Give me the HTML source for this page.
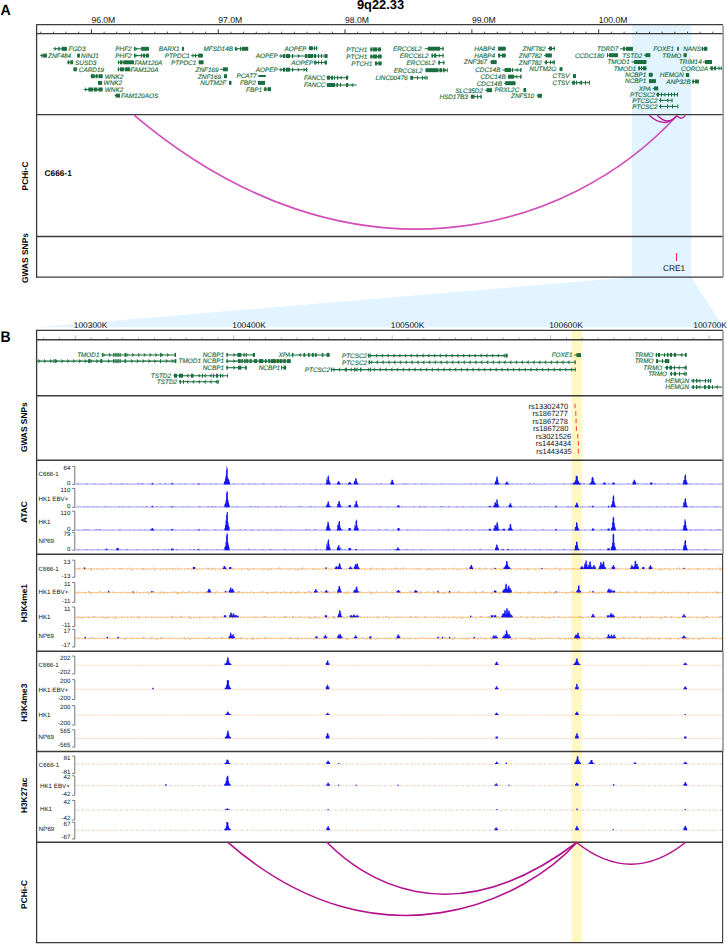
<!DOCTYPE html>
<html><head><meta charset="utf-8"><title>9q22.33</title>
<style>html,body{margin:0;padding:0;background:#fff;}svg{display:block;}text{font-family:"Liberation Sans",sans-serif;text-rendering:geometricPrecision;}</style>
</head><body>
<svg width="727" height="944" viewBox="0 0 727 944">
<rect x="0" y="0" width="727" height="944" fill="#fff"/>
<rect x="632" y="24.8" width="59.3" height="252.5" fill="#e2f4ff"/>
<polygon points="632,277.2 691.3,277.2 723.5,327.2 36.6,327.2" fill="#e2f4ff"/>
<rect x="571.5" y="331" width="10.5" height="612" fill="#fff8c2"/>
<text x="0" y="0" font-size="14.2" font-weight="bold" fill="#000" transform="translate(0.5,14.85) scale(1,1.06)">A</text>
<text x="0" y="0" font-size="14" font-weight="bold" fill="#000" transform="translate(0.4,342.0) scale(1,1.1)">B</text>
<text x="356.9" y="8.8" font-size="12.9" text-anchor="start" font-weight="bold" font-style="normal" fill="#000" >9q22.33</text>
<line x1="40.67" y1="33.3" x2="40.67" y2="31.6" stroke="#333" stroke-width="0.8"/>
<line x1="53.35" y1="33.3" x2="53.35" y2="31.6" stroke="#333" stroke-width="0.8"/>
<line x1="66.03" y1="33.3" x2="66.03" y2="31.6" stroke="#333" stroke-width="0.8"/>
<line x1="78.72" y1="33.3" x2="78.72" y2="31.6" stroke="#333" stroke-width="0.8"/>
<line x1="91.40" y1="33.3" x2="91.40" y2="29.3" stroke="#333" stroke-width="1.0"/>
<line x1="104.08" y1="33.3" x2="104.08" y2="31.6" stroke="#333" stroke-width="0.8"/>
<line x1="116.77" y1="33.3" x2="116.77" y2="31.6" stroke="#333" stroke-width="0.8"/>
<line x1="129.45" y1="33.3" x2="129.45" y2="31.6" stroke="#333" stroke-width="0.8"/>
<line x1="142.13" y1="33.3" x2="142.13" y2="31.6" stroke="#333" stroke-width="0.8"/>
<line x1="154.81" y1="33.3" x2="154.81" y2="31.6" stroke="#333" stroke-width="0.8"/>
<line x1="167.50" y1="33.3" x2="167.50" y2="31.6" stroke="#333" stroke-width="0.8"/>
<line x1="180.18" y1="33.3" x2="180.18" y2="31.6" stroke="#333" stroke-width="0.8"/>
<line x1="192.86" y1="33.3" x2="192.86" y2="31.6" stroke="#333" stroke-width="0.8"/>
<line x1="205.55" y1="33.3" x2="205.55" y2="31.6" stroke="#333" stroke-width="0.8"/>
<line x1="218.23" y1="33.3" x2="218.23" y2="29.3" stroke="#333" stroke-width="1.0"/>
<line x1="230.91" y1="33.3" x2="230.91" y2="31.6" stroke="#333" stroke-width="0.8"/>
<line x1="243.60" y1="33.3" x2="243.60" y2="31.6" stroke="#333" stroke-width="0.8"/>
<line x1="256.28" y1="33.3" x2="256.28" y2="31.6" stroke="#333" stroke-width="0.8"/>
<line x1="268.96" y1="33.3" x2="268.96" y2="31.6" stroke="#333" stroke-width="0.8"/>
<line x1="281.64" y1="33.3" x2="281.64" y2="31.6" stroke="#333" stroke-width="0.8"/>
<line x1="294.33" y1="33.3" x2="294.33" y2="31.6" stroke="#333" stroke-width="0.8"/>
<line x1="307.01" y1="33.3" x2="307.01" y2="31.6" stroke="#333" stroke-width="0.8"/>
<line x1="319.69" y1="33.3" x2="319.69" y2="31.6" stroke="#333" stroke-width="0.8"/>
<line x1="332.38" y1="33.3" x2="332.38" y2="31.6" stroke="#333" stroke-width="0.8"/>
<line x1="345.06" y1="33.3" x2="345.06" y2="29.3" stroke="#333" stroke-width="1.0"/>
<line x1="357.74" y1="33.3" x2="357.74" y2="31.6" stroke="#333" stroke-width="0.8"/>
<line x1="370.43" y1="33.3" x2="370.43" y2="31.6" stroke="#333" stroke-width="0.8"/>
<line x1="383.11" y1="33.3" x2="383.11" y2="31.6" stroke="#333" stroke-width="0.8"/>
<line x1="395.79" y1="33.3" x2="395.79" y2="31.6" stroke="#333" stroke-width="0.8"/>
<line x1="408.48" y1="33.3" x2="408.48" y2="31.6" stroke="#333" stroke-width="0.8"/>
<line x1="421.16" y1="33.3" x2="421.16" y2="31.6" stroke="#333" stroke-width="0.8"/>
<line x1="433.84" y1="33.3" x2="433.84" y2="31.6" stroke="#333" stroke-width="0.8"/>
<line x1="446.52" y1="33.3" x2="446.52" y2="31.6" stroke="#333" stroke-width="0.8"/>
<line x1="459.21" y1="33.3" x2="459.21" y2="31.6" stroke="#333" stroke-width="0.8"/>
<line x1="471.89" y1="33.3" x2="471.89" y2="29.3" stroke="#333" stroke-width="1.0"/>
<line x1="484.57" y1="33.3" x2="484.57" y2="31.6" stroke="#333" stroke-width="0.8"/>
<line x1="497.26" y1="33.3" x2="497.26" y2="31.6" stroke="#333" stroke-width="0.8"/>
<line x1="509.94" y1="33.3" x2="509.94" y2="31.6" stroke="#333" stroke-width="0.8"/>
<line x1="522.62" y1="33.3" x2="522.62" y2="31.6" stroke="#333" stroke-width="0.8"/>
<line x1="535.31" y1="33.3" x2="535.31" y2="31.6" stroke="#333" stroke-width="0.8"/>
<line x1="547.99" y1="33.3" x2="547.99" y2="31.6" stroke="#333" stroke-width="0.8"/>
<line x1="560.67" y1="33.3" x2="560.67" y2="31.6" stroke="#333" stroke-width="0.8"/>
<line x1="573.35" y1="33.3" x2="573.35" y2="31.6" stroke="#333" stroke-width="0.8"/>
<line x1="586.04" y1="33.3" x2="586.04" y2="31.6" stroke="#333" stroke-width="0.8"/>
<line x1="598.72" y1="33.3" x2="598.72" y2="29.3" stroke="#333" stroke-width="1.0"/>
<line x1="611.40" y1="33.3" x2="611.40" y2="31.6" stroke="#333" stroke-width="0.8"/>
<line x1="624.09" y1="33.3" x2="624.09" y2="31.6" stroke="#333" stroke-width="0.8"/>
<line x1="636.77" y1="33.3" x2="636.77" y2="31.6" stroke="#333" stroke-width="0.8"/>
<line x1="649.45" y1="33.3" x2="649.45" y2="31.6" stroke="#333" stroke-width="0.8"/>
<line x1="662.13" y1="33.3" x2="662.13" y2="31.6" stroke="#333" stroke-width="0.8"/>
<line x1="674.82" y1="33.3" x2="674.82" y2="31.6" stroke="#333" stroke-width="0.8"/>
<line x1="687.50" y1="33.3" x2="687.50" y2="31.6" stroke="#333" stroke-width="0.8"/>
<line x1="700.18" y1="33.3" x2="700.18" y2="31.6" stroke="#333" stroke-width="0.8"/>
<line x1="712.87" y1="33.3" x2="712.87" y2="31.6" stroke="#333" stroke-width="0.8"/>
<text x="91.4" y="23.0" font-size="8.6" text-anchor="start" font-weight="normal" font-style="normal" fill="#111" >96.0M</text>
<text x="218.2" y="23.0" font-size="8.6" text-anchor="start" font-weight="normal" font-style="normal" fill="#111" >97.0M</text>
<text x="345.1" y="23.0" font-size="8.6" text-anchor="start" font-weight="normal" font-style="normal" fill="#111" >98.0M</text>
<text x="471.9" y="23.0" font-size="8.6" text-anchor="start" font-weight="normal" font-style="normal" fill="#111" >99.0M</text>
<text x="598.7" y="23.0" font-size="8.6" text-anchor="start" font-weight="normal" font-style="normal" fill="#111" >100.0M</text>
<line x1="36.6" y1="24.6" x2="722.9" y2="24.6" stroke="#3a3a3a" stroke-width="1.3"/>
<line x1="36.6" y1="33.6" x2="722.9" y2="33.6" stroke="#3a3a3a" stroke-width="1.4"/>
<line x1="36.6" y1="114.6" x2="722.9" y2="114.6" stroke="#3a3a3a" stroke-width="1.3"/>
<line x1="36.6" y1="236.5" x2="722.9" y2="236.5" stroke="#3a3a3a" stroke-width="1.3"/>
<line x1="36.6" y1="277.1" x2="722.9" y2="277.1" stroke="#3a3a3a" stroke-width="1.3"/>
<line x1="36.6" y1="24.2" x2="36.6" y2="277.7" stroke="#3a3a3a" stroke-width="1.3"/>
<line x1="723.1" y1="25.2" x2="723.1" y2="277.1" stroke="#8c8c8c" stroke-width="1.4"/>
<text x="0" y="0" font-size="8.4" text-anchor="middle" font-weight="bold" fill="#000" transform="translate(25.1,176.0) rotate(-90)" dominant-baseline="central">PCHi-C</text>
<text x="0" y="0" font-size="8.4" text-anchor="middle" font-weight="bold" fill="#000" transform="translate(25.1,258.0) rotate(-90)" dominant-baseline="central">GWAS SNPs</text>
<text x="44.6" y="176.4" font-size="8.3" text-anchor="start" font-weight="bold" font-style="normal" fill="#000" >C666-1</text>
<line x1="676.5" y1="253.2" x2="676.5" y2="261" stroke="#ee3344" stroke-width="1.2"/>
<text x="662.9" y="270.8" font-size="8.4" text-anchor="start" font-weight="normal" font-style="normal" fill="#111" >CRE1</text>
<line x1="43.50" y1="339.5" x2="43.50" y2="337.5" stroke="#999" stroke-width="0.8"/>
<line x1="59.35" y1="339.5" x2="59.35" y2="337.5" stroke="#999" stroke-width="0.8"/>
<line x1="75.20" y1="339.5" x2="75.20" y2="335.2" stroke="#bbb" stroke-width="1"/>
<line x1="91.05" y1="339.5" x2="91.05" y2="337.5" stroke="#999" stroke-width="0.8"/>
<line x1="106.90" y1="339.5" x2="106.90" y2="337.5" stroke="#999" stroke-width="0.8"/>
<line x1="122.74" y1="339.5" x2="122.74" y2="337.5" stroke="#999" stroke-width="0.8"/>
<line x1="138.59" y1="339.5" x2="138.59" y2="337.5" stroke="#999" stroke-width="0.8"/>
<line x1="154.44" y1="339.5" x2="154.44" y2="337.5" stroke="#999" stroke-width="0.8"/>
<line x1="170.29" y1="339.5" x2="170.29" y2="337.5" stroke="#999" stroke-width="0.8"/>
<line x1="186.14" y1="339.5" x2="186.14" y2="337.5" stroke="#999" stroke-width="0.8"/>
<line x1="201.98" y1="339.5" x2="201.98" y2="337.5" stroke="#999" stroke-width="0.8"/>
<line x1="217.83" y1="339.5" x2="217.83" y2="337.5" stroke="#999" stroke-width="0.8"/>
<line x1="233.68" y1="339.5" x2="233.68" y2="335.2" stroke="#bbb" stroke-width="1"/>
<line x1="249.53" y1="339.5" x2="249.53" y2="337.5" stroke="#999" stroke-width="0.8"/>
<line x1="265.38" y1="339.5" x2="265.38" y2="337.5" stroke="#999" stroke-width="0.8"/>
<line x1="281.22" y1="339.5" x2="281.22" y2="337.5" stroke="#999" stroke-width="0.8"/>
<line x1="297.07" y1="339.5" x2="297.07" y2="337.5" stroke="#999" stroke-width="0.8"/>
<line x1="312.92" y1="339.5" x2="312.92" y2="337.5" stroke="#999" stroke-width="0.8"/>
<line x1="328.77" y1="339.5" x2="328.77" y2="337.5" stroke="#999" stroke-width="0.8"/>
<line x1="344.62" y1="339.5" x2="344.62" y2="337.5" stroke="#999" stroke-width="0.8"/>
<line x1="360.46" y1="339.5" x2="360.46" y2="337.5" stroke="#999" stroke-width="0.8"/>
<line x1="376.31" y1="339.5" x2="376.31" y2="337.5" stroke="#999" stroke-width="0.8"/>
<line x1="392.16" y1="339.5" x2="392.16" y2="335.2" stroke="#bbb" stroke-width="1"/>
<line x1="408.01" y1="339.5" x2="408.01" y2="337.5" stroke="#999" stroke-width="0.8"/>
<line x1="423.86" y1="339.5" x2="423.86" y2="337.5" stroke="#999" stroke-width="0.8"/>
<line x1="439.70" y1="339.5" x2="439.70" y2="337.5" stroke="#999" stroke-width="0.8"/>
<line x1="455.55" y1="339.5" x2="455.55" y2="337.5" stroke="#999" stroke-width="0.8"/>
<line x1="471.40" y1="339.5" x2="471.40" y2="337.5" stroke="#999" stroke-width="0.8"/>
<line x1="487.25" y1="339.5" x2="487.25" y2="337.5" stroke="#999" stroke-width="0.8"/>
<line x1="503.10" y1="339.5" x2="503.10" y2="337.5" stroke="#999" stroke-width="0.8"/>
<line x1="518.94" y1="339.5" x2="518.94" y2="337.5" stroke="#999" stroke-width="0.8"/>
<line x1="534.79" y1="339.5" x2="534.79" y2="337.5" stroke="#999" stroke-width="0.8"/>
<line x1="550.64" y1="339.5" x2="550.64" y2="335.2" stroke="#bbb" stroke-width="1"/>
<line x1="566.49" y1="339.5" x2="566.49" y2="337.5" stroke="#999" stroke-width="0.8"/>
<line x1="582.34" y1="339.5" x2="582.34" y2="337.5" stroke="#999" stroke-width="0.8"/>
<line x1="598.18" y1="339.5" x2="598.18" y2="337.5" stroke="#999" stroke-width="0.8"/>
<line x1="614.03" y1="339.5" x2="614.03" y2="337.5" stroke="#999" stroke-width="0.8"/>
<line x1="629.88" y1="339.5" x2="629.88" y2="337.5" stroke="#999" stroke-width="0.8"/>
<line x1="645.73" y1="339.5" x2="645.73" y2="337.5" stroke="#999" stroke-width="0.8"/>
<line x1="661.58" y1="339.5" x2="661.58" y2="337.5" stroke="#999" stroke-width="0.8"/>
<line x1="677.42" y1="339.5" x2="677.42" y2="337.5" stroke="#999" stroke-width="0.8"/>
<line x1="693.27" y1="339.5" x2="693.27" y2="337.5" stroke="#999" stroke-width="0.8"/>
<line x1="709.12" y1="339.5" x2="709.12" y2="335.2" stroke="#bbb" stroke-width="1"/>
<text x="73.8" y="327.9" font-size="8.4" text-anchor="start" font-weight="normal" font-style="normal" fill="#111" >100300K</text>
<text x="232.3" y="327.9" font-size="8.4" text-anchor="start" font-weight="normal" font-style="normal" fill="#111" >100400K</text>
<text x="390.8" y="327.9" font-size="8.4" text-anchor="start" font-weight="normal" font-style="normal" fill="#111" >100500K</text>
<text x="549.2" y="327.9" font-size="8.4" text-anchor="start" font-weight="normal" font-style="normal" fill="#111" >100600K</text>
<text x="726.8" y="327.9" font-size="8.4" text-anchor="end" font-weight="normal" font-style="normal" fill="#111" >100700K</text>
<line x1="36.6" y1="330.4" x2="722.9" y2="330.4" stroke="#3a3a3a" stroke-width="1.4"/>
<line x1="36.6" y1="339.8" x2="722.9" y2="339.8" stroke="#3a3a3a" stroke-width="1.6"/>
<line x1="36.6" y1="395.8" x2="722.9" y2="395.8" stroke="#3a3a3a" stroke-width="1.4"/>
<line x1="36.6" y1="460.3" x2="722.9" y2="460.3" stroke="#3a3a3a" stroke-width="1.4"/>
<line x1="36.6" y1="554.2" x2="722.9" y2="554.2" stroke="#3a3a3a" stroke-width="1.4"/>
<line x1="36.6" y1="651.2" x2="722.9" y2="651.2" stroke="#3a3a3a" stroke-width="1.4"/>
<line x1="36.6" y1="751.5" x2="722.9" y2="751.5" stroke="#3a3a3a" stroke-width="1.4"/>
<line x1="36.6" y1="842.3" x2="722.9" y2="842.3" stroke="#3a3a3a" stroke-width="1.4"/>
<line x1="36.6" y1="942.6" x2="722.9" y2="942.6" stroke="#3a3a3a" stroke-width="1.4"/>
<line x1="36.6" y1="329.8" x2="36.6" y2="943.3" stroke="#3a3a3a" stroke-width="1.3"/>
<line x1="723.0" y1="331" x2="723.0" y2="460.3" stroke="#8c8c8c" stroke-width="1.4"/>
<line x1="723.0" y1="460.3" x2="723.0" y2="554.2" stroke="#8c8c8c" stroke-width="1.5"/>
<line x1="722.6" y1="554.2" x2="722.6" y2="651.2" stroke="#3a3a3a" stroke-width="1.1"/>
<line x1="723.0" y1="651.2" x2="723.0" y2="751.5" stroke="#8c8c8c" stroke-width="1.5"/>
<line x1="722.6" y1="751.5" x2="722.6" y2="943.3" stroke="#3a3a3a" stroke-width="1.1"/>
<text x="0" y="0" font-size="8.4" text-anchor="middle" font-weight="bold" fill="#000" transform="translate(24.2,427.2) rotate(-90)" dominant-baseline="central">GWAS SNPs</text>
<text x="0" y="0" font-size="8.4" text-anchor="middle" font-weight="bold" fill="#000" transform="translate(24.0,512.1) rotate(-90)" dominant-baseline="central">ATAC</text>
<text x="0" y="0" font-size="8.4" text-anchor="middle" font-weight="bold" fill="#000" transform="translate(24.0,603.1) rotate(-90)" dominant-baseline="central">H3K4me1</text>
<text x="0" y="0" font-size="8.4" text-anchor="middle" font-weight="bold" fill="#000" transform="translate(24.0,702.7) rotate(-90)" dominant-baseline="central">H3K4me3</text>
<text x="0" y="0" font-size="8.4" text-anchor="middle" font-weight="bold" fill="#000" transform="translate(24.0,795.4) rotate(-90)" dominant-baseline="central">H3K27ac</text>
<text x="0" y="0" font-size="8.4" text-anchor="middle" font-weight="bold" fill="#000" transform="translate(24.3,894.5) rotate(-90)" dominant-baseline="central">PCHi-C</text>
<line x1="53.2" y1="48.8" x2="66.8" y2="48.8" stroke="#1b6e3f" stroke-width="1.05"/><polygon points="56.60,48.80 54.60,46.90 55.20,48.80 54.60,50.70" fill="#1b6e3f" stroke="#1b6e3f" stroke-width="0.35"/><rect x="58.2" y="46.8" width="1.4" height="4.0" fill="#1b6e3f"/><rect x="61.6" y="46.8" width="5.2" height="4.0" fill="#1b6e3f"/><text x="68.5" y="51.1" font-size="6.4" text-anchor="start" font-style="italic" fill="#1b6e3f" stroke="#1b6e3f" stroke-width="0.14">FGD3</text>
<line x1="40.2" y1="55.6" x2="46.9" y2="55.6" stroke="#1b6e3f" stroke-width="1.05"/><rect x="41.4" y="53.6" width="1.2" height="4.0" fill="#1b6e3f"/><rect x="43.2" y="53.6" width="3.7" height="4.0" fill="#1b6e3f"/><text x="48.1" y="57.9" font-size="6.4" text-anchor="start" font-style="italic" fill="#1b6e3f" stroke="#1b6e3f" stroke-width="0.14">ZNF484</text>
<line x1="77.2" y1="55.6" x2="79.9" y2="55.6" stroke="#1b6e3f" stroke-width="1.05"/><rect x="77.2" y="53.6" width="2.7" height="4.0" fill="#1b6e3f"/><text x="81.1" y="57.9" font-size="6.4" text-anchor="start" font-style="italic" fill="#1b6e3f" stroke="#1b6e3f" stroke-width="0.14">NINJ1</text>
<line x1="67.3" y1="62.3" x2="73.1" y2="62.3" stroke="#1b6e3f" stroke-width="1.05"/><rect x="67.6" y="60.3" width="1.7" height="4.0" fill="#1b6e3f"/><rect x="70.3" y="60.3" width="2.8" height="4.0" fill="#1b6e3f"/><text x="75.0" y="64.6" font-size="6.4" text-anchor="start" font-style="italic" fill="#1b6e3f" stroke="#1b6e3f" stroke-width="0.14">SUSD3</text>
<line x1="73.5" y1="69.3" x2="76.9" y2="69.3" stroke="#1b6e3f" stroke-width="1.05"/><rect x="73.5" y="67.3" width="3.4" height="4.0" fill="#1b6e3f"/><text x="78.8" y="71.6" font-size="6.4" text-anchor="start" font-style="italic" fill="#1b6e3f" stroke="#1b6e3f" stroke-width="0.14">CARD19</text>
<line x1="90.5" y1="76.2" x2="102.6" y2="76.2" stroke="#1b6e3f" stroke-width="1.05"/><rect x="91.0" y="74.2" width="3.8" height="4.0" fill="#1b6e3f"/><rect x="95.6" y="74.2" width="2.0" height="4.0" fill="#1b6e3f"/><rect x="98.6" y="74.2" width="4.0" height="4.0" fill="#1b6e3f"/><text x="104.8" y="78.5" font-size="6.4" text-anchor="start" font-style="italic" fill="#1b6e3f" stroke="#1b6e3f" stroke-width="0.14">WNK2</text>
<line x1="98.0" y1="82.9" x2="102.1" y2="82.9" stroke="#1b6e3f" stroke-width="1.05"/><rect x="98.0" y="80.9" width="4.1" height="4.0" fill="#1b6e3f"/><text x="103.6" y="85.2" font-size="6.4" text-anchor="start" font-style="italic" fill="#1b6e3f" stroke="#1b6e3f" stroke-width="0.14">WNK2</text>
<line x1="83.7" y1="89.5" x2="102.6" y2="89.5" stroke="#1b6e3f" stroke-width="1.05"/><polygon points="87.10,89.50 85.10,87.60 85.70,89.50 85.10,91.40" fill="#1b6e3f" stroke="#1b6e3f" stroke-width="0.35"/><rect x="88.3" y="87.5" width="4.7" height="4.0" fill="#1b6e3f"/><rect x="93.8" y="87.5" width="3.6" height="4.0" fill="#1b6e3f"/><rect x="98.4" y="87.5" width="4.2" height="4.0" fill="#1b6e3f"/><text x="104.8" y="91.8" font-size="6.4" text-anchor="start" font-style="italic" fill="#1b6e3f" stroke="#1b6e3f" stroke-width="0.14">WNK2</text>
<line x1="114.7" y1="95.6" x2="120.0" y2="95.6" stroke="#1b6e3f" stroke-width="1.05"/><rect x="115.6" y="93.6" width="4.4" height="4.0" fill="#1b6e3f"/><text x="121.0" y="97.9" font-size="6.4" text-anchor="start" font-style="italic" fill="#1b6e3f" stroke="#1b6e3f" stroke-width="0.14">FAM120AOS</text>
<line x1="133.9" y1="48.8" x2="148.9" y2="48.8" stroke="#1b6e3f" stroke-width="1.05"/><polygon points="137.30,48.80 135.30,46.90 135.90,48.80 135.30,50.70" fill="#1b6e3f" stroke="#1b6e3f" stroke-width="0.35"/><rect x="134.0" y="46.8" width="1.0" height="4.0" fill="#1b6e3f"/><rect x="141.2" y="46.8" width="7.7" height="4.0" fill="#1b6e3f"/><text x="131.6" y="51.1" font-size="6.4" text-anchor="end" font-style="italic" fill="#1b6e3f" stroke="#1b6e3f" stroke-width="0.14">PHF2</text>
<line x1="133.9" y1="55.6" x2="148.9" y2="55.6" stroke="#1b6e3f" stroke-width="1.05"/><polygon points="137.30,55.60 135.30,53.70 135.90,55.60 135.30,57.50" fill="#1b6e3f" stroke="#1b6e3f" stroke-width="0.35"/><rect x="134.0" y="53.6" width="1.0" height="4.0" fill="#1b6e3f"/><rect x="140.8" y="53.6" width="1.2" height="4.0" fill="#1b6e3f"/><rect x="143.0" y="53.6" width="2.2" height="4.0" fill="#1b6e3f"/><rect x="146.0" y="53.6" width="2.9" height="4.0" fill="#1b6e3f"/><text x="131.6" y="57.9" font-size="6.4" text-anchor="end" font-style="italic" fill="#1b6e3f" stroke="#1b6e3f" stroke-width="0.14">PHF2</text>
<line x1="117.6" y1="62.3" x2="133.9" y2="62.3" stroke="#1b6e3f" stroke-width="1.05"/><rect x="118.0" y="60.3" width="1.0" height="4.0" fill="#1b6e3f"/><rect x="120.0" y="60.3" width="2.5" height="4.0" fill="#1b6e3f"/><rect x="123.3" y="60.3" width="10.6" height="4.0" fill="#1b6e3f"/><text x="134.4" y="64.6" font-size="6.4" text-anchor="start" font-style="italic" fill="#1b6e3f" stroke="#1b6e3f" stroke-width="0.14">FAM120A</text>
<line x1="117.6" y1="69.3" x2="130.2" y2="69.3" stroke="#1b6e3f" stroke-width="1.05"/><rect x="118.0" y="67.3" width="1.0" height="4.0" fill="#1b6e3f"/><rect x="120.0" y="67.3" width="4.0" height="4.0" fill="#1b6e3f"/><rect x="125.0" y="67.3" width="5.2" height="4.0" fill="#1b6e3f"/><text x="130.5" y="71.6" font-size="6.4" text-anchor="start" font-style="italic" fill="#1b6e3f" stroke="#1b6e3f" stroke-width="0.14">FAM120A</text>
<line x1="182.0" y1="48.8" x2="183.9" y2="48.8" stroke="#1b6e3f" stroke-width="1.05"/><rect x="182.0" y="46.8" width="1.9" height="4.0" fill="#1b6e3f"/><text x="179.6" y="51.1" font-size="6.4" text-anchor="end" font-style="italic" fill="#1b6e3f" stroke="#1b6e3f" stroke-width="0.14">BARX1</text>
<line x1="234.6" y1="48.8" x2="248.2" y2="48.8" stroke="#1b6e3f" stroke-width="1.05"/><polygon points="238.00,48.80 236.00,46.90 236.60,48.80 236.00,50.70" fill="#1b6e3f" stroke="#1b6e3f" stroke-width="0.35"/><rect x="235.0" y="46.8" width="1.0" height="4.0" fill="#1b6e3f"/><rect x="240.0" y="46.8" width="1.2" height="4.0" fill="#1b6e3f"/><rect x="242.0" y="46.8" width="6.2" height="4.0" fill="#1b6e3f"/><text x="233.0" y="51.1" font-size="6.4" text-anchor="end" font-style="italic" fill="#1b6e3f" stroke="#1b6e3f" stroke-width="0.14">MFSD14B</text>
<line x1="191.1" y1="55.6" x2="202.8" y2="55.6" stroke="#1b6e3f" stroke-width="1.05"/><polygon points="194.50,55.60 192.50,53.70 193.10,55.60 192.50,57.50" fill="#1b6e3f" stroke="#1b6e3f" stroke-width="0.35"/><rect x="195.0" y="53.6" width="1.2" height="4.0" fill="#1b6e3f"/><rect x="198.2" y="53.6" width="4.6" height="4.0" fill="#1b6e3f"/><text x="189.9" y="57.9" font-size="6.4" text-anchor="end" font-style="italic" fill="#1b6e3f" stroke="#1b6e3f" stroke-width="0.14">PTPDC1</text>
<line x1="198.7" y1="62.3" x2="203.5" y2="62.3" stroke="#1b6e3f" stroke-width="1.05"/><rect x="198.7" y="60.3" width="4.8" height="4.0" fill="#1b6e3f"/><text x="196.3" y="64.6" font-size="6.4" text-anchor="end" font-style="italic" fill="#1b6e3f" stroke="#1b6e3f" stroke-width="0.14">PTPDC1</text>
<line x1="220.2" y1="69.3" x2="227.8" y2="69.3" stroke="#1b6e3f" stroke-width="1.05"/><rect x="223.0" y="67.3" width="4.8" height="4.0" fill="#1b6e3f"/><text x="218.7" y="71.6" font-size="6.4" text-anchor="end" font-style="italic" fill="#1b6e3f" stroke="#1b6e3f" stroke-width="0.14">ZNF169</text>
<line x1="224.0" y1="76.2" x2="227.0" y2="76.2" stroke="#1b6e3f" stroke-width="1.05"/><rect x="224.0" y="74.2" width="3.0" height="4.0" fill="#1b6e3f"/><text x="221.0" y="78.5" font-size="6.4" text-anchor="end" font-style="italic" fill="#1b6e3f" stroke="#1b6e3f" stroke-width="0.14">ZNF169</text>
<line x1="229.0" y1="82.9" x2="231.4" y2="82.9" stroke="#1b6e3f" stroke-width="1.05"/><rect x="229.0" y="80.9" width="2.4" height="4.0" fill="#1b6e3f"/><text x="226.2" y="85.2" font-size="6.4" text-anchor="end" font-style="italic" fill="#1b6e3f" stroke="#1b6e3f" stroke-width="0.14">NUTM2F</text>
<line x1="257.4" y1="76.0" x2="265.7" y2="76.0" stroke="#1b6e3f" stroke-width="1.05"/><rect x="259.0" y="75.0" width="6.7" height="2.0" fill="#1b6e3f"/><text x="256.6" y="78.3" font-size="6.4" text-anchor="end" font-style="italic" fill="#1b6e3f" stroke="#1b6e3f" stroke-width="0.14">PCAT7</text>
<line x1="257.9" y1="82.9" x2="265.0" y2="82.9" stroke="#1b6e3f" stroke-width="1.05"/><rect x="258.0" y="80.9" width="7.0" height="4.0" fill="#1b6e3f"/><text x="255.9" y="85.2" font-size="6.4" text-anchor="end" font-style="italic" fill="#1b6e3f" stroke="#1b6e3f" stroke-width="0.14">FBP2</text>
<line x1="263.5" y1="89.2" x2="271.0" y2="89.2" stroke="#1b6e3f" stroke-width="1.05"/><rect x="264.2" y="87.2" width="2.2" height="4.0" fill="#1b6e3f"/><rect x="267.6" y="87.2" width="3.4" height="4.0" fill="#1b6e3f"/><text x="262.0" y="91.5" font-size="6.4" text-anchor="end" font-style="italic" fill="#1b6e3f" stroke="#1b6e3f" stroke-width="0.14">FBP1</text>
<line x1="308.8" y1="48.2" x2="317.2" y2="48.2" stroke="#1b6e3f" stroke-width="1.05"/><rect x="309.0" y="46.2" width="3.8" height="4.0" fill="#1b6e3f"/><rect x="314.0" y="46.2" width="1.0" height="4.0" fill="#1b6e3f"/><rect x="316.0" y="46.2" width="1.2" height="4.0" fill="#1b6e3f"/><text x="306.6" y="50.5" font-size="6.4" text-anchor="end" font-style="italic" fill="#1b6e3f" stroke="#1b6e3f" stroke-width="0.14">AOPEP</text>
<line x1="279.0" y1="56.0" x2="327.5" y2="56.0" stroke="#1b6e3f" stroke-width="1.05"/><polygon points="282.40,56.00 280.40,54.10 281.00,56.00 280.40,57.90" fill="#1b6e3f" stroke="#1b6e3f" stroke-width="0.35"/><polygon points="299.80,56.00 297.80,54.10 298.40,56.00 297.80,57.90" fill="#1b6e3f" stroke="#1b6e3f" stroke-width="0.35"/><rect x="283.0" y="54.0" width="2.2" height="4.0" fill="#1b6e3f"/><rect x="286.0" y="54.0" width="4.0" height="4.0" fill="#1b6e3f"/><rect x="292.0" y="54.0" width="1.2" height="4.0" fill="#1b6e3f"/><rect x="305.0" y="54.0" width="2.0" height="4.0" fill="#1b6e3f"/><rect x="307.6" y="54.0" width="5.4" height="4.0" fill="#1b6e3f"/><rect x="314.0" y="54.0" width="2.0" height="4.0" fill="#1b6e3f"/><rect x="318.0" y="54.0" width="1.0" height="4.0" fill="#1b6e3f"/><rect x="321.0" y="54.0" width="1.0" height="4.0" fill="#1b6e3f"/><rect x="324.5" y="54.0" width="3.0" height="4.0" fill="#1b6e3f"/><text x="277.8" y="58.3" font-size="6.4" text-anchor="end" font-style="italic" fill="#1b6e3f" stroke="#1b6e3f" stroke-width="0.14">AOPEP</text>
<line x1="314.1" y1="62.5" x2="327.0" y2="62.5" stroke="#1b6e3f" stroke-width="1.05"/><polygon points="317.50,62.50 315.50,60.60 316.10,62.50 315.50,64.40" fill="#1b6e3f" stroke="#1b6e3f" stroke-width="0.35"/><rect x="314.1" y="60.5" width="1.4" height="4.0" fill="#1b6e3f"/><rect x="318.0" y="60.5" width="1.0" height="4.0" fill="#1b6e3f"/><rect x="321.0" y="60.5" width="1.0" height="4.0" fill="#1b6e3f"/><rect x="324.5" y="60.5" width="2.5" height="4.0" fill="#1b6e3f"/><text x="313.4" y="64.8" font-size="6.4" text-anchor="end" font-style="italic" fill="#1b6e3f" stroke="#1b6e3f" stroke-width="0.14">AOPEP</text>
<line x1="279.0" y1="69.7" x2="307.3" y2="69.7" stroke="#1b6e3f" stroke-width="1.05"/><polygon points="282.40,69.70 280.40,67.80 281.00,69.70 280.40,71.60" fill="#1b6e3f" stroke="#1b6e3f" stroke-width="0.35"/><polygon points="299.80,69.70 297.80,67.80 298.40,69.70 297.80,71.60" fill="#1b6e3f" stroke="#1b6e3f" stroke-width="0.35"/><polygon points="305.60,69.70 303.60,67.80 304.20,69.70 303.60,71.60" fill="#1b6e3f" stroke="#1b6e3f" stroke-width="0.35"/><rect x="283.0" y="67.7" width="2.2" height="4.0" fill="#1b6e3f"/><rect x="286.0" y="67.7" width="4.0" height="4.0" fill="#1b6e3f"/><rect x="292.0" y="67.7" width="1.2" height="4.0" fill="#1b6e3f"/><rect x="306.0" y="67.7" width="1.3" height="4.0" fill="#1b6e3f"/><text x="277.8" y="72.0" font-size="6.4" text-anchor="end" font-style="italic" fill="#1b6e3f" stroke="#1b6e3f" stroke-width="0.14">AOPEP</text>
<line x1="326.5" y1="77.7" x2="348.2" y2="77.7" stroke="#1b6e3f" stroke-width="1.05"/><polygon points="339.70,77.70 341.70,75.80 341.10,77.70 341.70,79.60" fill="#1b6e3f" stroke="#1b6e3f" stroke-width="0.35"/><rect x="327.0" y="75.7" width="3.0" height="4.0" fill="#1b6e3f"/><rect x="331.0" y="75.7" width="2.0" height="4.0" fill="#1b6e3f"/><rect x="334.0" y="75.7" width="1.0" height="4.0" fill="#1b6e3f"/><rect x="337.0" y="75.7" width="1.2" height="4.0" fill="#1b6e3f"/><rect x="346.0" y="75.7" width="2.2" height="4.0" fill="#1b6e3f"/><text x="325.5" y="80.0" font-size="6.4" text-anchor="end" font-style="italic" fill="#1b6e3f" stroke="#1b6e3f" stroke-width="0.14">FANCC</text>
<line x1="326.5" y1="85.0" x2="356.6" y2="85.0" stroke="#1b6e3f" stroke-width="1.05"/><polygon points="351.30,85.00 353.30,83.10 352.70,85.00 353.30,86.90" fill="#1b6e3f" stroke="#1b6e3f" stroke-width="0.35"/><rect x="327.0" y="83.0" width="8.0" height="4.0" fill="#1b6e3f"/><rect x="336.5" y="83.0" width="1.5" height="4.0" fill="#1b6e3f"/><rect x="340.0" y="83.0" width="1.0" height="4.0" fill="#1b6e3f"/><rect x="346.0" y="83.0" width="2.2" height="4.0" fill="#1b6e3f"/><text x="325.5" y="87.3" font-size="6.4" text-anchor="end" font-style="italic" fill="#1b6e3f" stroke="#1b6e3f" stroke-width="0.14">FANCC</text>
<line x1="370.3" y1="49.4" x2="380.9" y2="49.4" stroke="#1b6e3f" stroke-width="1.05"/><rect x="370.3" y="47.4" width="1.7" height="4.0" fill="#1b6e3f"/><rect x="372.5" y="47.4" width="4.7" height="4.0" fill="#1b6e3f"/><rect x="378.0" y="47.4" width="2.9" height="4.0" fill="#1b6e3f"/><text x="367.2" y="51.7" font-size="6.4" text-anchor="end" font-style="italic" fill="#1b6e3f" stroke="#1b6e3f" stroke-width="0.14">PTCH1</text>
<line x1="370.3" y1="56.5" x2="381.6" y2="56.5" stroke="#1b6e3f" stroke-width="1.05"/><rect x="370.3" y="54.5" width="1.7" height="4.0" fill="#1b6e3f"/><rect x="372.5" y="54.5" width="4.7" height="4.0" fill="#1b6e3f"/><rect x="378.0" y="54.5" width="3.6" height="4.0" fill="#1b6e3f"/><text x="367.2" y="58.8" font-size="6.4" text-anchor="end" font-style="italic" fill="#1b6e3f" stroke="#1b6e3f" stroke-width="0.14">PTCH1</text>
<line x1="374.8" y1="63.4" x2="381.6" y2="63.4" stroke="#1b6e3f" stroke-width="1.05"/><rect x="375.0" y="61.4" width="2.3" height="4.0" fill="#1b6e3f"/><rect x="378.3" y="61.4" width="3.3" height="4.0" fill="#1b6e3f"/><text x="372.2" y="65.7" font-size="6.4" text-anchor="end" font-style="italic" fill="#1b6e3f" stroke="#1b6e3f" stroke-width="0.14">PTCH1</text>
<line x1="424.7" y1="48.7" x2="443.6" y2="48.7" stroke="#1b6e3f" stroke-width="1.05"/><rect x="427.8" y="46.7" width="12.4" height="4.0" fill="#1b6e3f"/><rect x="442.4" y="46.7" width="1.2" height="4.0" fill="#1b6e3f"/><text x="421.7" y="51.0" font-size="6.4" text-anchor="end" font-style="italic" fill="#1b6e3f" stroke="#1b6e3f" stroke-width="0.14">ERCC6L2</text>
<line x1="431.5" y1="55.6" x2="443.6" y2="55.6" stroke="#1b6e3f" stroke-width="1.05"/><polygon points="440.70,55.60 438.70,53.70 439.30,55.60 438.70,57.50" fill="#1b6e3f" stroke="#1b6e3f" stroke-width="0.35"/><rect x="431.5" y="53.6" width="1.5" height="4.0" fill="#1b6e3f"/><rect x="434.0" y="53.6" width="2.3" height="4.0" fill="#1b6e3f"/><rect x="442.5" y="53.6" width="1.1" height="4.0" fill="#1b6e3f"/><text x="428.5" y="57.9" font-size="6.4" text-anchor="end" font-style="italic" fill="#1b6e3f" stroke="#1b6e3f" stroke-width="0.14">ERCC6L2</text>
<line x1="438.3" y1="62.6" x2="444.4" y2="62.6" stroke="#1b6e3f" stroke-width="1.05"/><rect x="438.3" y="60.6" width="1.7" height="4.0" fill="#1b6e3f"/><rect x="443.2" y="60.6" width="1.2" height="4.0" fill="#1b6e3f"/><text x="435.3" y="64.9" font-size="6.4" text-anchor="end" font-style="italic" fill="#1b6e3f" stroke="#1b6e3f" stroke-width="0.14">ERCC6L2</text>
<line x1="425.5" y1="70.2" x2="447.7" y2="70.2" stroke="#1b6e3f" stroke-width="1.05"/><polygon points="446.30,70.20 444.30,68.30 444.90,70.20 444.30,72.10" fill="#1b6e3f" stroke="#1b6e3f" stroke-width="0.35"/><rect x="425.5" y="68.2" width="13.0" height="4.0" fill="#1b6e3f"/><rect x="439.4" y="68.2" width="2.6" height="4.0" fill="#1b6e3f"/><rect x="443.0" y="68.2" width="1.2" height="4.0" fill="#1b6e3f"/><rect x="446.8" y="68.2" width="0.9" height="4.0" fill="#1b6e3f"/><text x="422.5" y="72.5" font-size="6.4" text-anchor="end" font-style="italic" fill="#1b6e3f" stroke="#1b6e3f" stroke-width="0.14">ERCC6L2</text>
<line x1="410.4" y1="77.8" x2="427.5" y2="77.8" stroke="#1b6e3f" stroke-width="1.05"/><polygon points="423.60,77.80 425.60,75.90 425.00,77.80 425.60,79.70" fill="#1b6e3f" stroke="#1b6e3f" stroke-width="0.35"/><rect x="410.4" y="75.8" width="2.6" height="4.0" fill="#1b6e3f"/><rect x="417.0" y="75.8" width="1.0" height="4.0" fill="#1b6e3f"/><rect x="422.0" y="75.8" width="1.0" height="4.0" fill="#1b6e3f"/><rect x="426.6" y="75.8" width="0.9" height="4.0" fill="#1b6e3f"/><text x="407.8" y="80.1" font-size="6.4" text-anchor="end" font-style="italic" fill="#1b6e3f" stroke="#1b6e3f" stroke-width="0.14">LINC00476</text>
<line x1="470.6" y1="96.7" x2="481.7" y2="96.7" stroke="#1b6e3f" stroke-width="1.05"/><rect x="471.0" y="94.7" width="3.5" height="4.0" fill="#1b6e3f"/><rect x="477.0" y="94.7" width="1.0" height="4.0" fill="#1b6e3f"/><rect x="480.4" y="94.7" width="1.3" height="4.0" fill="#1b6e3f"/><text x="467.8" y="99.0" font-size="6.4" text-anchor="end" font-style="italic" fill="#1b6e3f" stroke="#1b6e3f" stroke-width="0.14">HSD17B3</text>
<line x1="498.1" y1="48.7" x2="505.7" y2="48.7" stroke="#1b6e3f" stroke-width="1.05"/><rect x="498.1" y="46.7" width="7.6" height="4.0" fill="#1b6e3f"/><text x="495.1" y="51.0" font-size="6.4" text-anchor="end" font-style="italic" fill="#1b6e3f" stroke="#1b6e3f" stroke-width="0.14">HABP4</text>
<line x1="498.1" y1="55.5" x2="505.7" y2="55.5" stroke="#1b6e3f" stroke-width="1.05"/><rect x="498.1" y="53.5" width="2.2" height="4.0" fill="#1b6e3f"/><rect x="501.8" y="53.5" width="3.9" height="4.0" fill="#1b6e3f"/><text x="495.1" y="57.8" font-size="6.4" text-anchor="end" font-style="italic" fill="#1b6e3f" stroke="#1b6e3f" stroke-width="0.14">HABP4</text>
<line x1="489.8" y1="62.1" x2="496.6" y2="62.1" stroke="#1b6e3f" stroke-width="1.05"/><rect x="491.0" y="60.1" width="5.6" height="4.0" fill="#1b6e3f"/><text x="487.2" y="64.4" font-size="6.4" text-anchor="end" font-style="italic" fill="#1b6e3f" stroke="#1b6e3f" stroke-width="0.14">ZNF367</text>
<line x1="502.6" y1="70.0" x2="521.5" y2="70.0" stroke="#1b6e3f" stroke-width="1.05"/><polygon points="515.80,70.00 517.80,68.10 517.20,70.00 517.80,71.90" fill="#1b6e3f" stroke="#1b6e3f" stroke-width="0.35"/><rect x="504.6" y="68.0" width="6.4" height="4.0" fill="#1b6e3f"/><rect x="512.0" y="68.0" width="1.0" height="4.0" fill="#1b6e3f"/><rect x="520.2" y="68.0" width="1.3" height="4.0" fill="#1b6e3f"/><text x="500.4" y="72.3" font-size="6.4" text-anchor="end" font-style="italic" fill="#1b6e3f" stroke="#1b6e3f" stroke-width="0.14">CDC14B</text>
<line x1="507.9" y1="76.7" x2="521.5" y2="76.7" stroke="#1b6e3f" stroke-width="1.05"/><polygon points="515.30,76.70 517.30,74.80 516.70,76.70 517.30,78.60" fill="#1b6e3f" stroke="#1b6e3f" stroke-width="0.35"/><rect x="508.0" y="74.7" width="6.2" height="4.0" fill="#1b6e3f"/><rect x="520.2" y="74.7" width="1.3" height="4.0" fill="#1b6e3f"/><text x="505.7" y="79.0" font-size="6.4" text-anchor="end" font-style="italic" fill="#1b6e3f" stroke="#1b6e3f" stroke-width="0.14">CDC14B</text>
<line x1="504.1" y1="83.2" x2="515.5" y2="83.2" stroke="#1b6e3f" stroke-width="1.05"/><rect x="505.2" y="81.2" width="10.3" height="4.0" fill="#1b6e3f"/><text x="501.9" y="85.5" font-size="6.4" text-anchor="end" font-style="italic" fill="#1b6e3f" stroke="#1b6e3f" stroke-width="0.14">CDC14B</text>
<line x1="485.2" y1="90.2" x2="492.0" y2="90.2" stroke="#1b6e3f" stroke-width="1.05"/><rect x="486.5" y="88.2" width="5.5" height="4.0" fill="#1b6e3f"/><text x="483.0" y="92.5" font-size="6.4" text-anchor="end" font-style="italic" fill="#1b6e3f" stroke="#1b6e3f" stroke-width="0.14">SLC35D2</text>
<line x1="523.5" y1="90.0" x2="526.1" y2="90.0" stroke="#1b6e3f" stroke-width="1.05"/><rect x="523.5" y="88.0" width="2.6" height="4.0" fill="#1b6e3f"/><text x="519.3" y="92.3" font-size="6.4" text-anchor="end" font-style="italic" fill="#1b6e3f" stroke="#1b6e3f" stroke-width="0.14">PRXL2C</text>
<line x1="536.7" y1="95.8" x2="541.9" y2="95.8" stroke="#1b6e3f" stroke-width="1.05"/><rect x="537.6" y="93.8" width="4.3" height="4.0" fill="#1b6e3f"/><text x="534.1" y="98.1" font-size="6.4" text-anchor="end" font-style="italic" fill="#1b6e3f" stroke="#1b6e3f" stroke-width="0.14">ZNF510</text>
<line x1="548.0" y1="48.5" x2="554.8" y2="48.5" stroke="#1b6e3f" stroke-width="1.05"/><rect x="549.0" y="46.5" width="3.0" height="4.0" fill="#1b6e3f"/><rect x="553.6" y="46.5" width="1.2" height="4.0" fill="#1b6e3f"/><text x="545.7" y="50.8" font-size="6.4" text-anchor="end" font-style="italic" fill="#1b6e3f" stroke="#1b6e3f" stroke-width="0.14">ZNF782</text>
<line x1="544.2" y1="55.4" x2="551.8" y2="55.4" stroke="#1b6e3f" stroke-width="1.05"/><rect x="545.5" y="53.4" width="6.3" height="4.0" fill="#1b6e3f"/><text x="541.9" y="57.7" font-size="6.4" text-anchor="end" font-style="italic" fill="#1b6e3f" stroke="#1b6e3f" stroke-width="0.14">ZNF782</text>
<line x1="544.2" y1="62.3" x2="554.8" y2="62.3" stroke="#1b6e3f" stroke-width="1.05"/><polygon points="551.60,62.30 553.60,60.40 553.00,62.30 553.60,64.20" fill="#1b6e3f" stroke="#1b6e3f" stroke-width="0.35"/><rect x="545.2" y="60.3" width="1.8" height="4.0" fill="#1b6e3f"/><rect x="550.0" y="60.3" width="1.0" height="4.0" fill="#1b6e3f"/><rect x="553.8" y="60.3" width="1.0" height="4.0" fill="#1b6e3f"/><text x="541.9" y="64.6" font-size="6.4" text-anchor="end" font-style="italic" fill="#1b6e3f" stroke="#1b6e3f" stroke-width="0.14">ZNF782</text>
<line x1="559.6" y1="69.1" x2="562.4" y2="69.1" stroke="#1b6e3f" stroke-width="1.05"/><rect x="559.6" y="67.1" width="2.8" height="4.0" fill="#1b6e3f"/><text x="556.3" y="71.4" font-size="6.4" text-anchor="end" font-style="italic" fill="#1b6e3f" stroke="#1b6e3f" stroke-width="0.14">NUTM2G</text>
<line x1="573.0" y1="76.1" x2="576.0" y2="76.1" stroke="#1b6e3f" stroke-width="1.05"/><rect x="573.0" y="74.1" width="3.0" height="4.0" fill="#1b6e3f"/><text x="569.6" y="78.4" font-size="6.4" text-anchor="end" font-style="italic" fill="#1b6e3f" stroke="#1b6e3f" stroke-width="0.14">CTSV</text>
<line x1="571.4" y1="82.7" x2="589.9" y2="82.7" stroke="#1b6e3f" stroke-width="1.05"/><polygon points="578.80,82.70 580.80,80.80 580.20,82.70 580.80,84.60" fill="#1b6e3f" stroke="#1b6e3f" stroke-width="0.35"/><rect x="572.3" y="80.7" width="2.7" height="4.0" fill="#1b6e3f"/><rect x="576.0" y="80.7" width="1.0" height="4.0" fill="#1b6e3f"/><rect x="581.0" y="80.7" width="1.0" height="4.0" fill="#1b6e3f"/><rect x="585.0" y="80.7" width="1.0" height="4.0" fill="#1b6e3f"/><rect x="589.0" y="80.7" width="0.9" height="4.0" fill="#1b6e3f"/><text x="569.6" y="85.0" font-size="6.4" text-anchor="end" font-style="italic" fill="#1b6e3f" stroke="#1b6e3f" stroke-width="0.14">CTSV</text>
<line x1="620.1" y1="48.8" x2="632.9" y2="48.8" stroke="#1b6e3f" stroke-width="1.05"/><rect x="623.0" y="46.8" width="2.0" height="4.0" fill="#1b6e3f"/><rect x="626.0" y="46.8" width="6.9" height="4.0" fill="#1b6e3f"/><text x="618.4" y="51.1" font-size="6.4" text-anchor="end" font-style="italic" fill="#1b6e3f" stroke="#1b6e3f" stroke-width="0.14">TDRD7</text>
<line x1="607.0" y1="55.2" x2="618.0" y2="55.2" stroke="#1b6e3f" stroke-width="1.05"/><rect x="607.0" y="53.2" width="1.0" height="4.0" fill="#1b6e3f"/><rect x="609.0" y="53.2" width="9.0" height="4.0" fill="#1b6e3f"/><text x="604.0" y="57.5" font-size="6.4" text-anchor="end" font-style="italic" fill="#1b6e3f" stroke="#1b6e3f" stroke-width="0.14">CCDC180</text>
<line x1="644.0" y1="55.2" x2="650.3" y2="55.2" stroke="#1b6e3f" stroke-width="1.05"/><rect x="645.4" y="53.2" width="4.9" height="4.0" fill="#1b6e3f"/><text x="642.4" y="57.5" font-size="6.4" text-anchor="end" font-style="italic" fill="#1b6e3f" stroke="#1b6e3f" stroke-width="0.14">TSTD2</text>
<line x1="631.4" y1="62.0" x2="646.4" y2="62.0" stroke="#1b6e3f" stroke-width="1.05"/><rect x="634.0" y="60.0" width="12.4" height="4.0" fill="#1b6e3f"/><text x="629.8" y="64.3" font-size="6.4" text-anchor="end" font-style="italic" fill="#1b6e3f" stroke="#1b6e3f" stroke-width="0.14">TMOD1</text>
<line x1="638.2" y1="68.3" x2="646.4" y2="68.3" stroke="#1b6e3f" stroke-width="1.05"/><rect x="638.2" y="66.3" width="1.8" height="4.0" fill="#1b6e3f"/><rect x="641.0" y="66.3" width="1.2" height="4.0" fill="#1b6e3f"/><rect x="643.0" y="66.3" width="3.4" height="4.0" fill="#1b6e3f"/><text x="636.1" y="70.6" font-size="6.4" text-anchor="end" font-style="italic" fill="#1b6e3f" stroke="#1b6e3f" stroke-width="0.14">TMOD1</text>
<line x1="648.8" y1="74.8" x2="652.7" y2="74.8" stroke="#1b6e3f" stroke-width="1.05"/><rect x="648.8" y="72.8" width="3.9" height="4.0" fill="#1b6e3f"/><text x="646.4" y="77.1" font-size="6.4" text-anchor="end" font-style="italic" fill="#1b6e3f" stroke="#1b6e3f" stroke-width="0.14">NCBP1</text>
<line x1="648.8" y1="81.1" x2="655.9" y2="81.1" stroke="#1b6e3f" stroke-width="1.05"/><rect x="649.0" y="79.1" width="6.9" height="4.0" fill="#1b6e3f"/><text x="646.4" y="83.4" font-size="6.4" text-anchor="end" font-style="italic" fill="#1b6e3f" stroke="#1b6e3f" stroke-width="0.14">NCBP1</text>
<line x1="652.7" y1="88.4" x2="658.2" y2="88.4" stroke="#1b6e3f" stroke-width="1.05"/><rect x="654.0" y="86.4" width="4.2" height="4.0" fill="#1b6e3f"/><text x="651.1" y="90.7" font-size="6.4" text-anchor="end" font-style="italic" fill="#1b6e3f" stroke="#1b6e3f" stroke-width="0.14">XPA</text>
<line x1="655.9" y1="94.6" x2="678.0" y2="94.6" stroke="#1b6e3f" stroke-width="1.05"/><polygon points="663.30,94.60 665.30,92.70 664.70,94.60 665.30,96.50" fill="#1b6e3f" stroke="#1b6e3f" stroke-width="0.35"/><rect x="656.8" y="92.6" width="2.2" height="4.0" fill="#1b6e3f"/><rect x="661.0" y="92.6" width="1.0" height="4.0" fill="#1b6e3f"/><rect x="668.0" y="92.6" width="1.0" height="4.0" fill="#1b6e3f"/><rect x="671.0" y="92.6" width="1.0" height="4.0" fill="#1b6e3f"/><rect x="674.0" y="92.6" width="1.0" height="4.0" fill="#1b6e3f"/><rect x="677.0" y="92.6" width="1.0" height="4.0" fill="#1b6e3f"/><text x="655.1" y="96.9" font-size="6.4" text-anchor="end" font-style="italic" fill="#1b6e3f" stroke="#1b6e3f" stroke-width="0.14">PTCSC2</text>
<line x1="659.0" y1="100.3" x2="672.5" y2="100.3" stroke="#1b6e3f" stroke-width="1.05"/><polygon points="666.40,100.30 668.40,98.40 667.80,100.30 668.40,102.20" fill="#1b6e3f" stroke="#1b6e3f" stroke-width="0.35"/><rect x="660.0" y="98.3" width="1.2" height="4.0" fill="#1b6e3f"/><rect x="671.6" y="98.3" width="0.9" height="4.0" fill="#1b6e3f"/><text x="657.5" y="102.6" font-size="6.4" text-anchor="end" font-style="italic" fill="#1b6e3f" stroke="#1b6e3f" stroke-width="0.14">PTCSC2</text>
<line x1="659.0" y1="106.4" x2="678.3" y2="106.4" stroke="#1b6e3f" stroke-width="1.05"/><rect x="660.0" y="104.4" width="1.2" height="4.0" fill="#1b6e3f"/><rect x="667.0" y="104.4" width="1.0" height="4.0" fill="#1b6e3f"/><rect x="672.0" y="104.4" width="1.0" height="4.0" fill="#1b6e3f"/><rect x="677.4" y="104.4" width="0.9" height="4.0" fill="#1b6e3f"/><text x="657.5" y="108.7" font-size="6.4" text-anchor="end" font-style="italic" fill="#1b6e3f" stroke="#1b6e3f" stroke-width="0.14">PTCSC2</text>
<line x1="677.2" y1="48.8" x2="678.8" y2="48.8" stroke="#1b6e3f" stroke-width="1.05"/><rect x="677.2" y="46.8" width="1.6" height="4.0" fill="#1b6e3f"/><text x="674.1" y="51.1" font-size="6.4" text-anchor="end" font-style="italic" fill="#1b6e3f" stroke="#1b6e3f" stroke-width="0.14">FOXE1</text>
<line x1="701.7" y1="48.8" x2="707.3" y2="48.8" stroke="#1b6e3f" stroke-width="1.05"/><rect x="701.7" y="46.8" width="1.5" height="4.0" fill="#1b6e3f"/><rect x="704.0" y="46.8" width="3.3" height="4.0" fill="#1b6e3f"/><text x="701.0" y="51.1" font-size="6.4" text-anchor="end" font-style="italic" fill="#1b6e3f" stroke="#1b6e3f" stroke-width="0.14">NANS</text>
<line x1="683.6" y1="55.2" x2="686.7" y2="55.2" stroke="#1b6e3f" stroke-width="1.05"/><rect x="683.6" y="53.2" width="3.1" height="4.0" fill="#1b6e3f"/><text x="681.2" y="57.5" font-size="6.4" text-anchor="end" font-style="italic" fill="#1b6e3f" stroke="#1b6e3f" stroke-width="0.14">TRMO</text>
<line x1="703.0" y1="62.0" x2="712.0" y2="62.0" stroke="#1b6e3f" stroke-width="1.05"/><rect x="705.0" y="60.0" width="7.0" height="4.0" fill="#1b6e3f"/><text x="701.7" y="64.3" font-size="6.4" text-anchor="end" font-style="italic" fill="#1b6e3f" stroke="#1b6e3f" stroke-width="0.14">TRIM14</text>
<line x1="709.7" y1="68.3" x2="721.5" y2="68.3" stroke="#1b6e3f" stroke-width="1.05"/><rect x="710.5" y="66.3" width="2.5" height="4.0" fill="#1b6e3f"/><rect x="714.0" y="66.3" width="2.0" height="4.0" fill="#1b6e3f"/><rect x="718.5" y="66.3" width="1.0" height="4.0" fill="#1b6e3f"/><rect x="720.8" y="66.3" width="0.9" height="4.0" fill="#1b6e3f"/><text x="708.1" y="70.6" font-size="6.4" text-anchor="end" font-style="italic" fill="#1b6e3f" stroke="#1b6e3f" stroke-width="0.14">CORO2A</text>
<line x1="685.9" y1="75.0" x2="689.1" y2="75.0" stroke="#1b6e3f" stroke-width="1.05"/><rect x="685.9" y="73.0" width="3.2" height="4.0" fill="#1b6e3f"/><text x="683.6" y="77.3" font-size="6.4" text-anchor="end" font-style="italic" fill="#1b6e3f" stroke="#1b6e3f" stroke-width="0.14">HEMGN</text>
<line x1="692.3" y1="81.5" x2="698.9" y2="81.5" stroke="#1b6e3f" stroke-width="1.05"/><rect x="692.3" y="79.5" width="1.7" height="4.0" fill="#1b6e3f"/><rect x="695.0" y="79.5" width="3.9" height="4.0" fill="#1b6e3f"/><text x="690.7" y="83.8" font-size="6.4" text-anchor="end" font-style="italic" fill="#1b6e3f" stroke="#1b6e3f" stroke-width="0.14">ANP32B</text>
<line x1="101.8" y1="354.9" x2="176.0" y2="354.9" stroke="#1b6e3f" stroke-width="1.05"/><polygon points="105.20,354.90 103.20,353.00 103.80,354.90 103.20,356.80" fill="#1b6e3f" stroke="#1b6e3f" stroke-width="0.35"/><polygon points="111.00,354.90 109.00,353.00 109.60,354.90 109.00,356.80" fill="#1b6e3f" stroke="#1b6e3f" stroke-width="0.35"/><polygon points="128.40,354.90 126.40,353.00 127.00,354.90 126.40,356.80" fill="#1b6e3f" stroke="#1b6e3f" stroke-width="0.35"/><polygon points="134.20,354.90 132.20,353.00 132.80,354.90 132.20,356.80" fill="#1b6e3f" stroke="#1b6e3f" stroke-width="0.35"/><polygon points="140.00,354.90 138.00,353.00 138.60,354.90 138.00,356.80" fill="#1b6e3f" stroke="#1b6e3f" stroke-width="0.35"/><polygon points="145.80,354.90 143.80,353.00 144.40,354.90 143.80,356.80" fill="#1b6e3f" stroke="#1b6e3f" stroke-width="0.35"/><polygon points="151.60,354.90 149.60,353.00 150.20,354.90 149.60,356.80" fill="#1b6e3f" stroke="#1b6e3f" stroke-width="0.35"/><polygon points="157.40,354.90 155.40,353.00 156.00,354.90 155.40,356.80" fill="#1b6e3f" stroke="#1b6e3f" stroke-width="0.35"/><polygon points="163.20,354.90 161.20,353.00 161.80,354.90 161.20,356.80" fill="#1b6e3f" stroke="#1b6e3f" stroke-width="0.35"/><polygon points="169.00,354.90 167.00,353.00 167.60,354.90 167.00,356.80" fill="#1b6e3f" stroke="#1b6e3f" stroke-width="0.35"/><rect x="101.8" y="352.9" width="1.0" height="4.0" fill="#1b6e3f"/><rect x="113.2" y="352.9" width="1.3" height="4.0" fill="#1b6e3f"/><rect x="115.3" y="352.9" width="1.3" height="4.0" fill="#1b6e3f"/><rect x="117.4" y="352.9" width="1.3" height="4.0" fill="#1b6e3f"/><rect x="119.5" y="352.9" width="1.2" height="4.0" fill="#1b6e3f"/><rect x="124.5" y="352.9" width="1.5" height="4.0" fill="#1b6e3f"/><rect x="160.0" y="352.9" width="1.0" height="4.0" fill="#1b6e3f"/><rect x="174.5" y="352.9" width="1.5" height="4.0" fill="#1b6e3f"/><text x="99.5" y="357.2" font-size="6.4" text-anchor="end" font-style="italic" fill="#1b6e3f" stroke="#1b6e3f" stroke-width="0.14">TMOD1</text>
<line x1="36.9" y1="361.1" x2="176.3" y2="361.1" stroke="#1b6e3f" stroke-width="1.05"/><polygon points="40.30,361.10 38.30,359.20 38.90,361.10 38.30,363.00" fill="#1b6e3f" stroke="#1b6e3f" stroke-width="0.35"/><polygon points="46.10,361.10 44.10,359.20 44.70,361.10 44.10,363.00" fill="#1b6e3f" stroke="#1b6e3f" stroke-width="0.35"/><polygon points="51.90,361.10 49.90,359.20 50.50,361.10 49.90,363.00" fill="#1b6e3f" stroke="#1b6e3f" stroke-width="0.35"/><polygon points="57.70,361.10 55.70,359.20 56.30,361.10 55.70,363.00" fill="#1b6e3f" stroke="#1b6e3f" stroke-width="0.35"/><polygon points="63.50,361.10 61.50,359.20 62.10,361.10 61.50,363.00" fill="#1b6e3f" stroke="#1b6e3f" stroke-width="0.35"/><polygon points="69.30,361.10 67.30,359.20 67.90,361.10 67.30,363.00" fill="#1b6e3f" stroke="#1b6e3f" stroke-width="0.35"/><polygon points="75.10,361.10 73.10,359.20 73.70,361.10 73.10,363.00" fill="#1b6e3f" stroke="#1b6e3f" stroke-width="0.35"/><polygon points="80.90,361.10 78.90,359.20 79.50,361.10 78.90,363.00" fill="#1b6e3f" stroke="#1b6e3f" stroke-width="0.35"/><polygon points="86.70,361.10 84.70,359.20 85.30,361.10 84.70,363.00" fill="#1b6e3f" stroke="#1b6e3f" stroke-width="0.35"/><polygon points="92.50,361.10 90.50,359.20 91.10,361.10 90.50,363.00" fill="#1b6e3f" stroke="#1b6e3f" stroke-width="0.35"/><polygon points="98.30,361.10 96.30,359.20 96.90,361.10 96.30,363.00" fill="#1b6e3f" stroke="#1b6e3f" stroke-width="0.35"/><polygon points="109.90,361.10 107.90,359.20 108.50,361.10 107.90,363.00" fill="#1b6e3f" stroke="#1b6e3f" stroke-width="0.35"/><polygon points="133.10,361.10 131.10,359.20 131.70,361.10 131.10,363.00" fill="#1b6e3f" stroke="#1b6e3f" stroke-width="0.35"/><polygon points="138.90,361.10 136.90,359.20 137.50,361.10 136.90,363.00" fill="#1b6e3f" stroke="#1b6e3f" stroke-width="0.35"/><polygon points="144.70,361.10 142.70,359.20 143.30,361.10 142.70,363.00" fill="#1b6e3f" stroke="#1b6e3f" stroke-width="0.35"/><polygon points="150.50,361.10 148.50,359.20 149.10,361.10 148.50,363.00" fill="#1b6e3f" stroke="#1b6e3f" stroke-width="0.35"/><polygon points="156.30,361.10 154.30,359.20 154.90,361.10 154.30,363.00" fill="#1b6e3f" stroke="#1b6e3f" stroke-width="0.35"/><polygon points="167.90,361.10 165.90,359.20 166.50,361.10 165.90,363.00" fill="#1b6e3f" stroke="#1b6e3f" stroke-width="0.35"/><polygon points="173.70,361.10 171.70,359.20 172.30,361.10 171.70,363.00" fill="#1b6e3f" stroke="#1b6e3f" stroke-width="0.35"/><rect x="53.4" y="359.1" width="0.9" height="4.0" fill="#1b6e3f"/><rect x="54.9" y="359.1" width="0.9" height="4.0" fill="#1b6e3f"/><rect x="88.2" y="359.1" width="2.0" height="4.0" fill="#1b6e3f"/><rect x="100.3" y="359.1" width="2.0" height="4.0" fill="#1b6e3f"/><rect x="113.2" y="359.1" width="1.3" height="4.0" fill="#1b6e3f"/><rect x="115.3" y="359.1" width="1.3" height="4.0" fill="#1b6e3f"/><rect x="117.4" y="359.1" width="1.3" height="4.0" fill="#1b6e3f"/><rect x="119.5" y="359.1" width="1.2" height="4.0" fill="#1b6e3f"/><rect x="124.5" y="359.1" width="1.5" height="4.0" fill="#1b6e3f"/><rect x="160.0" y="359.1" width="1.0" height="4.0" fill="#1b6e3f"/><rect x="174.5" y="359.1" width="1.8" height="4.0" fill="#1b6e3f"/><text x="178.6" y="363.4" font-size="6.4" text-anchor="start" font-style="italic" fill="#1b6e3f" stroke="#1b6e3f" stroke-width="0.14">TMOD1</text>
<line x1="226.2" y1="354.9" x2="255.1" y2="354.9" stroke="#1b6e3f" stroke-width="1.05"/><polygon points="235.40,354.90 233.40,353.00 234.00,354.90 233.40,356.80" fill="#1b6e3f" stroke="#1b6e3f" stroke-width="0.35"/><rect x="226.4" y="352.9" width="1.4" height="4.0" fill="#1b6e3f"/><rect x="237.4" y="352.9" width="3.9" height="4.0" fill="#1b6e3f"/><rect x="243.5" y="352.9" width="1.1" height="4.0" fill="#1b6e3f"/><rect x="245.7" y="352.9" width="1.1" height="4.0" fill="#1b6e3f"/><rect x="252.8" y="352.9" width="2.2" height="4.0" fill="#1b6e3f"/><text x="224.0" y="357.2" font-size="6.4" text-anchor="end" font-style="italic" fill="#1b6e3f" stroke="#1b6e3f" stroke-width="0.14">NCBP1</text>
<line x1="226.2" y1="361.1" x2="290.7" y2="361.1" stroke="#1b6e3f" stroke-width="1.05"/><polygon points="235.40,361.10 233.40,359.20 234.00,361.10 233.40,363.00" fill="#1b6e3f" stroke="#1b6e3f" stroke-width="0.35"/><rect x="226.4" y="359.1" width="1.4" height="4.0" fill="#1b6e3f"/><rect x="238.0" y="359.1" width="2.7" height="4.0" fill="#1b6e3f"/><rect x="241.3" y="359.1" width="1.6" height="4.0" fill="#1b6e3f"/><rect x="244.0" y="359.1" width="1.7" height="4.0" fill="#1b6e3f"/><rect x="246.2" y="359.1" width="2.2" height="4.0" fill="#1b6e3f"/><rect x="249.5" y="359.1" width="2.2" height="4.0" fill="#1b6e3f"/><rect x="253.9" y="359.1" width="3.3" height="4.0" fill="#1b6e3f"/><rect x="258.9" y="359.1" width="4.4" height="4.0" fill="#1b6e3f"/><rect x="264.9" y="359.1" width="1.7" height="4.0" fill="#1b6e3f"/><rect x="268.2" y="359.1" width="2.2" height="4.0" fill="#1b6e3f"/><rect x="271.0" y="359.1" width="4.9" height="4.0" fill="#1b6e3f"/><rect x="276.5" y="359.1" width="3.0" height="4.0" fill="#1b6e3f"/><rect x="280.0" y="359.1" width="2.5" height="4.0" fill="#1b6e3f"/><rect x="283.3" y="359.1" width="2.5" height="4.0" fill="#1b6e3f"/><rect x="287.0" y="359.1" width="3.7" height="4.0" fill="#1b6e3f"/><text x="224.0" y="363.4" font-size="6.4" text-anchor="end" font-style="italic" fill="#1b6e3f" stroke="#1b6e3f" stroke-width="0.14">NCBP1</text>
<line x1="226.2" y1="367.7" x2="246.8" y2="367.7" stroke="#1b6e3f" stroke-width="1.05"/><polygon points="235.40,367.70 233.40,365.80 234.00,367.70 233.40,369.60" fill="#1b6e3f" stroke="#1b6e3f" stroke-width="0.35"/><rect x="226.4" y="365.7" width="1.4" height="4.0" fill="#1b6e3f"/><rect x="238.0" y="365.7" width="3.3" height="4.0" fill="#1b6e3f"/><rect x="245.1" y="365.7" width="1.7" height="4.0" fill="#1b6e3f"/><text x="224.0" y="370.0" font-size="6.4" text-anchor="end" font-style="italic" fill="#1b6e3f" stroke="#1b6e3f" stroke-width="0.14">NCBP1</text>
<line x1="173.3" y1="375.7" x2="227.8" y2="375.7" stroke="#1b6e3f" stroke-width="1.05"/><polygon points="186.50,375.70 188.50,373.80 187.90,375.70 188.50,377.60" fill="#1b6e3f" stroke="#1b6e3f" stroke-width="0.35"/><polygon points="198.10,375.70 200.10,373.80 199.50,375.70 200.10,377.60" fill="#1b6e3f" stroke="#1b6e3f" stroke-width="0.35"/><polygon points="203.90,375.70 205.90,373.80 205.30,375.70 205.90,377.60" fill="#1b6e3f" stroke="#1b6e3f" stroke-width="0.35"/><polygon points="209.70,375.70 211.70,373.80 211.10,375.70 211.70,377.60" fill="#1b6e3f" stroke="#1b6e3f" stroke-width="0.35"/><polygon points="221.30,375.70 223.30,373.80 222.70,375.70 223.30,377.60" fill="#1b6e3f" stroke="#1b6e3f" stroke-width="0.35"/><rect x="174.0" y="373.7" width="3.0" height="4.0" fill="#1b6e3f"/><rect x="179.0" y="373.7" width="4.0" height="4.0" fill="#1b6e3f"/><rect x="191.0" y="373.7" width="2.5" height="4.0" fill="#1b6e3f"/><rect x="202.0" y="373.7" width="1.0" height="4.0" fill="#1b6e3f"/><rect x="213.0" y="373.7" width="1.0" height="4.0" fill="#1b6e3f"/><rect x="216.0" y="373.7" width="2.0" height="4.0" fill="#1b6e3f"/><rect x="220.0" y="373.7" width="1.0" height="4.0" fill="#1b6e3f"/><rect x="227.0" y="373.7" width="0.9" height="4.0" fill="#1b6e3f"/><text x="171.0" y="378.0" font-size="6.4" text-anchor="end" font-style="italic" fill="#1b6e3f" stroke="#1b6e3f" stroke-width="0.14">TSTD2</text>
<line x1="179.0" y1="381.8" x2="218.7" y2="381.8" stroke="#1b6e3f" stroke-width="1.05"/><polygon points="186.40,381.80 188.40,379.90 187.80,381.80 188.40,383.70" fill="#1b6e3f" stroke="#1b6e3f" stroke-width="0.35"/><polygon points="192.20,381.80 194.20,379.90 193.60,381.80 194.20,383.70" fill="#1b6e3f" stroke="#1b6e3f" stroke-width="0.35"/><polygon points="198.00,381.80 200.00,379.90 199.40,381.80 200.00,383.70" fill="#1b6e3f" stroke="#1b6e3f" stroke-width="0.35"/><polygon points="203.80,381.80 205.80,379.90 205.20,381.80 205.80,383.70" fill="#1b6e3f" stroke="#1b6e3f" stroke-width="0.35"/><polygon points="209.60,381.80 211.60,379.90 211.00,381.80 211.60,383.70" fill="#1b6e3f" stroke="#1b6e3f" stroke-width="0.35"/><polygon points="215.40,381.80 217.40,379.90 216.80,381.80 217.40,383.70" fill="#1b6e3f" stroke="#1b6e3f" stroke-width="0.35"/><rect x="179.6" y="379.8" width="1.4" height="4.0" fill="#1b6e3f"/><rect x="183.0" y="379.8" width="1.0" height="4.0" fill="#1b6e3f"/><rect x="217.5" y="379.8" width="1.2" height="4.0" fill="#1b6e3f"/><text x="177.1" y="384.1" font-size="6.4" text-anchor="end" font-style="italic" fill="#1b6e3f" stroke="#1b6e3f" stroke-width="0.14">TSTD2</text>
<line x1="280.9" y1="367.7" x2="286.1" y2="367.7" stroke="#1b6e3f" stroke-width="1.05"/><rect x="281.0" y="365.7" width="1.0" height="4.0" fill="#1b6e3f"/><rect x="283.5" y="365.7" width="2.6" height="4.0" fill="#1b6e3f"/><text x="280.0" y="370.0" font-size="6.4" text-anchor="end" font-style="italic" fill="#1b6e3f" stroke="#1b6e3f" stroke-width="0.14">NCBP1</text>
<line x1="291.4" y1="354.9" x2="330.0" y2="354.9" stroke="#1b6e3f" stroke-width="1.05"/><polygon points="298.80,354.90 300.80,353.00 300.20,354.90 300.80,356.80" fill="#1b6e3f" stroke="#1b6e3f" stroke-width="0.35"/><rect x="291.8" y="352.9" width="1.6" height="4.0" fill="#1b6e3f"/><rect x="303.5" y="352.9" width="1.7" height="4.0" fill="#1b6e3f"/><rect x="308.0" y="352.9" width="1.7" height="4.0" fill="#1b6e3f"/><rect x="311.8" y="352.9" width="2.0" height="4.0" fill="#1b6e3f"/><rect x="315.1" y="352.9" width="1.6" height="4.0" fill="#1b6e3f"/><rect x="321.7" y="352.9" width="1.6" height="4.0" fill="#1b6e3f"/><rect x="326.6" y="352.9" width="2.9" height="4.0" fill="#1b6e3f"/><text x="290.7" y="357.2" font-size="6.4" text-anchor="end" font-style="italic" fill="#1b6e3f" stroke="#1b6e3f" stroke-width="0.14">XPA</text>
<line x1="330.8" y1="369.6" x2="575.7" y2="369.6" stroke="#1b6e3f" stroke-width="1.05"/><polygon points="338.20,369.60 340.20,367.70 339.60,369.60 340.20,371.50" fill="#1b6e3f" stroke="#1b6e3f" stroke-width="0.35"/><polygon points="344.00,369.60 346.00,367.70 345.40,369.60 346.00,371.50" fill="#1b6e3f" stroke="#1b6e3f" stroke-width="0.35"/><polygon points="349.80,369.60 351.80,367.70 351.20,369.60 351.80,371.50" fill="#1b6e3f" stroke="#1b6e3f" stroke-width="0.35"/><polygon points="355.60,369.60 357.60,367.70 357.00,369.60 357.60,371.50" fill="#1b6e3f" stroke="#1b6e3f" stroke-width="0.35"/><polygon points="367.20,369.60 369.20,367.70 368.60,369.60 369.20,371.50" fill="#1b6e3f" stroke="#1b6e3f" stroke-width="0.35"/><polygon points="373.00,369.60 375.00,367.70 374.40,369.60 375.00,371.50" fill="#1b6e3f" stroke="#1b6e3f" stroke-width="0.35"/><polygon points="378.80,369.60 380.80,367.70 380.20,369.60 380.80,371.50" fill="#1b6e3f" stroke="#1b6e3f" stroke-width="0.35"/><polygon points="384.60,369.60 386.60,367.70 386.00,369.60 386.60,371.50" fill="#1b6e3f" stroke="#1b6e3f" stroke-width="0.35"/><polygon points="390.40,369.60 392.40,367.70 391.80,369.60 392.40,371.50" fill="#1b6e3f" stroke="#1b6e3f" stroke-width="0.35"/><polygon points="396.20,369.60 398.20,367.70 397.60,369.60 398.20,371.50" fill="#1b6e3f" stroke="#1b6e3f" stroke-width="0.35"/><polygon points="402.00,369.60 404.00,367.70 403.40,369.60 404.00,371.50" fill="#1b6e3f" stroke="#1b6e3f" stroke-width="0.35"/><polygon points="407.80,369.60 409.80,367.70 409.20,369.60 409.80,371.50" fill="#1b6e3f" stroke="#1b6e3f" stroke-width="0.35"/><polygon points="413.60,369.60 415.60,367.70 415.00,369.60 415.60,371.50" fill="#1b6e3f" stroke="#1b6e3f" stroke-width="0.35"/><polygon points="419.40,369.60 421.40,367.70 420.80,369.60 421.40,371.50" fill="#1b6e3f" stroke="#1b6e3f" stroke-width="0.35"/><polygon points="425.20,369.60 427.20,367.70 426.60,369.60 427.20,371.50" fill="#1b6e3f" stroke="#1b6e3f" stroke-width="0.35"/><polygon points="431.00,369.60 433.00,367.70 432.40,369.60 433.00,371.50" fill="#1b6e3f" stroke="#1b6e3f" stroke-width="0.35"/><polygon points="436.80,369.60 438.80,367.70 438.20,369.60 438.80,371.50" fill="#1b6e3f" stroke="#1b6e3f" stroke-width="0.35"/><polygon points="442.60,369.60 444.60,367.70 444.00,369.60 444.60,371.50" fill="#1b6e3f" stroke="#1b6e3f" stroke-width="0.35"/><polygon points="448.40,369.60 450.40,367.70 449.80,369.60 450.40,371.50" fill="#1b6e3f" stroke="#1b6e3f" stroke-width="0.35"/><polygon points="454.20,369.60 456.20,367.70 455.60,369.60 456.20,371.50" fill="#1b6e3f" stroke="#1b6e3f" stroke-width="0.35"/><polygon points="460.00,369.60 462.00,367.70 461.40,369.60 462.00,371.50" fill="#1b6e3f" stroke="#1b6e3f" stroke-width="0.35"/><polygon points="465.80,369.60 467.80,367.70 467.20,369.60 467.80,371.50" fill="#1b6e3f" stroke="#1b6e3f" stroke-width="0.35"/><polygon points="471.60,369.60 473.60,367.70 473.00,369.60 473.60,371.50" fill="#1b6e3f" stroke="#1b6e3f" stroke-width="0.35"/><polygon points="477.40,369.60 479.40,367.70 478.80,369.60 479.40,371.50" fill="#1b6e3f" stroke="#1b6e3f" stroke-width="0.35"/><polygon points="483.20,369.60 485.20,367.70 484.60,369.60 485.20,371.50" fill="#1b6e3f" stroke="#1b6e3f" stroke-width="0.35"/><polygon points="489.00,369.60 491.00,367.70 490.40,369.60 491.00,371.50" fill="#1b6e3f" stroke="#1b6e3f" stroke-width="0.35"/><polygon points="494.80,369.60 496.80,367.70 496.20,369.60 496.80,371.50" fill="#1b6e3f" stroke="#1b6e3f" stroke-width="0.35"/><polygon points="500.60,369.60 502.60,367.70 502.00,369.60 502.60,371.50" fill="#1b6e3f" stroke="#1b6e3f" stroke-width="0.35"/><polygon points="506.40,369.60 508.40,367.70 507.80,369.60 508.40,371.50" fill="#1b6e3f" stroke="#1b6e3f" stroke-width="0.35"/><polygon points="512.20,369.60 514.20,367.70 513.60,369.60 514.20,371.50" fill="#1b6e3f" stroke="#1b6e3f" stroke-width="0.35"/><polygon points="518.00,369.60 520.00,367.70 519.40,369.60 520.00,371.50" fill="#1b6e3f" stroke="#1b6e3f" stroke-width="0.35"/><polygon points="523.80,369.60 525.80,367.70 525.20,369.60 525.80,371.50" fill="#1b6e3f" stroke="#1b6e3f" stroke-width="0.35"/><polygon points="529.60,369.60 531.60,367.70 531.00,369.60 531.60,371.50" fill="#1b6e3f" stroke="#1b6e3f" stroke-width="0.35"/><polygon points="535.40,369.60 537.40,367.70 536.80,369.60 537.40,371.50" fill="#1b6e3f" stroke="#1b6e3f" stroke-width="0.35"/><polygon points="541.20,369.60 543.20,367.70 542.60,369.60 543.20,371.50" fill="#1b6e3f" stroke="#1b6e3f" stroke-width="0.35"/><polygon points="547.00,369.60 549.00,367.70 548.40,369.60 549.00,371.50" fill="#1b6e3f" stroke="#1b6e3f" stroke-width="0.35"/><polygon points="552.80,369.60 554.80,367.70 554.20,369.60 554.80,371.50" fill="#1b6e3f" stroke="#1b6e3f" stroke-width="0.35"/><polygon points="558.60,369.60 560.60,367.70 560.00,369.60 560.60,371.50" fill="#1b6e3f" stroke="#1b6e3f" stroke-width="0.35"/><polygon points="564.40,369.60 566.40,367.70 565.80,369.60 566.40,371.50" fill="#1b6e3f" stroke="#1b6e3f" stroke-width="0.35"/><polygon points="570.20,369.60 572.20,367.70 571.60,369.60 572.20,371.50" fill="#1b6e3f" stroke="#1b6e3f" stroke-width="0.35"/><rect x="331.0" y="367.6" width="1.0" height="4.0" fill="#1b6e3f"/><rect x="333.5" y="367.6" width="1.0" height="4.0" fill="#1b6e3f"/><rect x="346.0" y="367.6" width="1.0" height="4.0" fill="#1b6e3f"/><rect x="354.0" y="367.6" width="1.5" height="4.0" fill="#1b6e3f"/><rect x="360.0" y="367.6" width="1.5" height="4.0" fill="#1b6e3f"/><rect x="370.0" y="367.6" width="1.0" height="4.0" fill="#1b6e3f"/><rect x="574.8" y="367.6" width="0.9" height="4.0" fill="#1b6e3f"/><text x="330.0" y="371.9" font-size="6.4" text-anchor="end" font-style="italic" fill="#1b6e3f" stroke="#1b6e3f" stroke-width="0.14">PTCSC2</text>
<line x1="367.8" y1="355.6" x2="507.6" y2="355.6" stroke="#1b6e3f" stroke-width="1.05"/><polygon points="375.20,355.60 377.20,353.70 376.60,355.60 377.20,357.50" fill="#1b6e3f" stroke="#1b6e3f" stroke-width="0.35"/><polygon points="381.00,355.60 383.00,353.70 382.40,355.60 383.00,357.50" fill="#1b6e3f" stroke="#1b6e3f" stroke-width="0.35"/><polygon points="386.80,355.60 388.80,353.70 388.20,355.60 388.80,357.50" fill="#1b6e3f" stroke="#1b6e3f" stroke-width="0.35"/><polygon points="392.60,355.60 394.60,353.70 394.00,355.60 394.60,357.50" fill="#1b6e3f" stroke="#1b6e3f" stroke-width="0.35"/><polygon points="398.40,355.60 400.40,353.70 399.80,355.60 400.40,357.50" fill="#1b6e3f" stroke="#1b6e3f" stroke-width="0.35"/><polygon points="404.20,355.60 406.20,353.70 405.60,355.60 406.20,357.50" fill="#1b6e3f" stroke="#1b6e3f" stroke-width="0.35"/><polygon points="410.00,355.60 412.00,353.70 411.40,355.60 412.00,357.50" fill="#1b6e3f" stroke="#1b6e3f" stroke-width="0.35"/><polygon points="415.80,355.60 417.80,353.70 417.20,355.60 417.80,357.50" fill="#1b6e3f" stroke="#1b6e3f" stroke-width="0.35"/><polygon points="421.60,355.60 423.60,353.70 423.00,355.60 423.60,357.50" fill="#1b6e3f" stroke="#1b6e3f" stroke-width="0.35"/><polygon points="427.40,355.60 429.40,353.70 428.80,355.60 429.40,357.50" fill="#1b6e3f" stroke="#1b6e3f" stroke-width="0.35"/><polygon points="433.20,355.60 435.20,353.70 434.60,355.60 435.20,357.50" fill="#1b6e3f" stroke="#1b6e3f" stroke-width="0.35"/><polygon points="439.00,355.60 441.00,353.70 440.40,355.60 441.00,357.50" fill="#1b6e3f" stroke="#1b6e3f" stroke-width="0.35"/><polygon points="444.80,355.60 446.80,353.70 446.20,355.60 446.80,357.50" fill="#1b6e3f" stroke="#1b6e3f" stroke-width="0.35"/><polygon points="450.60,355.60 452.60,353.70 452.00,355.60 452.60,357.50" fill="#1b6e3f" stroke="#1b6e3f" stroke-width="0.35"/><polygon points="456.40,355.60 458.40,353.70 457.80,355.60 458.40,357.50" fill="#1b6e3f" stroke="#1b6e3f" stroke-width="0.35"/><polygon points="462.20,355.60 464.20,353.70 463.60,355.60 464.20,357.50" fill="#1b6e3f" stroke="#1b6e3f" stroke-width="0.35"/><polygon points="468.00,355.60 470.00,353.70 469.40,355.60 470.00,357.50" fill="#1b6e3f" stroke="#1b6e3f" stroke-width="0.35"/><polygon points="473.80,355.60 475.80,353.70 475.20,355.60 475.80,357.50" fill="#1b6e3f" stroke="#1b6e3f" stroke-width="0.35"/><polygon points="479.60,355.60 481.60,353.70 481.00,355.60 481.60,357.50" fill="#1b6e3f" stroke="#1b6e3f" stroke-width="0.35"/><polygon points="485.40,355.60 487.40,353.70 486.80,355.60 487.40,357.50" fill="#1b6e3f" stroke="#1b6e3f" stroke-width="0.35"/><polygon points="491.20,355.60 493.20,353.70 492.60,355.60 493.20,357.50" fill="#1b6e3f" stroke="#1b6e3f" stroke-width="0.35"/><polygon points="497.00,355.60 499.00,353.70 498.40,355.60 499.00,357.50" fill="#1b6e3f" stroke="#1b6e3f" stroke-width="0.35"/><polygon points="502.80,355.60 504.80,353.70 504.20,355.60 504.80,357.50" fill="#1b6e3f" stroke="#1b6e3f" stroke-width="0.35"/><rect x="368.0" y="353.6" width="1.5" height="4.0" fill="#1b6e3f"/><rect x="370.2" y="353.6" width="0.9" height="4.0" fill="#1b6e3f"/><rect x="505.6" y="353.6" width="2.0" height="4.0" fill="#1b6e3f"/><text x="367.1" y="357.9" font-size="6.4" text-anchor="end" font-style="italic" fill="#1b6e3f" stroke="#1b6e3f" stroke-width="0.14">PTCSC2</text>
<line x1="368.6" y1="362.3" x2="575.7" y2="362.3" stroke="#1b6e3f" stroke-width="1.05"/><polygon points="370.20,362.30 372.20,360.40 371.60,362.30 372.20,364.20" fill="#1b6e3f" stroke="#1b6e3f" stroke-width="0.35"/><polygon points="376.00,362.30 378.00,360.40 377.40,362.30 378.00,364.20" fill="#1b6e3f" stroke="#1b6e3f" stroke-width="0.35"/><polygon points="381.80,362.30 383.80,360.40 383.20,362.30 383.80,364.20" fill="#1b6e3f" stroke="#1b6e3f" stroke-width="0.35"/><polygon points="387.60,362.30 389.60,360.40 389.00,362.30 389.60,364.20" fill="#1b6e3f" stroke="#1b6e3f" stroke-width="0.35"/><polygon points="393.40,362.30 395.40,360.40 394.80,362.30 395.40,364.20" fill="#1b6e3f" stroke="#1b6e3f" stroke-width="0.35"/><polygon points="399.20,362.30 401.20,360.40 400.60,362.30 401.20,364.20" fill="#1b6e3f" stroke="#1b6e3f" stroke-width="0.35"/><polygon points="405.00,362.30 407.00,360.40 406.40,362.30 407.00,364.20" fill="#1b6e3f" stroke="#1b6e3f" stroke-width="0.35"/><polygon points="410.80,362.30 412.80,360.40 412.20,362.30 412.80,364.20" fill="#1b6e3f" stroke="#1b6e3f" stroke-width="0.35"/><polygon points="416.60,362.30 418.60,360.40 418.00,362.30 418.60,364.20" fill="#1b6e3f" stroke="#1b6e3f" stroke-width="0.35"/><polygon points="422.40,362.30 424.40,360.40 423.80,362.30 424.40,364.20" fill="#1b6e3f" stroke="#1b6e3f" stroke-width="0.35"/><polygon points="428.20,362.30 430.20,360.40 429.60,362.30 430.20,364.20" fill="#1b6e3f" stroke="#1b6e3f" stroke-width="0.35"/><polygon points="434.00,362.30 436.00,360.40 435.40,362.30 436.00,364.20" fill="#1b6e3f" stroke="#1b6e3f" stroke-width="0.35"/><polygon points="439.80,362.30 441.80,360.40 441.20,362.30 441.80,364.20" fill="#1b6e3f" stroke="#1b6e3f" stroke-width="0.35"/><polygon points="445.60,362.30 447.60,360.40 447.00,362.30 447.60,364.20" fill="#1b6e3f" stroke="#1b6e3f" stroke-width="0.35"/><polygon points="451.40,362.30 453.40,360.40 452.80,362.30 453.40,364.20" fill="#1b6e3f" stroke="#1b6e3f" stroke-width="0.35"/><polygon points="457.20,362.30 459.20,360.40 458.60,362.30 459.20,364.20" fill="#1b6e3f" stroke="#1b6e3f" stroke-width="0.35"/><polygon points="463.00,362.30 465.00,360.40 464.40,362.30 465.00,364.20" fill="#1b6e3f" stroke="#1b6e3f" stroke-width="0.35"/><polygon points="468.80,362.30 470.80,360.40 470.20,362.30 470.80,364.20" fill="#1b6e3f" stroke="#1b6e3f" stroke-width="0.35"/><polygon points="474.60,362.30 476.60,360.40 476.00,362.30 476.60,364.20" fill="#1b6e3f" stroke="#1b6e3f" stroke-width="0.35"/><polygon points="480.40,362.30 482.40,360.40 481.80,362.30 482.40,364.20" fill="#1b6e3f" stroke="#1b6e3f" stroke-width="0.35"/><polygon points="486.20,362.30 488.20,360.40 487.60,362.30 488.20,364.20" fill="#1b6e3f" stroke="#1b6e3f" stroke-width="0.35"/><polygon points="492.00,362.30 494.00,360.40 493.40,362.30 494.00,364.20" fill="#1b6e3f" stroke="#1b6e3f" stroke-width="0.35"/><polygon points="497.80,362.30 499.80,360.40 499.20,362.30 499.80,364.20" fill="#1b6e3f" stroke="#1b6e3f" stroke-width="0.35"/><polygon points="503.60,362.30 505.60,360.40 505.00,362.30 505.60,364.20" fill="#1b6e3f" stroke="#1b6e3f" stroke-width="0.35"/><polygon points="509.40,362.30 511.40,360.40 510.80,362.30 511.40,364.20" fill="#1b6e3f" stroke="#1b6e3f" stroke-width="0.35"/><polygon points="515.20,362.30 517.20,360.40 516.60,362.30 517.20,364.20" fill="#1b6e3f" stroke="#1b6e3f" stroke-width="0.35"/><polygon points="521.00,362.30 523.00,360.40 522.40,362.30 523.00,364.20" fill="#1b6e3f" stroke="#1b6e3f" stroke-width="0.35"/><polygon points="526.80,362.30 528.80,360.40 528.20,362.30 528.80,364.20" fill="#1b6e3f" stroke="#1b6e3f" stroke-width="0.35"/><polygon points="532.60,362.30 534.60,360.40 534.00,362.30 534.60,364.20" fill="#1b6e3f" stroke="#1b6e3f" stroke-width="0.35"/><polygon points="538.40,362.30 540.40,360.40 539.80,362.30 540.40,364.20" fill="#1b6e3f" stroke="#1b6e3f" stroke-width="0.35"/><polygon points="544.20,362.30 546.20,360.40 545.60,362.30 546.20,364.20" fill="#1b6e3f" stroke="#1b6e3f" stroke-width="0.35"/><polygon points="550.00,362.30 552.00,360.40 551.40,362.30 552.00,364.20" fill="#1b6e3f" stroke="#1b6e3f" stroke-width="0.35"/><polygon points="555.80,362.30 557.80,360.40 557.20,362.30 557.80,364.20" fill="#1b6e3f" stroke="#1b6e3f" stroke-width="0.35"/><polygon points="561.60,362.30 563.60,360.40 563.00,362.30 563.60,364.20" fill="#1b6e3f" stroke="#1b6e3f" stroke-width="0.35"/><polygon points="567.40,362.30 569.40,360.40 568.80,362.30 569.40,364.20" fill="#1b6e3f" stroke="#1b6e3f" stroke-width="0.35"/><rect x="368.6" y="360.3" width="1.4" height="4.0" fill="#1b6e3f"/><rect x="574.5" y="360.3" width="1.2" height="4.0" fill="#1b6e3f"/><text x="367.1" y="364.6" font-size="6.4" text-anchor="end" font-style="italic" fill="#1b6e3f" stroke="#1b6e3f" stroke-width="0.14">PTCSC2</text>
<line x1="574.1" y1="355.1" x2="581.0" y2="355.1" stroke="#1b6e3f" stroke-width="1.05"/><rect x="576.5" y="353.1" width="4.5" height="4.0" fill="#1b6e3f"/><text x="572.6" y="357.4" font-size="6.4" text-anchor="end" font-style="italic" fill="#1b6e3f" stroke="#1b6e3f" stroke-width="0.14">FOXE1</text>
<line x1="655.6" y1="354.9" x2="686.7" y2="354.9" stroke="#1b6e3f" stroke-width="1.05"/><polygon points="680.40,354.90 682.40,353.00 681.80,354.90 682.40,356.80" fill="#1b6e3f" stroke="#1b6e3f" stroke-width="0.35"/><rect x="655.8" y="352.9" width="1.2" height="4.0" fill="#1b6e3f"/><rect x="658.0" y="352.9" width="2.0" height="4.0" fill="#1b6e3f"/><rect x="664.0" y="352.9" width="1.0" height="4.0" fill="#1b6e3f"/><rect x="667.0" y="352.9" width="1.5" height="4.0" fill="#1b6e3f"/><rect x="670.0" y="352.9" width="2.0" height="4.0" fill="#1b6e3f"/><rect x="674.0" y="352.9" width="2.0" height="4.0" fill="#1b6e3f"/><rect x="685.0" y="352.9" width="1.7" height="4.0" fill="#1b6e3f"/><text x="653.5" y="357.2" font-size="6.4" text-anchor="end" font-style="italic" fill="#1b6e3f" stroke="#1b6e3f" stroke-width="0.14">TRMO</text>
<line x1="655.9" y1="361.1" x2="669.3" y2="361.1" stroke="#1b6e3f" stroke-width="1.05"/><rect x="656.0" y="359.1" width="2.0" height="4.0" fill="#1b6e3f"/><rect x="662.0" y="359.1" width="1.0" height="4.0" fill="#1b6e3f"/><rect x="665.0" y="359.1" width="4.3" height="4.0" fill="#1b6e3f"/><text x="653.5" y="363.4" font-size="6.4" text-anchor="end" font-style="italic" fill="#1b6e3f" stroke="#1b6e3f" stroke-width="0.14">TRMO</text>
<line x1="664.6" y1="367.7" x2="686.7" y2="367.7" stroke="#1b6e3f" stroke-width="1.05"/><polygon points="677.80,367.70 679.80,365.80 679.20,367.70 679.80,369.60" fill="#1b6e3f" stroke="#1b6e3f" stroke-width="0.35"/><polygon points="683.60,367.70 685.60,365.80 685.00,367.70 685.60,369.60" fill="#1b6e3f" stroke="#1b6e3f" stroke-width="0.35"/><rect x="666.0" y="365.7" width="2.0" height="4.0" fill="#1b6e3f"/><rect x="669.5" y="365.7" width="2.5" height="4.0" fill="#1b6e3f"/><rect x="674.0" y="365.7" width="1.0" height="4.0" fill="#1b6e3f"/><rect x="685.5" y="365.7" width="1.2" height="4.0" fill="#1b6e3f"/><text x="662.2" y="370.0" font-size="6.4" text-anchor="end" font-style="italic" fill="#1b6e3f" stroke="#1b6e3f" stroke-width="0.14">TRMO</text>
<line x1="669.8" y1="373.8" x2="686.7" y2="373.8" stroke="#1b6e3f" stroke-width="1.05"/><polygon points="683.00,373.80 685.00,371.90 684.40,373.80 685.00,375.70" fill="#1b6e3f" stroke="#1b6e3f" stroke-width="0.35"/><rect x="670.5" y="371.8" width="1.5" height="4.0" fill="#1b6e3f"/><rect x="674.0" y="371.8" width="2.0" height="4.0" fill="#1b6e3f"/><rect x="679.0" y="371.8" width="1.0" height="4.0" fill="#1b6e3f"/><rect x="685.5" y="371.8" width="1.2" height="4.0" fill="#1b6e3f"/><text x="667.0" y="376.1" font-size="6.4" text-anchor="end" font-style="italic" fill="#1b6e3f" stroke="#1b6e3f" stroke-width="0.14">TRMO</text>
<line x1="691.0" y1="380.8" x2="711.2" y2="380.8" stroke="#1b6e3f" stroke-width="1.05"/><polygon points="698.40,380.80 700.40,378.90 699.80,380.80 700.40,382.70" fill="#1b6e3f" stroke="#1b6e3f" stroke-width="0.35"/><rect x="692.5" y="378.8" width="1.5" height="4.0" fill="#1b6e3f"/><rect x="696.0" y="378.8" width="1.5" height="4.0" fill="#1b6e3f"/><rect x="705.0" y="378.8" width="1.0" height="4.0" fill="#1b6e3f"/><rect x="708.0" y="378.8" width="1.0" height="4.0" fill="#1b6e3f"/><rect x="710.0" y="378.8" width="1.2" height="4.0" fill="#1b6e3f"/><text x="689.1" y="383.1" font-size="6.4" text-anchor="end" font-style="italic" fill="#1b6e3f" stroke="#1b6e3f" stroke-width="0.14">HEMGN</text>
<line x1="691.0" y1="387.1" x2="722.0" y2="387.1" stroke="#1b6e3f" stroke-width="1.05"/><polygon points="698.40,387.10 700.40,385.20 699.80,387.10 700.40,389.00" fill="#1b6e3f" stroke="#1b6e3f" stroke-width="0.35"/><polygon points="715.80,387.10 717.80,385.20 717.20,387.10 717.80,389.00" fill="#1b6e3f" stroke="#1b6e3f" stroke-width="0.35"/><rect x="692.5" y="385.1" width="1.5" height="4.0" fill="#1b6e3f"/><rect x="696.0" y="385.1" width="1.5" height="4.0" fill="#1b6e3f"/><rect x="704.0" y="385.1" width="2.0" height="4.0" fill="#1b6e3f"/><rect x="708.0" y="385.1" width="2.0" height="4.0" fill="#1b6e3f"/><rect x="712.0" y="385.1" width="1.0" height="4.0" fill="#1b6e3f"/><text x="689.1" y="389.4" font-size="6.4" text-anchor="end" font-style="italic" fill="#1b6e3f" stroke="#1b6e3f" stroke-width="0.14">HEMGN</text>
<text x="38.5" y="476.2" font-size="6.2" text-anchor="start" font-weight="normal" font-style="normal" fill="#111" >C666-1</text>
<text x="70.4" y="469.9" font-size="6.2" text-anchor="end" font-weight="normal" font-style="normal" fill="#111" >64</text>
<text x="70.4" y="484.7" font-size="6.2" text-anchor="end" font-weight="normal" font-style="normal" fill="#111" >0</text>
<polyline points="72.2,466.4 74.8,466.4 74.8,484.4 72.2,484.4" fill="none" stroke="#666" stroke-width="0.9"/>
<line x1="75.5" y1="484.1" x2="722" y2="484.1" stroke="#3c3cf0" stroke-opacity="0.62" stroke-width="0.8"/>
<polygon points="223.90,484.40 223.90,481.85 224.45,481.85 224.45,480.99 224.99,480.99 224.99,478.42 225.54,478.42 225.54,475.59 226.08,475.59 226.08,469.63 226.63,469.63 226.63,466.20 227.17,466.20 227.17,468.26 227.72,468.26 227.72,477.59 228.26,477.59 228.26,478.91 228.81,478.91 228.81,479.98 229.35,479.98 229.35,482.06 229.90,482.06 229.90,484.40" fill="#1414f0"/>
<rect x="151.6" y="482.9" width="1.4" height="1.5" fill="#1414f0"/>
<rect x="171.5" y="482.9" width="1.4" height="1.5" fill="#1414f0"/>
<rect x="197.9" y="483.4" width="1.4" height="1.0" fill="#1414f0"/>
<polygon points="325.80,484.40 325.80,483.07 326.33,483.07 326.33,478.82 326.87,478.82 326.87,480.13 327.40,480.13 327.40,476.71 327.93,476.71 327.93,474.90 328.47,474.90 328.47,476.53 329.00,476.53 329.00,480.34 329.53,480.34 329.53,481.81 330.07,481.81 330.07,483.09 330.60,483.09 330.60,484.40" fill="#1414f0"/>
<polygon points="336.90,484.40 336.90,482.62 337.41,482.62 337.41,482.70 337.93,482.70 337.93,481.56 338.44,481.56 338.44,480.90 338.96,480.90 338.96,481.30 339.47,481.30 339.47,482.66 339.99,482.66 339.99,482.91 340.50,482.91 340.50,484.40" fill="#1414f0"/>
<polygon points="347.90,484.40 347.90,483.09 348.41,483.09 348.41,483.17 348.93,483.17 348.93,481.96 349.44,481.96 349.44,481.90 349.96,481.90 349.96,481.91 350.47,481.91 350.47,483.26 350.99,483.26 350.99,483.43 351.50,483.43 351.50,484.40" fill="#1414f0"/>
<polygon points="353.40,484.40 353.40,483.39 353.93,483.39 353.93,481.04 354.47,481.04 354.47,481.19 355.00,481.19 355.00,478.79 355.53,478.79 355.53,477.90 356.07,477.90 356.07,478.45 356.60,478.45 356.60,480.76 357.13,480.76 357.13,482.55 357.67,482.55 357.67,483.39 358.20,483.39 358.20,484.40" fill="#1414f0"/>
<polygon points="390.40,484.40 390.40,482.68 390.91,482.68 390.91,481.99 391.43,481.99 391.43,479.87 391.94,479.87 391.94,479.70 392.46,479.70 392.46,480.01 392.97,480.01 392.97,482.21 393.49,482.21 393.49,482.62 394.00,482.62 394.00,484.40" fill="#1414f0"/>
<polygon points="494.50,484.40 494.50,483.33 495.03,483.33 495.03,481.26 495.57,481.26 495.57,480.73 496.10,480.73 496.10,477.71 496.63,477.71 496.63,476.20 497.17,476.20 497.17,476.39 497.70,476.39 497.70,479.76 498.23,479.76 498.23,482.57 498.77,482.57 498.77,483.16 499.30,483.16 499.30,484.40" fill="#1414f0"/>
<polygon points="505.10,484.40 505.10,482.69 505.61,482.69 505.61,483.24 506.13,483.24 506.13,481.86 506.64,481.86 506.64,481.40 507.16,481.40 507.16,481.65 507.67,481.65 507.67,483.35 508.19,483.35 508.19,483.07 508.70,483.07 508.70,484.40" fill="#1414f0"/>
<polygon points="573.00,484.40 573.00,483.11 573.54,483.11 573.54,482.44 574.09,482.44 574.09,482.01 574.63,482.01 574.63,481.42 575.17,481.42 575.17,479.88 575.71,479.88 575.71,475.87 576.26,475.87 576.26,475.70 576.80,475.70 576.80,475.70 577.34,475.70 577.34,476.76 577.89,476.76 577.89,480.61 578.43,480.61 578.43,481.29 578.97,481.29 578.97,482.54 579.51,482.54 579.51,483.00 580.06,483.00 580.06,483.28 580.60,483.28 580.60,484.40" fill="#1414f0"/>
<polygon points="589.40,484.40 589.40,483.43 589.93,483.43 589.93,482.95 590.47,482.95 590.47,482.61 591.00,482.61 591.00,481.49 591.53,481.49 591.53,477.85 592.07,477.85 592.07,476.90 592.60,476.90 592.60,476.90 593.13,476.90 593.13,478.18 593.67,478.18 593.67,481.12 594.20,481.12 594.20,482.35 594.73,482.35 594.73,483.07 595.27,483.07 595.27,483.14 595.80,483.14 595.80,484.40" fill="#1414f0"/>
<polygon points="603.40,484.40 603.40,482.61 604.00,482.61 604.00,482.40 604.60,482.40 604.60,482.40 605.20,482.40 605.20,482.66 605.80,482.66 605.80,484.40" fill="#1414f0"/>
<polygon points="612.20,484.40 612.20,482.47 612.80,482.47 612.80,482.40 613.40,482.40 613.40,482.40 614.00,482.40 614.00,482.59 614.60,482.59 614.60,484.40" fill="#1414f0"/>
<polygon points="632.50,484.40 632.50,482.07 633.01,482.07 633.01,482.09 633.53,482.09 633.53,479.73 634.04,479.73 634.04,479.60 634.56,479.60 634.56,480.21 635.07,480.21 635.07,481.79 635.59,481.79 635.59,481.79 636.10,481.79 636.10,484.40" fill="#1414f0"/>
<polygon points="650.00,484.40 650.00,482.71 650.60,482.71 650.60,482.40 651.20,482.40 651.20,482.40 651.80,482.40 651.80,482.48 652.40,482.48 652.40,484.40" fill="#1414f0"/>
<polygon points="682.80,484.40 682.80,482.60 683.33,482.60 683.33,480.21 683.87,480.21 683.87,479.88 684.40,479.88 684.40,476.10 684.93,476.10 684.93,474.10 685.47,474.10 685.47,474.73 686.00,474.73 686.00,479.64 686.53,479.64 686.53,481.47 687.07,481.47 687.07,482.49 687.60,482.49 687.60,484.40" fill="#1414f0"/>
<rect x="77.0" y="483.0" width="1.4" height="1.1" fill="#2a2af0" fill-opacity="0.45"/>
<rect x="81.3" y="483.6" width="1.1" height="0.5" fill="#2a2af0" fill-opacity="0.45"/>
<rect x="85.5" y="483.3" width="2.3" height="0.8" fill="#2a2af0" fill-opacity="0.45"/>
<rect x="93.6" y="483.4" width="1.9" height="0.7" fill="#2a2af0" fill-opacity="0.45"/>
<rect x="101.4" y="483.7" width="1.9" height="0.4" fill="#2a2af0" fill-opacity="0.45"/>
<rect x="109.8" y="483.2" width="2.1" height="0.9" fill="#2a2af0" fill-opacity="0.45"/>
<rect x="115.7" y="483.7" width="2.1" height="0.4" fill="#2a2af0" fill-opacity="0.45"/>
<rect x="120.7" y="483.2" width="2.5" height="0.9" fill="#2a2af0" fill-opacity="0.45"/>
<rect x="126.1" y="483.5" width="2.4" height="0.6" fill="#2a2af0" fill-opacity="0.45"/>
<rect x="133.4" y="483.7" width="1.0" height="0.4" fill="#2a2af0" fill-opacity="0.45"/>
<rect x="137.3" y="483.1" width="2.2" height="1.0" fill="#2a2af0" fill-opacity="0.45"/>
<rect x="141.2" y="483.1" width="2.5" height="1.0" fill="#2a2af0" fill-opacity="0.45"/>
<rect x="148.2" y="483.5" width="1.7" height="0.6" fill="#2a2af0" fill-opacity="0.45"/>
<rect x="151.9" y="483.8" width="2.5" height="0.3" fill="#2a2af0" fill-opacity="0.45"/>
<rect x="158.8" y="483.4" width="2.4" height="0.7" fill="#2a2af0" fill-opacity="0.45"/>
<rect x="164.4" y="483.1" width="2.2" height="1.0" fill="#2a2af0" fill-opacity="0.45"/>
<rect x="168.7" y="483.6" width="1.3" height="0.5" fill="#2a2af0" fill-opacity="0.45"/>
<rect x="173.2" y="483.3" width="1.2" height="0.8" fill="#2a2af0" fill-opacity="0.45"/>
<rect x="178.7" y="483.7" width="2.3" height="0.4" fill="#2a2af0" fill-opacity="0.45"/>
<rect x="183.8" y="483.4" width="1.8" height="0.7" fill="#2a2af0" fill-opacity="0.45"/>
<rect x="192.2" y="483.5" width="2.4" height="0.6" fill="#2a2af0" fill-opacity="0.45"/>
<rect x="198.2" y="483.4" width="1.7" height="0.7" fill="#2a2af0" fill-opacity="0.45"/>
<rect x="201.3" y="483.4" width="1.1" height="0.7" fill="#2a2af0" fill-opacity="0.45"/>
<rect x="204.4" y="483.2" width="1.1" height="0.9" fill="#2a2af0" fill-opacity="0.45"/>
<rect x="210.2" y="483.2" width="1.7" height="0.9" fill="#2a2af0" fill-opacity="0.45"/>
<rect x="215.2" y="483.4" width="1.7" height="0.7" fill="#2a2af0" fill-opacity="0.45"/>
<rect x="222.9" y="483.7" width="1.8" height="0.4" fill="#2a2af0" fill-opacity="0.45"/>
<rect x="227.4" y="483.6" width="2.1" height="0.5" fill="#2a2af0" fill-opacity="0.45"/>
<rect x="233.4" y="483.4" width="2.1" height="0.7" fill="#2a2af0" fill-opacity="0.45"/>
<rect x="241.9" y="483.4" width="1.8" height="0.7" fill="#2a2af0" fill-opacity="0.45"/>
<rect x="247.9" y="483.4" width="2.0" height="0.7" fill="#2a2af0" fill-opacity="0.45"/>
<rect x="253.6" y="483.4" width="1.6" height="0.7" fill="#2a2af0" fill-opacity="0.45"/>
<rect x="262.3" y="483.2" width="2.3" height="0.9" fill="#2a2af0" fill-opacity="0.45"/>
<rect x="270.9" y="483.6" width="1.8" height="0.5" fill="#2a2af0" fill-opacity="0.45"/>
<rect x="279.6" y="483.1" width="1.0" height="1.0" fill="#2a2af0" fill-opacity="0.45"/>
<rect x="283.3" y="483.4" width="0.9" height="0.7" fill="#2a2af0" fill-opacity="0.45"/>
<rect x="287.8" y="483.7" width="1.9" height="0.4" fill="#2a2af0" fill-opacity="0.45"/>
<rect x="295.5" y="483.1" width="1.1" height="1.0" fill="#2a2af0" fill-opacity="0.45"/>
<rect x="302.8" y="483.3" width="1.0" height="0.8" fill="#2a2af0" fill-opacity="0.45"/>
<rect x="311.1" y="483.0" width="1.2" height="1.1" fill="#2a2af0" fill-opacity="0.45"/>
<rect x="319.8" y="483.5" width="1.6" height="0.6" fill="#2a2af0" fill-opacity="0.45"/>
<rect x="328.7" y="483.1" width="1.1" height="1.0" fill="#2a2af0" fill-opacity="0.45"/>
<rect x="334.3" y="483.4" width="1.4" height="0.7" fill="#2a2af0" fill-opacity="0.45"/>
<rect x="338.5" y="483.5" width="2.0" height="0.6" fill="#2a2af0" fill-opacity="0.45"/>
<rect x="341.6" y="483.4" width="1.5" height="0.7" fill="#2a2af0" fill-opacity="0.45"/>
<rect x="344.7" y="483.5" width="1.9" height="0.6" fill="#2a2af0" fill-opacity="0.45"/>
<rect x="350.8" y="483.7" width="2.5" height="0.4" fill="#2a2af0" fill-opacity="0.45"/>
<rect x="358.5" y="483.0" width="1.0" height="1.1" fill="#2a2af0" fill-opacity="0.45"/>
<rect x="363.1" y="483.8" width="2.1" height="0.3" fill="#2a2af0" fill-opacity="0.45"/>
<rect x="367.7" y="483.7" width="1.5" height="0.4" fill="#2a2af0" fill-opacity="0.45"/>
<rect x="376.2" y="483.1" width="1.2" height="1.0" fill="#2a2af0" fill-opacity="0.45"/>
<rect x="380.1" y="483.1" width="1.8" height="1.0" fill="#2a2af0" fill-opacity="0.45"/>
<rect x="387.3" y="483.7" width="0.9" height="0.4" fill="#2a2af0" fill-opacity="0.45"/>
<rect x="394.4" y="483.5" width="0.9" height="0.6" fill="#2a2af0" fill-opacity="0.45"/>
<rect x="403.1" y="483.3" width="2.2" height="0.8" fill="#2a2af0" fill-opacity="0.45"/>
<rect x="406.6" y="483.1" width="0.9" height="1.0" fill="#2a2af0" fill-opacity="0.45"/>
<rect x="414.7" y="483.4" width="1.4" height="0.7" fill="#2a2af0" fill-opacity="0.45"/>
<rect x="421.0" y="483.1" width="1.3" height="1.0" fill="#2a2af0" fill-opacity="0.45"/>
<rect x="424.8" y="483.4" width="1.2" height="0.7" fill="#2a2af0" fill-opacity="0.45"/>
<rect x="428.5" y="483.7" width="0.9" height="0.4" fill="#2a2af0" fill-opacity="0.45"/>
<rect x="432.7" y="483.6" width="1.3" height="0.5" fill="#2a2af0" fill-opacity="0.45"/>
<rect x="440.2" y="483.6" width="1.7" height="0.5" fill="#2a2af0" fill-opacity="0.45"/>
<rect x="444.3" y="483.5" width="0.8" height="0.6" fill="#2a2af0" fill-opacity="0.45"/>
<rect x="448.8" y="483.8" width="2.0" height="0.3" fill="#2a2af0" fill-opacity="0.45"/>
<rect x="455.1" y="483.6" width="1.6" height="0.5" fill="#2a2af0" fill-opacity="0.45"/>
<rect x="463.7" y="483.7" width="2.2" height="0.4" fill="#2a2af0" fill-opacity="0.45"/>
<rect x="469.3" y="483.4" width="2.2" height="0.7" fill="#2a2af0" fill-opacity="0.45"/>
<rect x="474.7" y="483.4" width="2.0" height="0.7" fill="#2a2af0" fill-opacity="0.45"/>
<rect x="483.6" y="483.5" width="2.2" height="0.6" fill="#2a2af0" fill-opacity="0.45"/>
<rect x="490.8" y="483.3" width="1.5" height="0.8" fill="#2a2af0" fill-opacity="0.45"/>
<rect x="495.9" y="483.8" width="1.0" height="0.3" fill="#2a2af0" fill-opacity="0.45"/>
<rect x="499.3" y="483.2" width="1.2" height="0.9" fill="#2a2af0" fill-opacity="0.45"/>
<rect x="503.3" y="483.7" width="2.2" height="0.4" fill="#2a2af0" fill-opacity="0.45"/>
<rect x="511.5" y="483.3" width="1.3" height="0.8" fill="#2a2af0" fill-opacity="0.45"/>
<rect x="516.0" y="483.6" width="1.6" height="0.5" fill="#2a2af0" fill-opacity="0.45"/>
<rect x="519.9" y="483.4" width="1.2" height="0.7" fill="#2a2af0" fill-opacity="0.45"/>
<rect x="528.7" y="483.0" width="1.7" height="1.1" fill="#2a2af0" fill-opacity="0.45"/>
<rect x="533.2" y="483.0" width="1.3" height="1.1" fill="#2a2af0" fill-opacity="0.45"/>
<rect x="538.3" y="483.8" width="1.4" height="0.3" fill="#2a2af0" fill-opacity="0.45"/>
<rect x="544.2" y="483.4" width="1.1" height="0.7" fill="#2a2af0" fill-opacity="0.45"/>
<rect x="550.2" y="483.8" width="1.2" height="0.3" fill="#2a2af0" fill-opacity="0.45"/>
<rect x="553.7" y="483.5" width="0.9" height="0.6" fill="#2a2af0" fill-opacity="0.45"/>
<rect x="556.9" y="483.6" width="1.2" height="0.5" fill="#2a2af0" fill-opacity="0.45"/>
<rect x="563.4" y="483.4" width="2.1" height="0.7" fill="#2a2af0" fill-opacity="0.45"/>
<rect x="570.3" y="483.2" width="2.3" height="0.9" fill="#2a2af0" fill-opacity="0.45"/>
<rect x="575.7" y="483.5" width="2.5" height="0.6" fill="#2a2af0" fill-opacity="0.45"/>
<rect x="579.5" y="483.2" width="1.9" height="0.9" fill="#2a2af0" fill-opacity="0.45"/>
<rect x="582.8" y="483.1" width="2.3" height="1.0" fill="#2a2af0" fill-opacity="0.45"/>
<rect x="589.6" y="483.2" width="2.2" height="0.9" fill="#2a2af0" fill-opacity="0.45"/>
<rect x="593.4" y="483.4" width="1.7" height="0.7" fill="#2a2af0" fill-opacity="0.45"/>
<rect x="601.4" y="483.2" width="2.2" height="0.9" fill="#2a2af0" fill-opacity="0.45"/>
<rect x="607.9" y="483.1" width="2.0" height="1.0" fill="#2a2af0" fill-opacity="0.45"/>
<rect x="615.1" y="483.6" width="0.9" height="0.5" fill="#2a2af0" fill-opacity="0.45"/>
<rect x="618.9" y="483.5" width="1.0" height="0.6" fill="#2a2af0" fill-opacity="0.45"/>
<rect x="626.9" y="483.4" width="1.9" height="0.7" fill="#2a2af0" fill-opacity="0.45"/>
<rect x="633.7" y="483.3" width="1.6" height="0.8" fill="#2a2af0" fill-opacity="0.45"/>
<rect x="636.7" y="483.2" width="2.1" height="0.9" fill="#2a2af0" fill-opacity="0.45"/>
<rect x="642.7" y="483.4" width="1.9" height="0.7" fill="#2a2af0" fill-opacity="0.45"/>
<rect x="646.1" y="483.2" width="1.2" height="0.9" fill="#2a2af0" fill-opacity="0.45"/>
<rect x="649.5" y="483.6" width="2.0" height="0.5" fill="#2a2af0" fill-opacity="0.45"/>
<rect x="653.8" y="483.2" width="2.5" height="0.9" fill="#2a2af0" fill-opacity="0.45"/>
<rect x="659.7" y="483.5" width="1.6" height="0.6" fill="#2a2af0" fill-opacity="0.45"/>
<rect x="666.8" y="483.2" width="1.8" height="0.9" fill="#2a2af0" fill-opacity="0.45"/>
<rect x="673.7" y="483.7" width="1.1" height="0.4" fill="#2a2af0" fill-opacity="0.45"/>
<rect x="678.2" y="483.2" width="1.3" height="0.9" fill="#2a2af0" fill-opacity="0.45"/>
<rect x="684.6" y="483.8" width="0.9" height="0.3" fill="#2a2af0" fill-opacity="0.45"/>
<rect x="689.2" y="483.3" width="2.0" height="0.8" fill="#2a2af0" fill-opacity="0.45"/>
<rect x="696.3" y="483.6" width="1.7" height="0.5" fill="#2a2af0" fill-opacity="0.45"/>
<rect x="702.1" y="483.4" width="1.0" height="0.7" fill="#2a2af0" fill-opacity="0.45"/>
<rect x="710.4" y="483.6" width="2.5" height="0.5" fill="#2a2af0" fill-opacity="0.45"/>
<rect x="719.1" y="483.8" width="1.6" height="0.3" fill="#2a2af0" fill-opacity="0.45"/>
<text x="38.5" y="501.2" font-size="6.2" text-anchor="start" font-weight="normal" font-style="normal" fill="#111" >HK1 EBV+</text>
<text x="70.4" y="491.9" font-size="6.2" text-anchor="end" font-weight="normal" font-style="normal" fill="#111" >110</text>
<text x="70.4" y="507.6" font-size="6.2" text-anchor="end" font-weight="normal" font-style="normal" fill="#111" >0</text>
<polyline points="72.2,488.4 74.8,488.4 74.8,507.3 72.2,507.3" fill="none" stroke="#666" stroke-width="0.9"/>
<line x1="75.5" y1="507.0" x2="722" y2="507.0" stroke="#3c3cf0" stroke-opacity="0.62" stroke-width="0.8"/>
<polygon points="224.40,507.30 224.40,504.19 224.98,504.19 224.98,503.26 225.56,503.26 225.56,500.50 226.13,500.50 226.13,493.07 226.71,493.07 226.71,490.40 227.29,490.40 227.29,492.01 227.87,492.01 227.87,499.77 228.44,499.77 228.44,502.68 229.02,502.68 229.02,504.65 229.60,504.65 229.60,507.30" fill="#1414f0"/>
<rect x="151.6" y="505.8" width="1.4" height="1.5" fill="#1414f0"/>
<rect x="171.5" y="506.3" width="1.4" height="1.0" fill="#1414f0"/>
<polygon points="325.80,507.30 325.80,506.17 326.33,506.17 326.33,504.73 326.87,504.73 326.87,504.33 327.40,504.33 327.40,502.26 327.93,502.26 327.93,501.00 328.47,501.00 328.47,501.88 329.00,501.88 329.00,504.55 329.53,504.55 329.53,505.87 330.07,505.87 330.07,506.19 330.60,506.19 330.60,507.30" fill="#1414f0"/>
<polygon points="336.80,507.30 336.80,506.50 337.33,506.50 337.33,503.77 337.87,503.77 337.87,503.64 338.40,503.64 338.40,501.12 338.93,501.12 338.93,501.00 339.47,501.00 339.47,501.76 340.00,501.76 340.00,504.17 340.53,504.17 340.53,505.84 341.07,505.84 341.07,506.34 341.60,506.34 341.60,507.30" fill="#1414f0"/>
<polygon points="348.50,507.30 348.50,505.44 349.10,505.44 349.10,505.00 349.70,505.00 349.70,505.00 350.30,505.00 350.30,505.03 350.90,505.03 350.90,507.30" fill="#1414f0"/>
<polygon points="353.90,507.30 353.90,506.41 354.43,506.41 354.43,504.29 354.97,504.29 354.97,504.51 355.50,504.51 355.50,501.15 356.03,501.15 356.03,501.00 356.57,501.00 356.57,501.11 357.10,501.11 357.10,504.23 357.63,504.23 357.63,505.64 358.17,505.64 358.17,506.48 358.70,506.48 358.70,507.30" fill="#1414f0"/>
<polygon points="397.30,507.30 397.30,505.52 397.90,505.52 397.90,505.30 398.50,505.30 398.50,505.30 399.10,505.30 399.10,505.68 399.70,505.68 399.70,507.30" fill="#1414f0"/>
<rect x="489.2" y="505.8" width="1.4" height="1.5" fill="#1414f0"/>
<polygon points="493.40,507.30 493.40,505.39 493.91,505.39 493.91,505.12 494.43,505.12 494.43,502.56 494.94,502.56 494.94,502.30 495.46,502.30 495.46,502.64 495.97,502.64 495.97,504.85 496.49,504.85 496.49,505.34 497.00,505.34 497.00,507.30" fill="#1414f0"/>
<polygon points="494.70,507.30 494.70,506.21 495.23,506.21 495.23,502.69 495.77,502.69 495.77,504.06 496.30,504.06 496.30,499.31 496.83,499.31 496.83,499.30 497.37,499.30 497.37,500.59 497.90,500.59 497.90,503.82 498.43,503.82 498.43,505.65 498.97,505.65 498.97,506.17 499.50,506.17 499.50,507.30" fill="#1414f0"/>
<polygon points="508.60,507.30 508.60,505.13 509.11,505.13 509.11,504.94 509.63,504.94 509.63,503.42 510.14,503.42 510.14,502.90 510.66,502.90 510.66,503.48 511.17,503.48 511.17,505.45 511.69,505.45 511.69,505.62 512.20,505.62 512.20,507.30" fill="#1414f0"/>
<rect x="555.3" y="505.8" width="1.4" height="1.5" fill="#1414f0"/>
<polygon points="575.00,507.30 575.00,504.86 575.51,504.86 575.51,505.36 576.03,505.36 576.03,503.22 576.54,503.22 576.54,502.50 577.06,502.50 577.06,502.54 577.57,502.54 577.57,504.57 578.09,504.57 578.09,505.58 578.60,505.58 578.60,507.30" fill="#1414f0"/>
<rect x="591.9" y="505.8" width="1.4" height="1.5" fill="#1414f0"/>
<rect x="607.9" y="505.8" width="1.4" height="1.5" fill="#1414f0"/>
<polygon points="611.00,507.30 611.00,505.28 611.53,505.28 611.53,503.94 612.07,503.94 612.07,501.34 612.60,501.34 612.60,496.76 613.13,496.76 613.13,495.30 613.67,495.30 613.67,495.65 614.20,495.65 614.20,501.92 614.73,501.92 614.73,504.81 615.27,504.81 615.27,505.67 615.80,505.67 615.80,507.30" fill="#1414f0"/>
<polygon points="682.80,507.30 682.80,505.87 683.33,505.87 683.33,501.97 683.87,501.97 683.87,502.64 684.40,502.64 684.40,499.19 684.93,499.19 684.93,498.20 685.47,498.20 685.47,498.60 686.00,498.60 686.00,502.02 686.53,502.02 686.53,504.96 687.07,504.96 687.07,505.98 687.60,505.98 687.60,507.30" fill="#1414f0"/>
<rect x="77.0" y="506.6" width="1.2" height="0.4" fill="#2a2af0" fill-opacity="0.45"/>
<rect x="83.8" y="506.1" width="1.0" height="0.9" fill="#2a2af0" fill-opacity="0.45"/>
<rect x="87.2" y="506.3" width="1.8" height="0.7" fill="#2a2af0" fill-opacity="0.45"/>
<rect x="92.6" y="506.5" width="1.8" height="0.5" fill="#2a2af0" fill-opacity="0.45"/>
<rect x="95.6" y="506.5" width="1.6" height="0.5" fill="#2a2af0" fill-opacity="0.45"/>
<rect x="104.4" y="506.2" width="2.3" height="0.8" fill="#2a2af0" fill-opacity="0.45"/>
<rect x="110.2" y="506.5" width="1.2" height="0.5" fill="#2a2af0" fill-opacity="0.45"/>
<rect x="119.0" y="506.1" width="1.3" height="0.9" fill="#2a2af0" fill-opacity="0.45"/>
<rect x="122.1" y="506.3" width="1.9" height="0.7" fill="#2a2af0" fill-opacity="0.45"/>
<rect x="127.7" y="506.5" width="1.9" height="0.5" fill="#2a2af0" fill-opacity="0.45"/>
<rect x="136.2" y="506.5" width="0.9" height="0.5" fill="#2a2af0" fill-opacity="0.45"/>
<rect x="141.2" y="506.4" width="2.0" height="0.6" fill="#2a2af0" fill-opacity="0.45"/>
<rect x="145.4" y="506.1" width="2.1" height="0.9" fill="#2a2af0" fill-opacity="0.45"/>
<rect x="151.4" y="506.5" width="2.4" height="0.5" fill="#2a2af0" fill-opacity="0.45"/>
<rect x="156.3" y="506.0" width="1.2" height="1.0" fill="#2a2af0" fill-opacity="0.45"/>
<rect x="160.6" y="506.1" width="1.3" height="0.9" fill="#2a2af0" fill-opacity="0.45"/>
<rect x="169.4" y="506.3" width="1.1" height="0.7" fill="#2a2af0" fill-opacity="0.45"/>
<rect x="173.7" y="506.4" width="1.9" height="0.6" fill="#2a2af0" fill-opacity="0.45"/>
<rect x="182.4" y="506.6" width="1.5" height="0.4" fill="#2a2af0" fill-opacity="0.45"/>
<rect x="186.7" y="505.9" width="1.0" height="1.1" fill="#2a2af0" fill-opacity="0.45"/>
<rect x="190.0" y="506.7" width="1.5" height="0.3" fill="#2a2af0" fill-opacity="0.45"/>
<rect x="198.4" y="506.0" width="2.0" height="1.0" fill="#2a2af0" fill-opacity="0.45"/>
<rect x="207.4" y="506.0" width="1.4" height="1.0" fill="#2a2af0" fill-opacity="0.45"/>
<rect x="211.5" y="506.0" width="2.1" height="1.0" fill="#2a2af0" fill-opacity="0.45"/>
<rect x="214.7" y="506.2" width="1.4" height="0.8" fill="#2a2af0" fill-opacity="0.45"/>
<rect x="219.9" y="506.4" width="1.1" height="0.6" fill="#2a2af0" fill-opacity="0.45"/>
<rect x="222.9" y="506.5" width="1.4" height="0.5" fill="#2a2af0" fill-opacity="0.45"/>
<rect x="231.7" y="506.6" width="2.4" height="0.4" fill="#2a2af0" fill-opacity="0.45"/>
<rect x="235.9" y="506.4" width="2.2" height="0.6" fill="#2a2af0" fill-opacity="0.45"/>
<rect x="243.8" y="506.4" width="0.9" height="0.6" fill="#2a2af0" fill-opacity="0.45"/>
<rect x="249.7" y="506.4" width="2.4" height="0.6" fill="#2a2af0" fill-opacity="0.45"/>
<rect x="253.8" y="506.4" width="2.3" height="0.6" fill="#2a2af0" fill-opacity="0.45"/>
<rect x="257.0" y="506.4" width="2.2" height="0.6" fill="#2a2af0" fill-opacity="0.45"/>
<rect x="264.6" y="506.7" width="0.9" height="0.3" fill="#2a2af0" fill-opacity="0.45"/>
<rect x="268.0" y="506.0" width="1.2" height="1.0" fill="#2a2af0" fill-opacity="0.45"/>
<rect x="275.5" y="506.0" width="1.4" height="1.0" fill="#2a2af0" fill-opacity="0.45"/>
<rect x="280.1" y="505.9" width="1.8" height="1.1" fill="#2a2af0" fill-opacity="0.45"/>
<rect x="284.7" y="506.1" width="1.3" height="0.9" fill="#2a2af0" fill-opacity="0.45"/>
<rect x="289.3" y="506.7" width="2.1" height="0.3" fill="#2a2af0" fill-opacity="0.45"/>
<rect x="297.8" y="506.2" width="2.4" height="0.8" fill="#2a2af0" fill-opacity="0.45"/>
<rect x="301.0" y="506.5" width="1.6" height="0.5" fill="#2a2af0" fill-opacity="0.45"/>
<rect x="309.7" y="505.9" width="1.5" height="1.1" fill="#2a2af0" fill-opacity="0.45"/>
<rect x="314.2" y="506.4" width="1.6" height="0.6" fill="#2a2af0" fill-opacity="0.45"/>
<rect x="322.8" y="506.6" width="2.2" height="0.4" fill="#2a2af0" fill-opacity="0.45"/>
<rect x="330.2" y="506.0" width="2.1" height="1.0" fill="#2a2af0" fill-opacity="0.45"/>
<rect x="336.9" y="506.4" width="1.3" height="0.6" fill="#2a2af0" fill-opacity="0.45"/>
<rect x="342.0" y="506.1" width="0.9" height="0.9" fill="#2a2af0" fill-opacity="0.45"/>
<rect x="346.2" y="506.1" width="1.2" height="0.9" fill="#2a2af0" fill-opacity="0.45"/>
<rect x="349.6" y="506.7" width="1.7" height="0.3" fill="#2a2af0" fill-opacity="0.45"/>
<rect x="354.6" y="505.9" width="2.3" height="1.1" fill="#2a2af0" fill-opacity="0.45"/>
<rect x="363.5" y="506.5" width="0.9" height="0.5" fill="#2a2af0" fill-opacity="0.45"/>
<rect x="367.1" y="506.3" width="2.0" height="0.7" fill="#2a2af0" fill-opacity="0.45"/>
<rect x="372.7" y="506.5" width="1.5" height="0.5" fill="#2a2af0" fill-opacity="0.45"/>
<rect x="379.5" y="506.2" width="2.1" height="0.8" fill="#2a2af0" fill-opacity="0.45"/>
<rect x="387.6" y="506.2" width="1.0" height="0.8" fill="#2a2af0" fill-opacity="0.45"/>
<rect x="395.6" y="506.5" width="1.8" height="0.5" fill="#2a2af0" fill-opacity="0.45"/>
<rect x="400.8" y="506.1" width="1.1" height="0.9" fill="#2a2af0" fill-opacity="0.45"/>
<rect x="405.3" y="506.5" width="1.1" height="0.5" fill="#2a2af0" fill-opacity="0.45"/>
<rect x="413.6" y="506.2" width="1.4" height="0.8" fill="#2a2af0" fill-opacity="0.45"/>
<rect x="419.0" y="505.9" width="1.7" height="1.1" fill="#2a2af0" fill-opacity="0.45"/>
<rect x="423.4" y="506.1" width="1.9" height="0.9" fill="#2a2af0" fill-opacity="0.45"/>
<rect x="432.3" y="506.6" width="1.6" height="0.4" fill="#2a2af0" fill-opacity="0.45"/>
<rect x="440.3" y="506.0" width="2.4" height="1.0" fill="#2a2af0" fill-opacity="0.45"/>
<rect x="443.5" y="506.5" width="1.0" height="0.5" fill="#2a2af0" fill-opacity="0.45"/>
<rect x="447.6" y="505.9" width="1.8" height="1.1" fill="#2a2af0" fill-opacity="0.45"/>
<rect x="456.2" y="506.4" width="2.3" height="0.6" fill="#2a2af0" fill-opacity="0.45"/>
<rect x="461.9" y="506.5" width="2.1" height="0.5" fill="#2a2af0" fill-opacity="0.45"/>
<rect x="470.6" y="506.6" width="1.8" height="0.4" fill="#2a2af0" fill-opacity="0.45"/>
<rect x="477.3" y="506.5" width="1.4" height="0.5" fill="#2a2af0" fill-opacity="0.45"/>
<rect x="481.1" y="506.5" width="1.2" height="0.5" fill="#2a2af0" fill-opacity="0.45"/>
<rect x="487.7" y="506.2" width="1.1" height="0.8" fill="#2a2af0" fill-opacity="0.45"/>
<rect x="490.8" y="506.4" width="2.0" height="0.6" fill="#2a2af0" fill-opacity="0.45"/>
<rect x="494.9" y="506.5" width="1.1" height="0.5" fill="#2a2af0" fill-opacity="0.45"/>
<rect x="502.7" y="506.3" width="0.9" height="0.7" fill="#2a2af0" fill-opacity="0.45"/>
<rect x="506.3" y="506.4" width="1.7" height="0.6" fill="#2a2af0" fill-opacity="0.45"/>
<rect x="513.1" y="506.6" width="1.1" height="0.4" fill="#2a2af0" fill-opacity="0.45"/>
<rect x="520.3" y="506.4" width="1.3" height="0.6" fill="#2a2af0" fill-opacity="0.45"/>
<rect x="525.2" y="505.9" width="1.3" height="1.1" fill="#2a2af0" fill-opacity="0.45"/>
<rect x="531.6" y="506.4" width="1.5" height="0.6" fill="#2a2af0" fill-opacity="0.45"/>
<rect x="539.7" y="505.9" width="1.4" height="1.1" fill="#2a2af0" fill-opacity="0.45"/>
<rect x="543.9" y="506.1" width="1.1" height="0.9" fill="#2a2af0" fill-opacity="0.45"/>
<rect x="547.0" y="506.0" width="1.5" height="1.0" fill="#2a2af0" fill-opacity="0.45"/>
<rect x="554.9" y="506.4" width="2.3" height="0.6" fill="#2a2af0" fill-opacity="0.45"/>
<rect x="560.6" y="506.6" width="0.8" height="0.4" fill="#2a2af0" fill-opacity="0.45"/>
<rect x="567.0" y="506.2" width="2.3" height="0.8" fill="#2a2af0" fill-opacity="0.45"/>
<rect x="570.5" y="506.2" width="1.4" height="0.8" fill="#2a2af0" fill-opacity="0.45"/>
<rect x="576.5" y="506.6" width="1.3" height="0.4" fill="#2a2af0" fill-opacity="0.45"/>
<rect x="582.6" y="506.0" width="1.0" height="1.0" fill="#2a2af0" fill-opacity="0.45"/>
<rect x="588.6" y="506.1" width="2.4" height="0.9" fill="#2a2af0" fill-opacity="0.45"/>
<rect x="592.8" y="506.6" width="2.4" height="0.4" fill="#2a2af0" fill-opacity="0.45"/>
<rect x="601.6" y="506.3" width="0.9" height="0.7" fill="#2a2af0" fill-opacity="0.45"/>
<rect x="610.2" y="506.4" width="2.3" height="0.6" fill="#2a2af0" fill-opacity="0.45"/>
<rect x="616.9" y="506.0" width="1.1" height="1.0" fill="#2a2af0" fill-opacity="0.45"/>
<rect x="624.6" y="506.5" width="1.5" height="0.5" fill="#2a2af0" fill-opacity="0.45"/>
<rect x="632.7" y="506.0" width="1.1" height="1.0" fill="#2a2af0" fill-opacity="0.45"/>
<rect x="637.0" y="506.4" width="1.7" height="0.6" fill="#2a2af0" fill-opacity="0.45"/>
<rect x="642.3" y="506.6" width="1.2" height="0.4" fill="#2a2af0" fill-opacity="0.45"/>
<rect x="649.7" y="506.0" width="0.9" height="1.0" fill="#2a2af0" fill-opacity="0.45"/>
<rect x="656.0" y="506.1" width="0.9" height="0.9" fill="#2a2af0" fill-opacity="0.45"/>
<rect x="664.1" y="506.6" width="1.8" height="0.4" fill="#2a2af0" fill-opacity="0.45"/>
<rect x="670.4" y="506.2" width="1.3" height="0.8" fill="#2a2af0" fill-opacity="0.45"/>
<rect x="675.9" y="506.2" width="1.5" height="0.8" fill="#2a2af0" fill-opacity="0.45"/>
<rect x="682.8" y="506.3" width="1.5" height="0.7" fill="#2a2af0" fill-opacity="0.45"/>
<rect x="686.0" y="506.2" width="1.6" height="0.8" fill="#2a2af0" fill-opacity="0.45"/>
<rect x="690.4" y="506.1" width="2.1" height="0.9" fill="#2a2af0" fill-opacity="0.45"/>
<rect x="696.1" y="506.6" width="1.6" height="0.4" fill="#2a2af0" fill-opacity="0.45"/>
<rect x="699.8" y="506.6" width="1.5" height="0.4" fill="#2a2af0" fill-opacity="0.45"/>
<rect x="703.3" y="506.3" width="1.7" height="0.7" fill="#2a2af0" fill-opacity="0.45"/>
<rect x="706.6" y="506.2" width="0.9" height="0.8" fill="#2a2af0" fill-opacity="0.45"/>
<rect x="714.0" y="506.1" width="1.7" height="0.9" fill="#2a2af0" fill-opacity="0.45"/>
<rect x="717.3" y="506.3" width="1.4" height="0.7" fill="#2a2af0" fill-opacity="0.45"/>
<text x="38.5" y="523.9" font-size="6.2" text-anchor="start" font-weight="normal" font-style="normal" fill="#111" >HK1</text>
<text x="70.4" y="514.7" font-size="6.2" text-anchor="end" font-weight="normal" font-style="normal" fill="#111" >110</text>
<text x="70.4" y="530.7" font-size="6.2" text-anchor="end" font-weight="normal" font-style="normal" fill="#111" >0</text>
<polyline points="72.2,511.2 74.8,511.2 74.8,530.4 72.2,530.4" fill="none" stroke="#666" stroke-width="0.9"/>
<line x1="75.5" y1="530.1" x2="722" y2="530.1" stroke="#3c3cf0" stroke-opacity="0.62" stroke-width="0.8"/>
<polygon points="224.40,530.40 224.40,527.91 224.98,527.91 224.98,525.28 225.56,525.28 225.56,520.54 226.13,520.54 226.13,514.88 226.71,514.88 226.71,511.90 227.29,511.90 227.29,512.06 227.87,512.06 227.87,522.26 228.44,522.26 228.44,525.40 229.02,525.40 229.02,527.04 229.60,527.04 229.60,530.40" fill="#1414f0"/>
<polygon points="150.50,530.40 150.50,529.31 151.01,529.31 151.01,529.43 151.53,529.43 151.53,528.26 152.04,528.26 152.04,527.90 152.56,527.90 152.56,528.15 153.07,528.15 153.07,529.39 153.59,529.39 153.59,529.21 154.10,529.21 154.10,530.40" fill="#1414f0"/>
<rect x="171.5" y="528.9" width="1.4" height="1.5" fill="#1414f0"/>
<rect x="197.9" y="529.4" width="1.4" height="1.0" fill="#1414f0"/>
<polygon points="325.80,530.40 325.80,529.10 326.33,529.10 326.33,526.88 326.87,526.88 326.87,525.20 327.40,525.20 327.40,521.69 327.93,521.69 327.93,521.50 328.47,521.50 328.47,523.08 329.00,523.08 329.00,525.87 329.53,525.87 329.53,528.35 330.07,528.35 330.07,528.81 330.60,528.81 330.60,530.40" fill="#1414f0"/>
<polygon points="336.80,530.40 336.80,528.90 337.33,528.90 337.33,525.04 337.87,525.04 337.87,524.78 338.40,524.78 338.40,522.14 338.93,522.14 338.93,521.00 339.47,521.00 339.47,521.02 340.00,521.02 340.00,526.26 340.53,526.26 340.53,527.88 341.07,527.88 341.07,528.96 341.60,528.96 341.60,530.40" fill="#1414f0"/>
<polygon points="348.50,530.40 348.50,528.12 349.10,528.12 349.10,528.00 349.70,528.00 349.70,528.00 350.30,528.00 350.30,528.17 350.90,528.17 350.90,530.40" fill="#1414f0"/>
<polygon points="353.90,530.40 353.90,528.37 354.43,528.37 354.43,524.72 354.97,524.72 354.97,526.51 355.50,526.51 355.50,521.27 356.03,521.27 356.03,519.40 356.57,519.40 356.57,520.47 357.10,520.47 357.10,525.59 357.63,525.59 357.63,527.99 358.17,527.99 358.17,528.58 358.70,528.58 358.70,530.40" fill="#1414f0"/>
<polygon points="397.30,530.40 397.30,528.48 397.90,528.48 397.90,528.00 398.50,528.00 398.50,528.00 399.10,528.00 399.10,528.37 399.70,528.37 399.70,530.40" fill="#1414f0"/>
<polygon points="488.70,530.40 488.70,528.84 489.30,528.84 489.30,528.70 489.90,528.70 489.90,528.70 490.50,528.70 490.50,528.99 491.10,528.99 491.10,530.40" fill="#1414f0"/>
<polygon points="493.40,530.40 493.40,528.18 493.91,528.18 493.91,528.38 494.43,528.38 494.43,525.14 494.94,525.14 494.94,525.00 495.46,525.00 495.46,525.79 495.97,525.79 495.97,527.64 496.49,527.64 496.49,528.04 497.00,528.04 497.00,530.40" fill="#1414f0"/>
<polygon points="494.70,530.40 494.70,528.93 495.23,528.93 495.23,525.20 495.77,525.20 495.77,526.72 496.30,526.72 496.30,523.20 496.83,523.20 496.83,521.50 497.37,521.50 497.37,522.86 497.90,522.86 497.90,525.55 498.43,525.55 498.43,528.63 498.97,528.63 498.97,528.98 499.50,528.98 499.50,530.40" fill="#1414f0"/>
<polygon points="502.70,530.40 502.70,528.99 503.30,528.99 503.30,528.70 503.90,528.70 503.90,528.70 504.50,528.70 504.50,528.82 505.10,528.82 505.10,530.40" fill="#1414f0"/>
<polygon points="508.00,530.40 508.00,529.28 508.53,529.28 508.53,527.66 509.07,527.66 509.07,528.08 509.60,528.08 509.60,524.28 510.13,524.28 510.13,524.00 510.67,524.00 510.67,524.20 511.20,524.20 511.20,527.42 511.73,527.42 511.73,528.70 512.27,528.70 512.27,529.42 512.80,529.42 512.80,530.40" fill="#1414f0"/>
<rect x="555.3" y="528.9" width="1.4" height="1.5" fill="#1414f0"/>
<polygon points="574.40,530.40 574.40,529.22 574.93,529.22 574.93,526.97 575.47,526.97 575.47,526.76 576.00,526.76 576.00,522.51 576.53,522.51 576.53,522.00 577.07,522.00 577.07,523.23 577.60,523.23 577.60,526.54 578.13,526.54 578.13,528.13 578.67,528.13 578.67,529.08 579.20,529.08 579.20,530.40" fill="#1414f0"/>
<polygon points="591.80,530.40 591.80,528.54 592.40,528.54 592.40,528.40 593.00,528.40 593.00,528.40 593.60,528.40 593.60,528.79 594.20,528.79 594.20,530.40" fill="#1414f0"/>
<polygon points="607.40,530.40 607.40,528.71 608.00,528.71 608.00,528.40 608.60,528.40 608.60,528.40 609.20,528.40 609.20,528.67 609.80,528.67 609.80,530.40" fill="#1414f0"/>
<polygon points="611.00,530.40 611.00,527.91 611.53,527.91 611.53,527.23 612.07,527.23 612.07,522.38 612.60,522.38 612.60,517.35 613.13,517.35 613.13,516.50 613.67,516.50 613.67,517.97 614.20,517.97 614.20,523.11 614.73,523.11 614.73,526.55 615.27,526.55 615.27,528.28 615.80,528.28 615.80,530.40" fill="#1414f0"/>
<polygon points="682.80,530.40 682.80,528.50 683.33,528.50 683.33,525.62 683.87,525.62 683.87,524.74 684.40,524.74 684.40,519.40 684.93,519.40 684.93,519.20 685.47,519.20 685.47,521.20 686.00,521.20 686.00,525.45 686.53,525.45 686.53,528.04 687.07,528.04 687.07,528.96 687.60,528.96 687.60,530.40" fill="#1414f0"/>
<rect x="77.0" y="529.8" width="2.0" height="0.3" fill="#2a2af0" fill-opacity="0.45"/>
<rect x="83.8" y="529.2" width="2.1" height="0.9" fill="#2a2af0" fill-opacity="0.45"/>
<rect x="87.2" y="529.3" width="1.4" height="0.8" fill="#2a2af0" fill-opacity="0.45"/>
<rect x="95.1" y="529.1" width="2.3" height="1.0" fill="#2a2af0" fill-opacity="0.45"/>
<rect x="98.5" y="529.1" width="2.4" height="1.0" fill="#2a2af0" fill-opacity="0.45"/>
<rect x="107.2" y="529.7" width="1.1" height="0.4" fill="#2a2af0" fill-opacity="0.45"/>
<rect x="110.8" y="529.8" width="2.2" height="0.3" fill="#2a2af0" fill-opacity="0.45"/>
<rect x="118.7" y="529.3" width="2.2" height="0.8" fill="#2a2af0" fill-opacity="0.45"/>
<rect x="125.5" y="529.6" width="1.0" height="0.5" fill="#2a2af0" fill-opacity="0.45"/>
<rect x="129.1" y="529.2" width="1.1" height="0.9" fill="#2a2af0" fill-opacity="0.45"/>
<rect x="134.0" y="529.5" width="0.8" height="0.6" fill="#2a2af0" fill-opacity="0.45"/>
<rect x="138.5" y="529.6" width="2.0" height="0.5" fill="#2a2af0" fill-opacity="0.45"/>
<rect x="143.7" y="529.5" width="2.4" height="0.6" fill="#2a2af0" fill-opacity="0.45"/>
<rect x="149.8" y="529.1" width="1.9" height="1.0" fill="#2a2af0" fill-opacity="0.45"/>
<rect x="153.0" y="529.5" width="1.5" height="0.6" fill="#2a2af0" fill-opacity="0.45"/>
<rect x="160.6" y="529.5" width="2.0" height="0.6" fill="#2a2af0" fill-opacity="0.45"/>
<rect x="166.8" y="529.6" width="2.3" height="0.5" fill="#2a2af0" fill-opacity="0.45"/>
<rect x="170.4" y="529.1" width="1.1" height="1.0" fill="#2a2af0" fill-opacity="0.45"/>
<rect x="173.4" y="529.6" width="2.1" height="0.5" fill="#2a2af0" fill-opacity="0.45"/>
<rect x="182.2" y="529.8" width="1.6" height="0.3" fill="#2a2af0" fill-opacity="0.45"/>
<rect x="188.2" y="529.2" width="1.1" height="0.9" fill="#2a2af0" fill-opacity="0.45"/>
<rect x="194.2" y="529.5" width="2.2" height="0.6" fill="#2a2af0" fill-opacity="0.45"/>
<rect x="198.7" y="529.0" width="1.3" height="1.1" fill="#2a2af0" fill-opacity="0.45"/>
<rect x="203.0" y="529.2" width="1.6" height="0.9" fill="#2a2af0" fill-opacity="0.45"/>
<rect x="206.7" y="529.3" width="0.9" height="0.8" fill="#2a2af0" fill-opacity="0.45"/>
<rect x="214.4" y="529.2" width="2.1" height="0.9" fill="#2a2af0" fill-opacity="0.45"/>
<rect x="221.2" y="529.5" width="1.5" height="0.6" fill="#2a2af0" fill-opacity="0.45"/>
<rect x="226.5" y="529.1" width="0.9" height="1.0" fill="#2a2af0" fill-opacity="0.45"/>
<rect x="234.9" y="529.8" width="1.2" height="0.3" fill="#2a2af0" fill-opacity="0.45"/>
<rect x="239.4" y="529.1" width="1.7" height="1.0" fill="#2a2af0" fill-opacity="0.45"/>
<rect x="244.7" y="529.1" width="1.2" height="1.0" fill="#2a2af0" fill-opacity="0.45"/>
<rect x="250.5" y="529.4" width="2.1" height="0.7" fill="#2a2af0" fill-opacity="0.45"/>
<rect x="258.0" y="529.3" width="1.4" height="0.8" fill="#2a2af0" fill-opacity="0.45"/>
<rect x="263.0" y="529.7" width="2.2" height="0.4" fill="#2a2af0" fill-opacity="0.45"/>
<rect x="269.9" y="529.2" width="1.1" height="0.9" fill="#2a2af0" fill-opacity="0.45"/>
<rect x="275.6" y="529.2" width="1.8" height="0.9" fill="#2a2af0" fill-opacity="0.45"/>
<rect x="279.3" y="529.4" width="2.3" height="0.7" fill="#2a2af0" fill-opacity="0.45"/>
<rect x="283.8" y="529.6" width="1.3" height="0.5" fill="#2a2af0" fill-opacity="0.45"/>
<rect x="291.0" y="529.1" width="1.1" height="1.0" fill="#2a2af0" fill-opacity="0.45"/>
<rect x="294.9" y="529.6" width="1.4" height="0.5" fill="#2a2af0" fill-opacity="0.45"/>
<rect x="301.0" y="529.7" width="1.4" height="0.4" fill="#2a2af0" fill-opacity="0.45"/>
<rect x="305.2" y="529.0" width="2.0" height="1.1" fill="#2a2af0" fill-opacity="0.45"/>
<rect x="308.8" y="529.0" width="1.0" height="1.1" fill="#2a2af0" fill-opacity="0.45"/>
<rect x="314.1" y="529.0" width="2.2" height="1.1" fill="#2a2af0" fill-opacity="0.45"/>
<rect x="321.5" y="529.5" width="1.1" height="0.6" fill="#2a2af0" fill-opacity="0.45"/>
<rect x="328.3" y="529.7" width="1.2" height="0.4" fill="#2a2af0" fill-opacity="0.45"/>
<rect x="333.6" y="529.8" width="1.5" height="0.3" fill="#2a2af0" fill-opacity="0.45"/>
<rect x="341.4" y="529.2" width="1.7" height="0.9" fill="#2a2af0" fill-opacity="0.45"/>
<rect x="348.2" y="529.4" width="1.0" height="0.7" fill="#2a2af0" fill-opacity="0.45"/>
<rect x="354.8" y="529.5" width="2.1" height="0.6" fill="#2a2af0" fill-opacity="0.45"/>
<rect x="363.3" y="529.5" width="1.8" height="0.6" fill="#2a2af0" fill-opacity="0.45"/>
<rect x="370.8" y="529.5" width="1.2" height="0.6" fill="#2a2af0" fill-opacity="0.45"/>
<rect x="378.1" y="529.1" width="2.1" height="1.0" fill="#2a2af0" fill-opacity="0.45"/>
<rect x="385.3" y="529.1" width="2.0" height="1.0" fill="#2a2af0" fill-opacity="0.45"/>
<rect x="392.1" y="529.4" width="1.3" height="0.7" fill="#2a2af0" fill-opacity="0.45"/>
<rect x="398.9" y="529.7" width="1.5" height="0.4" fill="#2a2af0" fill-opacity="0.45"/>
<rect x="406.6" y="529.2" width="1.9" height="0.9" fill="#2a2af0" fill-opacity="0.45"/>
<rect x="411.1" y="529.5" width="1.6" height="0.6" fill="#2a2af0" fill-opacity="0.45"/>
<rect x="417.8" y="529.5" width="1.9" height="0.6" fill="#2a2af0" fill-opacity="0.45"/>
<rect x="426.4" y="529.7" width="1.9" height="0.4" fill="#2a2af0" fill-opacity="0.45"/>
<rect x="434.1" y="529.5" width="1.6" height="0.6" fill="#2a2af0" fill-opacity="0.45"/>
<rect x="442.9" y="529.8" width="1.7" height="0.3" fill="#2a2af0" fill-opacity="0.45"/>
<rect x="446.9" y="529.2" width="2.4" height="0.9" fill="#2a2af0" fill-opacity="0.45"/>
<rect x="453.0" y="529.7" width="1.8" height="0.4" fill="#2a2af0" fill-opacity="0.45"/>
<rect x="459.3" y="529.2" width="1.7" height="0.9" fill="#2a2af0" fill-opacity="0.45"/>
<rect x="466.1" y="529.1" width="1.7" height="1.0" fill="#2a2af0" fill-opacity="0.45"/>
<rect x="471.6" y="529.0" width="1.2" height="1.1" fill="#2a2af0" fill-opacity="0.45"/>
<rect x="478.7" y="529.5" width="2.1" height="0.6" fill="#2a2af0" fill-opacity="0.45"/>
<rect x="482.4" y="529.0" width="1.4" height="1.1" fill="#2a2af0" fill-opacity="0.45"/>
<rect x="485.7" y="529.6" width="1.5" height="0.5" fill="#2a2af0" fill-opacity="0.45"/>
<rect x="488.8" y="529.5" width="1.5" height="0.6" fill="#2a2af0" fill-opacity="0.45"/>
<rect x="496.0" y="529.5" width="1.3" height="0.6" fill="#2a2af0" fill-opacity="0.45"/>
<rect x="500.3" y="529.2" width="2.4" height="0.9" fill="#2a2af0" fill-opacity="0.45"/>
<rect x="506.5" y="529.6" width="2.2" height="0.5" fill="#2a2af0" fill-opacity="0.45"/>
<rect x="511.9" y="529.6" width="1.0" height="0.5" fill="#2a2af0" fill-opacity="0.45"/>
<rect x="519.5" y="529.2" width="1.9" height="0.9" fill="#2a2af0" fill-opacity="0.45"/>
<rect x="525.3" y="529.4" width="1.2" height="0.7" fill="#2a2af0" fill-opacity="0.45"/>
<rect x="534.1" y="529.5" width="1.9" height="0.6" fill="#2a2af0" fill-opacity="0.45"/>
<rect x="542.0" y="529.1" width="1.6" height="1.0" fill="#2a2af0" fill-opacity="0.45"/>
<rect x="546.8" y="529.4" width="1.0" height="0.7" fill="#2a2af0" fill-opacity="0.45"/>
<rect x="554.8" y="529.5" width="2.2" height="0.6" fill="#2a2af0" fill-opacity="0.45"/>
<rect x="559.4" y="529.5" width="1.2" height="0.6" fill="#2a2af0" fill-opacity="0.45"/>
<rect x="565.0" y="529.7" width="0.8" height="0.4" fill="#2a2af0" fill-opacity="0.45"/>
<rect x="572.3" y="529.6" width="1.2" height="0.5" fill="#2a2af0" fill-opacity="0.45"/>
<rect x="577.1" y="529.4" width="1.5" height="0.7" fill="#2a2af0" fill-opacity="0.45"/>
<rect x="583.9" y="529.3" width="1.4" height="0.8" fill="#2a2af0" fill-opacity="0.45"/>
<rect x="592.5" y="529.1" width="0.9" height="1.0" fill="#2a2af0" fill-opacity="0.45"/>
<rect x="600.5" y="529.1" width="2.1" height="1.0" fill="#2a2af0" fill-opacity="0.45"/>
<rect x="604.3" y="529.1" width="1.9" height="1.0" fill="#2a2af0" fill-opacity="0.45"/>
<rect x="607.4" y="529.8" width="2.4" height="0.3" fill="#2a2af0" fill-opacity="0.45"/>
<rect x="614.3" y="529.6" width="1.0" height="0.5" fill="#2a2af0" fill-opacity="0.45"/>
<rect x="618.2" y="529.6" width="2.1" height="0.5" fill="#2a2af0" fill-opacity="0.45"/>
<rect x="623.3" y="529.7" width="2.3" height="0.4" fill="#2a2af0" fill-opacity="0.45"/>
<rect x="631.0" y="529.7" width="2.3" height="0.4" fill="#2a2af0" fill-opacity="0.45"/>
<rect x="637.7" y="529.2" width="1.9" height="0.9" fill="#2a2af0" fill-opacity="0.45"/>
<rect x="646.0" y="529.2" width="2.2" height="0.9" fill="#2a2af0" fill-opacity="0.45"/>
<rect x="650.2" y="529.2" width="1.7" height="0.9" fill="#2a2af0" fill-opacity="0.45"/>
<rect x="657.7" y="529.4" width="2.3" height="0.7" fill="#2a2af0" fill-opacity="0.45"/>
<rect x="664.0" y="529.6" width="1.2" height="0.5" fill="#2a2af0" fill-opacity="0.45"/>
<rect x="667.8" y="529.4" width="0.9" height="0.7" fill="#2a2af0" fill-opacity="0.45"/>
<rect x="673.6" y="529.7" width="1.6" height="0.4" fill="#2a2af0" fill-opacity="0.45"/>
<rect x="679.6" y="529.4" width="2.3" height="0.7" fill="#2a2af0" fill-opacity="0.45"/>
<rect x="682.7" y="529.1" width="1.6" height="1.0" fill="#2a2af0" fill-opacity="0.45"/>
<rect x="689.0" y="529.3" width="2.2" height="0.8" fill="#2a2af0" fill-opacity="0.45"/>
<rect x="694.3" y="529.5" width="2.4" height="0.6" fill="#2a2af0" fill-opacity="0.45"/>
<rect x="697.7" y="529.3" width="1.9" height="0.8" fill="#2a2af0" fill-opacity="0.45"/>
<rect x="700.9" y="529.3" width="2.0" height="0.8" fill="#2a2af0" fill-opacity="0.45"/>
<rect x="709.5" y="529.5" width="2.5" height="0.6" fill="#2a2af0" fill-opacity="0.45"/>
<rect x="715.6" y="529.4" width="2.3" height="0.7" fill="#2a2af0" fill-opacity="0.45"/>
<rect x="718.8" y="529.2" width="1.9" height="0.9" fill="#2a2af0" fill-opacity="0.45"/>
<text x="38.5" y="542.8" font-size="6.2" text-anchor="start" font-weight="normal" font-style="normal" fill="#111" >NP69</text>
<text x="70.4" y="535.8" font-size="6.2" text-anchor="end" font-weight="normal" font-style="normal" fill="#111" >79</text>
<text x="70.4" y="550.5" font-size="6.2" text-anchor="end" font-weight="normal" font-style="normal" fill="#111" >0</text>
<polyline points="72.2,532.3 74.8,532.3 74.8,550.2 72.2,550.2" fill="none" stroke="#666" stroke-width="0.9"/>
<line x1="75.5" y1="549.9" x2="722" y2="549.9" stroke="#3c3cf0" stroke-opacity="0.62" stroke-width="0.8"/>
<polygon points="224.40,550.20 224.40,547.05 224.98,547.05 224.98,546.10 225.56,546.10 225.56,541.68 226.13,541.68 226.13,535.29 226.71,535.29 226.71,532.50 227.29,532.50 227.29,534.08 227.87,534.08 227.87,542.64 228.44,542.64 228.44,545.35 229.02,545.35 229.02,547.53 229.60,547.53 229.60,550.20" fill="#1414f0"/>
<rect x="106.0" y="548.7" width="1.4" height="1.5" fill="#1414f0"/>
<polygon points="116.30,550.20 116.30,548.24 116.90,548.24 116.90,547.90 117.50,547.90 117.50,547.90 118.10,547.90 118.10,548.00 118.70,548.00 118.70,550.20" fill="#1414f0"/>
<polygon points="171.00,550.20 171.00,548.65 171.60,548.65 171.60,548.40 172.20,548.40 172.20,548.40 172.80,548.40 172.80,548.48 173.40,548.48 173.40,550.20" fill="#1414f0"/>
<rect x="197.9" y="549.2" width="1.4" height="1.0" fill="#1414f0"/>
<polygon points="325.80,550.20 325.80,548.75 326.33,548.75 326.33,543.80 326.87,543.80 326.87,545.87 327.40,545.87 327.40,541.23 327.93,541.23 327.93,539.00 328.47,539.00 328.47,539.88 329.00,539.88 329.00,544.07 329.53,544.07 329.53,547.05 330.07,547.05 330.07,548.37 330.60,548.37 330.60,550.20" fill="#1414f0"/>
<polygon points="336.90,550.20 336.90,547.51 337.41,547.51 337.41,547.55 337.93,547.55 337.93,545.73 338.44,545.73 338.44,544.90 338.96,544.90 338.96,545.15 339.47,545.15 339.47,548.10 339.99,548.10 339.99,547.32 340.50,547.32 340.50,550.20" fill="#1414f0"/>
<polygon points="348.50,550.20 348.50,548.06 349.10,548.06 349.10,547.90 349.70,547.90 349.70,547.90 350.30,547.90 350.30,548.10 350.90,548.10 350.90,550.20" fill="#1414f0"/>
<rect x="355.6" y="549.0" width="1.4" height="1.2" fill="#1414f0"/>
<polygon points="396.10,550.20 396.10,548.92 396.61,548.92 396.61,548.91 397.13,548.91 397.13,547.41 397.64,547.41 397.64,547.20 398.16,547.20 398.16,547.46 398.67,547.46 398.67,549.06 399.19,549.06 399.19,548.72 399.70,548.72 399.70,550.20" fill="#1414f0"/>
<polygon points="495.10,550.20 495.10,547.52 495.61,547.52 495.61,547.61 496.13,547.61 496.13,544.47 496.64,544.47 496.64,544.40 497.16,544.40 497.16,545.08 497.67,545.08 497.67,547.24 498.19,547.24 498.19,547.95 498.70,547.95 498.70,550.20" fill="#1414f0"/>
<rect x="502.3" y="549.0" width="1.4" height="1.2" fill="#1414f0"/>
<rect x="507.3" y="549.0" width="1.4" height="1.2" fill="#1414f0"/>
<polygon points="574.40,550.20 574.40,549.10 574.93,549.10 574.93,545.72 575.47,545.72 575.47,545.11 576.00,545.11 576.00,541.82 576.53,541.82 576.53,541.60 577.07,541.60 577.07,542.08 577.60,542.08 577.60,545.61 578.13,545.61 578.13,548.35 578.67,548.35 578.67,549.08 579.20,549.08 579.20,550.20" fill="#1414f0"/>
<polygon points="607.40,550.20 607.40,548.31 608.00,548.31 608.00,548.20 608.60,548.20 608.60,548.20 609.20,548.20 609.20,548.35 609.80,548.35 609.80,550.20" fill="#1414f0"/>
<polygon points="611.00,550.20 611.00,547.37 611.53,547.37 611.53,546.16 612.07,546.16 612.07,542.77 612.60,542.77 612.60,534.35 613.13,534.35 613.13,533.40 613.67,533.40 613.67,534.57 614.20,534.57 614.20,543.04 614.73,543.04 614.73,546.40 615.27,546.40 615.27,547.35 615.80,547.35 615.80,550.20" fill="#1414f0"/>
<polygon points="682.80,550.20 682.80,548.79 683.33,548.79 683.33,545.34 683.87,545.34 683.87,545.65 684.40,545.65 684.40,541.06 684.93,541.06 684.93,539.90 685.47,539.90 685.47,540.32 686.00,540.32 686.00,544.93 686.53,544.93 686.53,547.57 687.07,547.57 687.07,548.64 687.60,548.64 687.60,550.20" fill="#1414f0"/>
<rect x="77.0" y="549.3" width="2.1" height="0.6" fill="#2a2af0" fill-opacity="0.45"/>
<rect x="85.7" y="549.0" width="1.8" height="0.9" fill="#2a2af0" fill-opacity="0.45"/>
<rect x="90.4" y="549.6" width="2.5" height="0.3" fill="#2a2af0" fill-opacity="0.45"/>
<rect x="97.6" y="548.9" width="1.4" height="1.0" fill="#2a2af0" fill-opacity="0.45"/>
<rect x="104.3" y="548.8" width="2.2" height="1.1" fill="#2a2af0" fill-opacity="0.45"/>
<rect x="110.9" y="549.4" width="1.5" height="0.5" fill="#2a2af0" fill-opacity="0.45"/>
<rect x="119.2" y="549.3" width="2.0" height="0.6" fill="#2a2af0" fill-opacity="0.45"/>
<rect x="125.8" y="548.9" width="2.2" height="1.0" fill="#2a2af0" fill-opacity="0.45"/>
<rect x="130.5" y="549.6" width="1.2" height="0.3" fill="#2a2af0" fill-opacity="0.45"/>
<rect x="136.1" y="549.1" width="2.2" height="0.8" fill="#2a2af0" fill-opacity="0.45"/>
<rect x="144.4" y="549.6" width="2.2" height="0.3" fill="#2a2af0" fill-opacity="0.45"/>
<rect x="152.3" y="548.9" width="1.8" height="1.0" fill="#2a2af0" fill-opacity="0.45"/>
<rect x="156.9" y="548.9" width="2.2" height="1.0" fill="#2a2af0" fill-opacity="0.45"/>
<rect x="164.0" y="548.9" width="1.4" height="1.0" fill="#2a2af0" fill-opacity="0.45"/>
<rect x="167.5" y="549.2" width="2.2" height="0.7" fill="#2a2af0" fill-opacity="0.45"/>
<rect x="171.7" y="549.0" width="2.4" height="0.9" fill="#2a2af0" fill-opacity="0.45"/>
<rect x="176.1" y="549.1" width="2.0" height="0.8" fill="#2a2af0" fill-opacity="0.45"/>
<rect x="181.9" y="549.4" width="1.2" height="0.5" fill="#2a2af0" fill-opacity="0.45"/>
<rect x="189.4" y="549.0" width="1.6" height="0.9" fill="#2a2af0" fill-opacity="0.45"/>
<rect x="192.9" y="549.0" width="2.1" height="0.9" fill="#2a2af0" fill-opacity="0.45"/>
<rect x="197.3" y="549.1" width="2.3" height="0.8" fill="#2a2af0" fill-opacity="0.45"/>
<rect x="205.7" y="549.2" width="1.6" height="0.7" fill="#2a2af0" fill-opacity="0.45"/>
<rect x="212.2" y="549.4" width="1.1" height="0.5" fill="#2a2af0" fill-opacity="0.45"/>
<rect x="216.3" y="549.0" width="1.4" height="0.9" fill="#2a2af0" fill-opacity="0.45"/>
<rect x="222.7" y="549.3" width="1.7" height="0.6" fill="#2a2af0" fill-opacity="0.45"/>
<rect x="226.6" y="549.6" width="2.5" height="0.3" fill="#2a2af0" fill-opacity="0.45"/>
<rect x="231.8" y="549.5" width="1.9" height="0.4" fill="#2a2af0" fill-opacity="0.45"/>
<rect x="239.5" y="549.5" width="1.8" height="0.4" fill="#2a2af0" fill-opacity="0.45"/>
<rect x="244.6" y="549.2" width="0.8" height="0.7" fill="#2a2af0" fill-opacity="0.45"/>
<rect x="247.8" y="548.8" width="2.3" height="1.1" fill="#2a2af0" fill-opacity="0.45"/>
<rect x="253.7" y="549.1" width="1.2" height="0.8" fill="#2a2af0" fill-opacity="0.45"/>
<rect x="261.4" y="549.3" width="2.4" height="0.6" fill="#2a2af0" fill-opacity="0.45"/>
<rect x="269.0" y="548.9" width="2.4" height="1.0" fill="#2a2af0" fill-opacity="0.45"/>
<rect x="273.5" y="549.6" width="1.1" height="0.3" fill="#2a2af0" fill-opacity="0.45"/>
<rect x="277.6" y="549.5" width="0.9" height="0.4" fill="#2a2af0" fill-opacity="0.45"/>
<rect x="283.9" y="548.9" width="1.6" height="1.0" fill="#2a2af0" fill-opacity="0.45"/>
<rect x="292.6" y="548.9" width="0.9" height="1.0" fill="#2a2af0" fill-opacity="0.45"/>
<rect x="299.2" y="549.3" width="1.0" height="0.6" fill="#2a2af0" fill-opacity="0.45"/>
<rect x="308.0" y="549.4" width="1.8" height="0.5" fill="#2a2af0" fill-opacity="0.45"/>
<rect x="314.8" y="548.8" width="1.9" height="1.1" fill="#2a2af0" fill-opacity="0.45"/>
<rect x="320.2" y="549.2" width="1.1" height="0.7" fill="#2a2af0" fill-opacity="0.45"/>
<rect x="329.0" y="548.8" width="1.2" height="1.1" fill="#2a2af0" fill-opacity="0.45"/>
<rect x="332.2" y="549.4" width="1.4" height="0.5" fill="#2a2af0" fill-opacity="0.45"/>
<rect x="340.6" y="548.9" width="2.2" height="1.0" fill="#2a2af0" fill-opacity="0.45"/>
<rect x="343.9" y="549.0" width="2.0" height="0.9" fill="#2a2af0" fill-opacity="0.45"/>
<rect x="350.8" y="548.8" width="0.9" height="1.1" fill="#2a2af0" fill-opacity="0.45"/>
<rect x="354.6" y="549.0" width="2.4" height="0.9" fill="#2a2af0" fill-opacity="0.45"/>
<rect x="361.7" y="549.4" width="1.8" height="0.5" fill="#2a2af0" fill-opacity="0.45"/>
<rect x="369.3" y="549.5" width="1.4" height="0.4" fill="#2a2af0" fill-opacity="0.45"/>
<rect x="373.8" y="549.5" width="1.6" height="0.4" fill="#2a2af0" fill-opacity="0.45"/>
<rect x="377.8" y="549.4" width="1.0" height="0.5" fill="#2a2af0" fill-opacity="0.45"/>
<rect x="384.9" y="549.6" width="2.0" height="0.3" fill="#2a2af0" fill-opacity="0.45"/>
<rect x="389.0" y="549.6" width="2.4" height="0.3" fill="#2a2af0" fill-opacity="0.45"/>
<rect x="393.4" y="548.9" width="2.3" height="1.0" fill="#2a2af0" fill-opacity="0.45"/>
<rect x="401.7" y="549.5" width="1.6" height="0.4" fill="#2a2af0" fill-opacity="0.45"/>
<rect x="405.3" y="548.9" width="2.2" height="1.0" fill="#2a2af0" fill-opacity="0.45"/>
<rect x="412.1" y="549.2" width="1.4" height="0.7" fill="#2a2af0" fill-opacity="0.45"/>
<rect x="420.0" y="549.2" width="1.9" height="0.7" fill="#2a2af0" fill-opacity="0.45"/>
<rect x="423.9" y="549.4" width="0.9" height="0.5" fill="#2a2af0" fill-opacity="0.45"/>
<rect x="431.1" y="549.2" width="1.0" height="0.7" fill="#2a2af0" fill-opacity="0.45"/>
<rect x="439.4" y="549.4" width="1.5" height="0.5" fill="#2a2af0" fill-opacity="0.45"/>
<rect x="443.3" y="549.4" width="2.2" height="0.5" fill="#2a2af0" fill-opacity="0.45"/>
<rect x="448.3" y="549.5" width="1.6" height="0.4" fill="#2a2af0" fill-opacity="0.45"/>
<rect x="453.2" y="548.9" width="1.0" height="1.0" fill="#2a2af0" fill-opacity="0.45"/>
<rect x="462.1" y="549.6" width="2.3" height="0.3" fill="#2a2af0" fill-opacity="0.45"/>
<rect x="469.1" y="549.4" width="1.6" height="0.5" fill="#2a2af0" fill-opacity="0.45"/>
<rect x="473.8" y="549.4" width="1.1" height="0.5" fill="#2a2af0" fill-opacity="0.45"/>
<rect x="479.0" y="548.8" width="2.5" height="1.1" fill="#2a2af0" fill-opacity="0.45"/>
<rect x="487.5" y="549.5" width="1.3" height="0.4" fill="#2a2af0" fill-opacity="0.45"/>
<rect x="495.9" y="549.6" width="2.0" height="0.3" fill="#2a2af0" fill-opacity="0.45"/>
<rect x="500.7" y="548.8" width="0.8" height="1.1" fill="#2a2af0" fill-opacity="0.45"/>
<rect x="508.5" y="549.3" width="1.0" height="0.6" fill="#2a2af0" fill-opacity="0.45"/>
<rect x="511.5" y="548.9" width="1.7" height="1.0" fill="#2a2af0" fill-opacity="0.45"/>
<rect x="515.6" y="549.3" width="2.4" height="0.6" fill="#2a2af0" fill-opacity="0.45"/>
<rect x="520.0" y="549.1" width="1.0" height="0.8" fill="#2a2af0" fill-opacity="0.45"/>
<rect x="524.0" y="549.0" width="2.0" height="0.9" fill="#2a2af0" fill-opacity="0.45"/>
<rect x="528.2" y="549.5" width="0.9" height="0.4" fill="#2a2af0" fill-opacity="0.45"/>
<rect x="534.9" y="549.2" width="1.3" height="0.7" fill="#2a2af0" fill-opacity="0.45"/>
<rect x="539.1" y="549.1" width="2.0" height="0.8" fill="#2a2af0" fill-opacity="0.45"/>
<rect x="547.0" y="549.1" width="1.1" height="0.8" fill="#2a2af0" fill-opacity="0.45"/>
<rect x="550.4" y="549.0" width="1.5" height="0.9" fill="#2a2af0" fill-opacity="0.45"/>
<rect x="557.7" y="549.6" width="2.2" height="0.3" fill="#2a2af0" fill-opacity="0.45"/>
<rect x="562.7" y="548.9" width="2.3" height="1.0" fill="#2a2af0" fill-opacity="0.45"/>
<rect x="568.7" y="549.6" width="2.3" height="0.3" fill="#2a2af0" fill-opacity="0.45"/>
<rect x="574.5" y="548.9" width="1.3" height="1.0" fill="#2a2af0" fill-opacity="0.45"/>
<rect x="578.6" y="548.9" width="1.4" height="1.0" fill="#2a2af0" fill-opacity="0.45"/>
<rect x="582.6" y="549.3" width="1.8" height="0.6" fill="#2a2af0" fill-opacity="0.45"/>
<rect x="585.7" y="549.2" width="1.6" height="0.7" fill="#2a2af0" fill-opacity="0.45"/>
<rect x="591.7" y="549.5" width="2.0" height="0.4" fill="#2a2af0" fill-opacity="0.45"/>
<rect x="599.6" y="548.9" width="1.3" height="1.0" fill="#2a2af0" fill-opacity="0.45"/>
<rect x="606.9" y="549.3" width="2.1" height="0.6" fill="#2a2af0" fill-opacity="0.45"/>
<rect x="610.3" y="548.9" width="2.4" height="1.0" fill="#2a2af0" fill-opacity="0.45"/>
<rect x="616.3" y="549.2" width="1.7" height="0.7" fill="#2a2af0" fill-opacity="0.45"/>
<rect x="622.5" y="549.6" width="2.4" height="0.3" fill="#2a2af0" fill-opacity="0.45"/>
<rect x="626.8" y="549.5" width="1.0" height="0.4" fill="#2a2af0" fill-opacity="0.45"/>
<rect x="631.3" y="548.9" width="0.9" height="1.0" fill="#2a2af0" fill-opacity="0.45"/>
<rect x="634.9" y="549.0" width="1.1" height="0.9" fill="#2a2af0" fill-opacity="0.45"/>
<rect x="638.0" y="549.1" width="1.8" height="0.8" fill="#2a2af0" fill-opacity="0.45"/>
<rect x="644.1" y="549.0" width="1.0" height="0.9" fill="#2a2af0" fill-opacity="0.45"/>
<rect x="652.4" y="549.0" width="0.9" height="0.9" fill="#2a2af0" fill-opacity="0.45"/>
<rect x="656.1" y="549.2" width="1.7" height="0.7" fill="#2a2af0" fill-opacity="0.45"/>
<rect x="660.8" y="549.5" width="1.5" height="0.4" fill="#2a2af0" fill-opacity="0.45"/>
<rect x="664.6" y="549.1" width="2.3" height="0.8" fill="#2a2af0" fill-opacity="0.45"/>
<rect x="668.5" y="549.1" width="2.1" height="0.8" fill="#2a2af0" fill-opacity="0.45"/>
<rect x="672.5" y="548.9" width="2.4" height="1.0" fill="#2a2af0" fill-opacity="0.45"/>
<rect x="677.8" y="549.3" width="2.2" height="0.6" fill="#2a2af0" fill-opacity="0.45"/>
<rect x="684.0" y="549.3" width="2.4" height="0.6" fill="#2a2af0" fill-opacity="0.45"/>
<rect x="691.6" y="549.3" width="1.2" height="0.6" fill="#2a2af0" fill-opacity="0.45"/>
<rect x="696.6" y="549.3" width="2.5" height="0.6" fill="#2a2af0" fill-opacity="0.45"/>
<rect x="704.5" y="548.9" width="2.2" height="1.0" fill="#2a2af0" fill-opacity="0.45"/>
<rect x="712.5" y="549.6" width="1.7" height="0.3" fill="#2a2af0" fill-opacity="0.45"/>
<text x="38.5" y="570.9" font-size="6.2" text-anchor="start" font-weight="normal" font-style="normal" fill="#111" >C666-1</text>
<text x="70.4" y="563.7" font-size="6.2" text-anchor="end" font-weight="normal" font-style="normal" fill="#111" >13</text>
<text x="70.4" y="577.6" font-size="6.2" text-anchor="end" font-weight="normal" font-style="normal" fill="#111" >-13</text>
<polyline points="72.2,560.2 74.8,560.2 74.8,577.3 72.2,577.3" fill="none" stroke="#666" stroke-width="0.9"/>
<line x1="75.5" y1="568.9" x2="722" y2="568.9" stroke="#f39a2e" stroke-opacity="0.8" stroke-width="1" stroke-dasharray="2.2 0.8"/>
<rect x="83.8" y="567.4" width="1.4" height="1.5" fill="#1414f0"/>
<polygon points="192.80,568.90 192.80,567.20 193.40,567.20 193.40,566.90 194.00,566.90 194.00,566.90 194.60,566.90 194.60,567.09 195.20,567.09 195.20,568.90" fill="#1414f0"/>
<polygon points="222.60,568.90 222.60,567.53 223.11,567.53 223.11,567.83 223.63,567.83 223.63,565.92 224.14,565.92 224.14,565.90 224.66,565.90 224.66,566.12 225.17,566.12 225.17,567.19 225.69,567.19 225.69,567.82 226.20,567.82 226.20,568.90" fill="#1414f0"/>
<polygon points="229.00,568.90 229.00,567.19 229.60,567.19 229.60,566.90 230.20,566.90 230.20,566.90 230.80,566.90 230.80,566.93 231.40,566.93 231.40,568.90" fill="#1414f0"/>
<rect x="325.3" y="567.4" width="1.4" height="1.5" fill="#1414f0"/>
<polygon points="334.60,568.90 334.60,567.66 335.11,567.66 335.11,567.52 335.63,567.52 335.63,566.33 336.14,566.33 336.14,565.90 336.66,565.90 336.66,566.43 337.17,566.43 337.17,567.13 337.69,567.13 337.69,567.65 338.20,567.65 338.20,568.90" fill="#1414f0"/>
<polygon points="337.10,568.90 337.10,567.97 337.63,567.97 337.63,566.58 338.17,566.58 338.17,566.60 338.70,566.60 338.70,563.61 339.23,563.61 339.23,562.90 339.77,562.90 339.77,563.99 340.30,563.99 340.30,565.54 340.83,565.54 340.83,567.38 341.37,567.38 341.37,567.94 341.90,567.94 341.90,568.90" fill="#1414f0"/>
<polygon points="348.60,568.90 348.60,567.90 349.11,567.90 349.11,567.74 349.63,567.74 349.63,566.59 350.14,566.59 350.14,566.40 350.66,566.40 350.66,566.78 351.17,566.78 351.17,567.70 351.69,567.70 351.69,567.66 352.20,567.66 352.20,568.90" fill="#1414f0"/>
<polygon points="353.70,568.90 353.70,566.71 354.21,566.71 354.21,566.85 354.73,566.85 354.73,564.41 355.24,564.41 355.24,563.90 355.76,563.90 355.76,564.60 356.27,564.60 356.27,566.95 356.79,566.95 356.79,566.06 357.30,566.06 357.30,568.90" fill="#1414f0"/>
<polygon points="354.80,568.90 354.80,567.98 355.33,567.98 355.33,566.22 355.87,566.22 355.87,565.70 356.40,565.70 356.40,563.83 356.93,563.83 356.93,562.90 357.47,562.90 357.47,563.91 358.00,563.91 358.00,566.27 358.53,566.27 358.53,567.34 359.07,567.34 359.07,567.92 359.60,567.92 359.60,568.90" fill="#1414f0"/>
<polygon points="469.60,568.90 469.60,566.68 470.11,566.68 470.11,566.76 470.63,566.76 470.63,565.09 471.14,565.09 471.14,564.90 471.66,564.90 471.66,565.13 472.17,565.13 472.17,567.37 472.69,567.37 472.69,567.50 473.20,567.50 473.20,568.90" fill="#1414f0"/>
<rect x="494.5" y="567.9" width="1.4" height="1.0" fill="#1414f0"/>
<polygon points="503.40,568.90 503.40,567.61 503.94,567.61 503.94,567.26 504.48,567.26 504.48,566.74 505.02,566.74 505.02,565.45 505.55,565.45 505.55,564.79 506.09,564.79 506.09,561.10 506.63,561.10 506.63,560.90 507.17,560.90 507.17,561.78 507.71,561.78 507.71,564.65 508.25,564.65 508.25,566.19 508.78,566.19 508.78,566.83 509.32,566.83 509.32,567.28 509.86,567.28 509.86,567.78 510.40,567.78 510.40,568.90" fill="#1414f0"/>
<rect x="541.3" y="567.9" width="1.4" height="1.0" fill="#1414f0"/>
<polygon points="580.20,568.90 580.20,567.26 580.71,567.26 580.71,567.48 581.23,567.48 581.23,566.39 581.74,566.39 581.74,565.90 582.26,565.90 582.26,566.15 582.77,566.15 582.77,567.78 583.29,567.78 583.29,567.61 583.80,567.61 583.80,568.90" fill="#1414f0"/>
<polygon points="583.60,568.90 583.60,567.31 584.13,567.31 584.13,563.59 584.67,563.59 584.67,564.79 585.20,564.79 585.20,561.68 585.73,561.68 585.73,559.90 586.27,559.90 586.27,560.80 586.80,560.80 586.80,564.01 587.33,564.01 587.33,566.67 587.87,566.67 587.87,567.23 588.40,567.23 588.40,568.90" fill="#1414f0"/>
<polygon points="587.60,568.90 587.60,567.64 588.13,567.64 588.13,564.73 588.67,564.73 588.67,565.38 589.20,565.38 589.20,561.94 589.73,561.94 589.73,560.90 590.27,560.90 590.27,561.66 590.80,561.66 590.80,565.35 591.33,565.35 591.33,567.02 591.87,567.02 591.87,567.62 592.40,567.62 592.40,568.90" fill="#1414f0"/>
<polygon points="592.20,568.90 592.20,566.62 592.71,566.62 592.71,567.01 593.23,567.01 593.23,565.20 593.74,565.20 593.74,564.90 594.26,564.90 594.26,565.28 594.77,565.28 594.77,567.33 595.29,567.33 595.29,566.52 595.80,566.52 595.80,568.90" fill="#1414f0"/>
<polygon points="598.60,568.90 598.60,567.67 599.13,567.67 599.13,566.26 599.67,566.26 599.67,565.24 600.20,565.24 600.20,561.91 600.73,561.91 600.73,561.90 601.27,561.90 601.27,563.08 601.80,563.08 601.80,565.55 602.33,565.55 602.33,567.19 602.87,567.19 602.87,567.93 603.40,567.93 603.40,568.90" fill="#1414f0"/>
<polygon points="601.10,568.90 601.10,567.80 601.63,567.80 601.63,564.89 602.17,564.89 602.17,564.11 602.70,564.11 602.70,562.43 603.23,562.43 603.23,560.90 603.77,560.90 603.77,562.01 604.30,562.01 604.30,565.64 604.83,565.64 604.83,567.09 605.37,567.09 605.37,567.49 605.90,567.49 605.90,568.90" fill="#1414f0"/>
<polygon points="611.60,568.90 611.60,566.83 612.11,566.83 612.11,567.00 612.63,567.00 612.63,565.49 613.14,565.49 613.14,564.90 613.66,564.90 613.66,564.90 614.17,564.90 614.17,567.09 614.69,567.09 614.69,567.34 615.20,567.34 615.20,568.90" fill="#1414f0"/>
<polygon points="630.20,568.90 630.20,567.39 630.71,567.39 630.71,567.33 631.23,567.33 631.23,565.04 631.74,565.04 631.74,564.90 632.26,564.90 632.26,565.65 632.77,565.65 632.77,566.73 633.29,566.73 633.29,566.78 633.80,566.78 633.80,568.90" fill="#1414f0"/>
<polygon points="633.00,568.90 633.00,567.64 633.53,567.64 633.53,567.09 634.07,567.09 634.07,565.71 634.60,565.71 634.60,561.11 635.13,561.11 635.13,560.40 635.67,560.40 635.67,561.44 636.20,561.44 636.20,564.03 636.73,564.03 636.73,566.76 637.27,566.76 637.27,567.34 637.80,567.34 637.80,568.90" fill="#1414f0"/>
<polygon points="635.20,568.90 635.20,566.37 635.71,566.37 635.71,567.10 636.23,567.10 636.23,564.05 636.74,564.05 636.74,563.90 637.26,563.90 637.26,564.08 637.77,564.08 637.77,566.40 638.29,566.40 638.29,566.53 638.80,566.53 638.80,568.90" fill="#1414f0"/>
<polygon points="642.10,568.90 642.10,567.20 642.70,567.20 642.70,566.90 643.30,566.90 643.30,566.90 643.90,566.90 643.90,567.18 644.50,567.18 644.50,568.90" fill="#1414f0"/>
<polygon points="648.70,568.90 648.70,567.02 649.21,567.02 649.21,567.26 649.73,567.26 649.73,565.41 650.24,565.41 650.24,564.90 650.76,564.90 650.76,565.47 651.27,565.47 651.27,567.39 651.79,567.39 651.79,567.11 652.30,567.11 652.30,568.90" fill="#1414f0"/>
<rect x="683.3" y="567.9" width="1.4" height="1.0" fill="#1414f0"/>
<text x="38.5" y="594.2" font-size="6.2" text-anchor="start" font-weight="normal" font-style="normal" fill="#111" >HK1 EBV+</text>
<text x="70.4" y="586.0" font-size="6.2" text-anchor="end" font-weight="normal" font-style="normal" fill="#111" >11</text>
<text x="70.4" y="602.6" font-size="6.2" text-anchor="end" font-weight="normal" font-style="normal" fill="#111" >-11</text>
<polyline points="72.2,582.5 74.8,582.5 74.8,602.3 72.2,602.3" fill="none" stroke="#666" stroke-width="0.9"/>
<line x1="75.5" y1="592.4" x2="722" y2="592.4" stroke="#f39a2e" stroke-opacity="0.8" stroke-width="1" stroke-dasharray="2.2 0.8"/>
<rect x="107.9" y="590.9" width="1.4" height="1.5" fill="#1414f0"/>
<rect x="132.3" y="591.4" width="1.4" height="1.0" fill="#1414f0"/>
<rect x="151.2" y="590.9" width="1.4" height="1.5" fill="#1414f0"/>
<polygon points="207.00,592.40 207.00,591.86 207.55,591.86 207.55,591.07 208.10,591.07 208.10,589.35 208.65,589.35 208.65,588.90 209.20,588.90 209.20,588.90 209.75,588.90 209.75,589.43 210.30,589.43 210.30,590.59 210.85,590.59 210.85,591.87 211.40,591.87 211.40,592.40" fill="#1414f0"/>
<rect x="224.8" y="590.9" width="1.4" height="1.5" fill="#1414f0"/>
<polygon points="228.90,592.40 228.90,589.77 229.41,589.77 229.41,590.31 229.93,590.31 229.93,588.27 230.44,588.27 230.44,587.40 230.96,587.40 230.96,587.60 231.47,587.60 231.47,590.21 231.99,590.21 231.99,590.18 232.50,590.18 232.50,592.40" fill="#1414f0"/>
<polygon points="230.70,592.40 230.70,590.79 231.21,590.79 231.21,590.50 231.73,590.50 231.73,588.84 232.24,588.84 232.24,588.40 232.76,588.40 232.76,588.99 233.27,588.99 233.27,590.41 233.79,590.41 233.79,590.75 234.30,590.75 234.30,592.40" fill="#1414f0"/>
<polygon points="314.00,592.40 314.00,590.99 314.51,590.99 314.51,591.07 315.03,591.07 315.03,589.22 315.54,589.22 315.54,588.90 316.06,588.90 316.06,589.33 316.57,589.33 316.57,590.68 317.09,590.68 317.09,590.83 317.60,590.83 317.60,592.40" fill="#1414f0"/>
<polygon points="324.60,592.40 324.60,591.41 325.11,591.41 325.11,591.32 325.63,591.32 325.63,590.35 326.14,590.35 326.14,589.90 326.66,589.90 326.66,590.15 327.17,590.15 327.17,591.48 327.69,591.48 327.69,591.38 328.20,591.38 328.20,592.40" fill="#1414f0"/>
<polygon points="337.00,592.40 337.00,591.53 337.53,591.53 337.53,589.67 338.07,589.67 338.07,588.65 338.60,588.65 338.60,586.05 339.13,586.05 339.13,585.90 339.67,585.90 339.67,586.84 340.20,586.84 340.20,589.02 340.73,589.02 340.73,590.72 341.27,590.72 341.27,591.44 341.80,591.44 341.80,592.40" fill="#1414f0"/>
<polygon points="353.30,592.40 353.30,590.86 353.81,590.86 353.81,591.16 354.33,591.16 354.33,589.79 354.84,589.79 354.84,589.40 355.36,589.40 355.36,589.93 355.87,589.93 355.87,590.80 356.39,590.80 356.39,591.32 356.90,591.32 356.90,592.40" fill="#1414f0"/>
<polygon points="354.10,592.40 354.10,591.63 354.63,591.63 354.63,590.00 355.17,590.00 355.17,589.73 355.70,589.73 355.70,587.23 356.23,587.23 356.23,586.40 356.77,586.40 356.77,586.59 357.30,586.59 357.30,589.23 357.83,589.23 357.83,591.07 358.37,591.07 358.37,591.49 358.90,591.49 358.90,592.40" fill="#1414f0"/>
<polygon points="396.60,592.40 396.60,591.31 397.11,591.31 397.11,591.00 397.63,591.00 397.63,590.26 398.14,590.26 398.14,589.90 398.66,589.90 398.66,590.10 399.17,590.10 399.17,591.37 399.69,591.37 399.69,591.03 400.20,591.03 400.20,592.40" fill="#1414f0"/>
<polygon points="413.90,592.40 413.90,590.95 414.41,590.95 414.41,591.47 414.93,591.47 414.93,590.20 415.44,590.20 415.44,589.90 415.96,589.90 415.96,590.26 416.47,590.26 416.47,590.93 416.99,590.93 416.99,590.94 417.50,590.94 417.50,592.40" fill="#1414f0"/>
<rect x="437.3" y="590.9" width="1.4" height="1.5" fill="#1414f0"/>
<rect x="448.9" y="590.9" width="1.4" height="1.5" fill="#1414f0"/>
<polygon points="494.00,592.40 494.00,590.50 494.60,590.50 494.60,590.40 495.20,590.40 495.20,590.40 495.80,590.40 495.80,590.78 496.40,590.78 496.40,592.40" fill="#1414f0"/>
<polygon points="502.20,592.40 502.20,591.03 502.71,591.03 502.71,590.65 503.23,590.65 503.23,589.54 503.74,589.54 503.74,589.40 504.26,589.40 504.26,589.52 504.77,589.52 504.77,590.94 505.29,590.94 505.29,590.87 505.80,590.87 505.80,592.40" fill="#1414f0"/>
<polygon points="503.60,592.40 503.60,590.97 504.13,590.97 504.13,589.12 504.67,589.12 504.67,588.32 505.20,588.32 505.20,584.64 505.73,584.64 505.73,583.40 506.27,583.40 506.27,583.99 506.80,583.99 506.80,588.71 507.33,588.71 507.33,590.19 507.87,590.19 507.87,591.02 508.40,591.02 508.40,592.40" fill="#1414f0"/>
<polygon points="506.10,592.40 506.10,591.13 506.63,591.13 506.63,589.43 507.17,589.43 507.17,589.35 507.70,589.35 507.70,586.33 508.23,586.33 508.23,585.40 508.77,585.40 508.77,585.74 509.30,585.74 509.30,588.78 509.83,588.78 509.83,590.63 510.37,590.63 510.37,591.32 510.90,591.32 510.90,592.40" fill="#1414f0"/>
<polygon points="508.20,592.40 508.20,589.61 508.71,589.61 508.71,590.29 509.23,590.29 509.23,588.19 509.74,588.19 509.74,587.40 510.26,587.40 510.26,588.20 510.77,588.20 510.77,590.09 511.29,590.09 511.29,590.24 511.80,590.24 511.80,592.40" fill="#1414f0"/>
<rect x="555.3" y="591.4" width="1.4" height="1.0" fill="#1414f0"/>
<polygon points="576.30,592.40 576.30,591.32 576.83,591.32 576.83,589.66 577.37,589.66 577.37,589.93 577.90,589.93 577.90,585.75 578.43,585.75 578.43,585.40 578.97,585.40 578.97,585.43 579.50,585.43 579.50,589.67 580.03,589.67 580.03,590.70 580.57,590.70 580.57,591.33 581.10,591.33 581.10,592.40" fill="#1414f0"/>
<rect x="592.3" y="590.9" width="1.4" height="1.5" fill="#1414f0"/>
<polygon points="607.20,592.40 607.20,590.46 607.71,590.46 607.71,590.08 608.23,590.08 608.23,588.70 608.74,588.70 608.74,588.40 609.26,588.40 609.26,589.00 609.77,589.00 609.77,590.86 610.29,590.86 610.29,590.23 610.80,590.23 610.80,592.40" fill="#1414f0"/>
<polygon points="609.20,592.40 609.20,591.13 609.71,591.13 609.71,590.87 610.23,590.87 610.23,589.44 610.74,589.44 610.74,589.40 611.26,589.40 611.26,589.50 611.77,589.50 611.77,591.10 612.29,591.10 612.29,590.73 612.80,590.73 612.80,592.40" fill="#1414f0"/>
<polygon points="612.80,592.40 612.80,590.65 613.40,590.65 613.40,590.40 614.00,590.40 614.00,590.40 614.60,590.40 614.60,590.70 615.20,590.70 615.20,592.40" fill="#1414f0"/>
<text x="38.5" y="618.7" font-size="6.2" text-anchor="start" font-weight="normal" font-style="normal" fill="#111" >HK1</text>
<text x="70.4" y="610.5" font-size="6.2" text-anchor="end" font-weight="normal" font-style="normal" fill="#111" >11</text>
<text x="70.4" y="626.8" font-size="6.2" text-anchor="end" font-weight="normal" font-style="normal" fill="#111" >-11</text>
<polyline points="72.2,607.0 74.8,607.0 74.8,626.5 72.2,626.5" fill="none" stroke="#666" stroke-width="0.9"/>
<line x1="75.5" y1="617.2" x2="722" y2="617.2" stroke="#f39a2e" stroke-opacity="0.8" stroke-width="1" stroke-dasharray="2.2 0.8"/>
<polygon points="223.80,617.20 223.80,615.37 224.40,615.37 224.40,615.20 225.00,615.20 225.00,615.20 225.60,615.20 225.60,615.24 226.20,615.24 226.20,617.20" fill="#1414f0"/>
<polygon points="229.20,617.20 229.20,614.83 229.71,614.83 229.71,615.25 230.23,615.25 230.23,612.62 230.74,612.62 230.74,612.20 231.26,612.20 231.26,613.04 231.77,613.04 231.77,614.24 232.29,614.24 232.29,615.40 232.80,615.40 232.80,617.20" fill="#1414f0"/>
<polygon points="231.70,617.20 231.70,615.61 232.21,615.61 232.21,615.80 232.73,615.80 232.73,613.32 233.24,613.32 233.24,613.20 233.76,613.20 233.76,613.77 234.27,613.77 234.27,615.29 234.79,615.29 234.79,615.46 235.30,615.46 235.30,617.20" fill="#1414f0"/>
<polygon points="234.20,617.20 234.20,615.91 234.71,615.91 234.71,615.76 235.23,615.76 235.23,615.05 235.74,615.05 235.74,614.70 236.26,614.70 236.26,615.03 236.77,615.03 236.77,616.27 237.29,616.27 237.29,616.04 237.80,616.04 237.80,617.20" fill="#1414f0"/>
<rect x="237.3" y="615.7" width="1.4" height="1.5" fill="#1414f0"/>
<polygon points="324.70,617.20 324.70,615.24 325.30,615.24 325.30,615.20 325.90,615.20 325.90,615.20 326.50,615.20 326.50,615.35 327.10,615.35 327.10,617.20" fill="#1414f0"/>
<polygon points="337.50,617.20 337.50,615.98 338.03,615.98 338.03,613.57 338.57,613.57 338.57,614.23 339.10,614.23 339.10,610.27 339.63,610.27 339.63,610.20 340.17,610.20 340.17,611.18 340.70,611.18 340.70,613.20 341.23,613.20 341.23,615.80 341.77,615.80 341.77,616.23 342.30,616.23 342.30,617.20" fill="#1414f0"/>
<polygon points="349.80,617.20 349.80,615.42 350.40,615.42 350.40,615.20 351.00,615.20 351.00,615.20 351.60,615.20 351.60,615.37 352.20,615.37 352.20,617.20" fill="#1414f0"/>
<polygon points="352.20,617.20 352.20,615.75 352.71,615.75 352.71,615.85 353.23,615.85 353.23,614.69 353.74,614.69 353.74,614.20 354.26,614.20 354.26,614.73 354.77,614.73 354.77,615.96 355.29,615.96 355.29,615.75 355.80,615.75 355.80,617.20" fill="#1414f0"/>
<polygon points="355.20,617.20 355.20,616.02 355.71,616.02 355.71,616.18 356.23,616.18 356.23,615.14 356.74,615.14 356.74,614.70 357.26,614.70 357.26,615.16 357.77,615.16 357.77,616.28 358.29,616.28 358.29,615.79 358.80,615.79 358.80,617.20" fill="#1414f0"/>
<rect x="470.0" y="615.7" width="1.4" height="1.5" fill="#1414f0"/>
<polygon points="490.80,617.20 490.80,615.31 491.40,615.31 491.40,615.20 492.00,615.20 492.00,615.20 492.60,615.20 492.60,615.31 493.20,615.31 493.20,617.20" fill="#1414f0"/>
<polygon points="493.80,617.20 493.80,615.27 494.40,615.27 494.40,615.20 495.00,615.20 495.00,615.20 495.60,615.20 495.60,615.37 496.20,615.37 496.20,617.20" fill="#1414f0"/>
<polygon points="501.20,617.20 501.20,615.66 501.71,615.66 501.71,615.74 502.23,615.74 502.23,613.70 502.74,613.70 502.74,613.20 503.26,613.20 503.26,613.83 503.77,613.83 503.77,615.09 504.29,615.09 504.29,614.91 504.80,614.91 504.80,617.20" fill="#1414f0"/>
<polygon points="502.60,617.20 502.60,616.06 503.13,616.06 503.13,613.76 503.67,613.76 503.67,613.23 504.20,613.23 504.20,610.56 504.73,610.56 504.73,610.20 505.27,610.20 505.27,610.65 505.80,610.65 505.80,614.21 506.33,614.21 506.33,615.58 506.87,615.58 506.87,616.01 507.40,616.01 507.40,617.20" fill="#1414f0"/>
<polygon points="504.60,617.20 504.60,615.55 505.13,615.55 505.13,613.95 505.67,613.95 505.67,613.64 506.20,613.64 506.20,608.55 506.73,608.55 506.73,608.20 507.27,608.20 507.27,608.78 507.80,608.78 507.80,613.62 508.33,613.62 508.33,615.05 508.87,615.05 508.87,615.61 509.40,615.61 509.40,617.20" fill="#1414f0"/>
<polygon points="506.60,617.20 506.60,616.07 507.13,616.07 507.13,614.71 507.67,614.71 507.67,613.35 508.20,613.35 508.20,610.82 508.73,610.82 508.73,610.20 509.27,610.20 509.27,611.07 509.80,611.07 509.80,613.22 510.33,613.22 510.33,615.47 510.87,615.47 510.87,616.03 511.40,616.03 511.40,617.20" fill="#1414f0"/>
<polygon points="509.20,617.20 509.20,615.44 509.71,615.44 509.71,615.89 510.23,615.89 510.23,614.50 510.74,614.50 510.74,614.20 511.26,614.20 511.26,614.78 511.77,614.78 511.77,615.54 512.29,615.54 512.29,615.86 512.80,615.86 512.80,617.20" fill="#1414f0"/>
<polygon points="591.20,617.20 591.20,615.84 591.71,615.84 591.71,615.63 592.23,615.63 592.23,613.97 592.74,613.97 592.74,613.70 593.26,613.70 593.26,614.25 593.77,614.25 593.77,615.46 594.29,615.46 594.29,615.83 594.80,615.83 594.80,617.20" fill="#1414f0"/>
<polygon points="606.80,617.20 606.80,615.41 607.40,615.41 607.40,615.20 608.00,615.20 608.00,615.20 608.60,615.20 608.60,615.60 609.20,615.60 609.20,617.20" fill="#1414f0"/>
<polygon points="609.20,617.20 609.20,615.25 609.71,615.25 609.71,615.11 610.23,615.11 610.23,613.56 610.74,613.56 610.74,612.70 611.26,612.70 611.26,613.35 611.77,613.35 611.77,615.06 612.29,615.06 612.29,614.98 612.80,614.98 612.80,617.20" fill="#1414f0"/>
<polygon points="611.20,617.20 611.20,615.43 611.71,615.43 611.71,616.12 612.23,616.12 612.23,614.34 612.74,614.34 612.74,614.20 613.26,614.20 613.26,614.42 613.77,614.42 613.77,615.88 614.29,615.88 614.29,615.55 614.80,615.55 614.80,617.20" fill="#1414f0"/>
<polygon points="682.20,617.20 682.20,615.45 682.71,615.45 682.71,615.92 683.23,615.92 683.23,614.36 683.74,614.36 683.74,614.20 684.26,614.20 684.26,614.59 684.77,614.59 684.77,615.85 685.29,615.85 685.29,615.90 685.80,615.90 685.80,617.20" fill="#1414f0"/>
<text x="38.5" y="638.4" font-size="6.2" text-anchor="start" font-weight="normal" font-style="normal" fill="#111" >NP69</text>
<text x="70.4" y="632.7" font-size="6.2" text-anchor="end" font-weight="normal" font-style="normal" fill="#111" >17</text>
<text x="70.4" y="647.3" font-size="6.2" text-anchor="end" font-weight="normal" font-style="normal" fill="#111" >-17</text>
<polyline points="72.2,629.2 74.8,629.2 74.8,647.0 72.2,647.0" fill="none" stroke="#666" stroke-width="0.9"/>
<line x1="75.5" y1="638.3" x2="722" y2="638.3" stroke="#f39a2e" stroke-opacity="0.8" stroke-width="1" stroke-dasharray="2.2 0.8"/>
<rect x="84.5" y="636.8" width="1.4" height="1.5" fill="#1414f0"/>
<rect x="106.7" y="636.8" width="1.4" height="1.5" fill="#1414f0"/>
<rect x="117.3" y="636.8" width="1.4" height="1.5" fill="#1414f0"/>
<polygon points="228.30,638.30 228.30,637.42 228.83,637.42 228.83,636.57 229.37,636.57 229.37,635.65 229.90,635.65 229.90,633.22 230.43,633.22 230.43,632.30 230.97,632.30 230.97,633.49 231.50,633.49 231.50,635.52 232.03,635.52 232.03,635.35 232.57,635.35 232.57,637.43 233.10,637.43 233.10,638.30" fill="#1414f0"/>
<polygon points="231.20,638.30 231.20,636.83 231.71,636.83 231.71,636.59 232.23,636.59 232.23,634.66 232.74,634.66 232.74,634.30 233.26,634.30 233.26,634.36 233.77,634.36 233.77,636.82 234.29,636.82 234.29,636.32 234.80,636.32 234.80,638.30" fill="#1414f0"/>
<polygon points="315.30,638.30 315.30,636.56 315.90,636.56 315.90,636.30 316.50,636.30 316.50,636.30 317.10,636.30 317.10,636.67 317.70,636.67 317.70,638.30" fill="#1414f0"/>
<polygon points="323.60,638.30 323.60,636.29 324.11,636.29 324.11,636.85 324.63,636.85 324.63,635.38 325.14,635.38 325.14,634.80 325.66,634.80 325.66,635.35 326.17,635.35 326.17,636.90 326.69,636.90 326.69,636.32 327.20,636.32 327.20,638.30" fill="#1414f0"/>
<polygon points="337.20,638.30 337.20,636.50 337.71,636.50 337.71,635.64 338.23,635.64 338.23,634.63 338.74,634.63 338.74,633.80 339.26,633.80 339.26,634.39 339.77,634.39 339.77,636.51 340.29,636.51 340.29,635.74 340.80,635.74 340.80,638.30" fill="#1414f0"/>
<polygon points="338.60,638.30 338.60,635.98 339.11,635.98 339.11,636.57 339.63,636.57 339.63,634.58 340.14,634.58 340.14,634.30 340.66,634.30 340.66,634.83 341.17,634.83 341.17,636.49 341.69,636.49 341.69,636.27 342.20,636.27 342.20,638.30" fill="#1414f0"/>
<polygon points="353.80,638.30 353.80,636.88 354.31,636.88 354.31,637.06 354.83,637.06 354.83,635.89 355.34,635.89 355.34,635.30 355.86,635.30 355.86,635.31 356.37,635.31 356.37,636.79 356.89,636.79 356.89,637.00 357.40,637.00 357.40,638.30" fill="#1414f0"/>
<polygon points="369.10,638.30 369.10,636.64 369.70,636.64 369.70,636.30 370.30,636.30 370.30,636.30 370.90,636.30 370.90,636.37 371.50,636.37 371.50,638.30" fill="#1414f0"/>
<polygon points="396.60,638.30 396.60,636.36 397.11,636.36 397.11,636.35 397.63,636.35 397.63,634.62 398.14,634.62 398.14,634.30 398.66,634.30 398.66,634.89 399.17,634.89 399.17,636.14 399.69,636.14 399.69,636.59 400.20,636.59 400.20,638.30" fill="#1414f0"/>
<rect x="437.3" y="636.8" width="1.4" height="1.5" fill="#1414f0"/>
<rect x="441.8" y="636.8" width="1.4" height="1.5" fill="#1414f0"/>
<rect x="448.9" y="636.8" width="1.4" height="1.5" fill="#1414f0"/>
<rect x="473.5" y="636.8" width="1.4" height="1.5" fill="#1414f0"/>
<polygon points="492.20,638.30 492.20,636.52 492.71,636.52 492.71,637.04 493.23,637.04 493.23,635.34 493.74,635.34 493.74,635.30 494.26,635.30 494.26,635.61 494.77,635.61 494.77,636.67 495.29,636.67 495.29,636.51 495.80,636.51 495.80,638.30" fill="#1414f0"/>
<polygon points="494.20,638.30 494.20,636.68 494.71,636.68 494.71,637.23 495.23,637.23 495.23,635.86 495.74,635.86 495.74,635.30 496.26,635.30 496.26,635.79 496.77,635.79 496.77,636.98 497.29,636.98 497.29,637.12 497.80,637.12 497.80,638.30" fill="#1414f0"/>
<polygon points="502.20,638.30 502.20,636.56 502.71,636.56 502.71,637.23 503.23,637.23 503.23,635.75 503.74,635.75 503.74,635.30 504.26,635.30 504.26,635.52 504.77,635.52 504.77,636.65 505.29,636.65 505.29,637.01 505.80,637.01 505.80,638.30" fill="#1414f0"/>
<polygon points="504.20,638.30 504.20,636.86 504.73,636.86 504.73,634.03 505.27,634.03 505.27,634.21 505.80,634.21 505.80,630.52 506.33,630.52 506.33,630.30 506.87,630.30 506.87,631.24 507.40,631.24 507.40,633.61 507.93,633.61 507.93,636.26 508.47,636.26 508.47,637.18 509.00,637.18 509.00,638.30" fill="#1414f0"/>
<polygon points="507.20,638.30 507.20,636.64 507.71,636.64 507.71,636.67 508.23,636.67 508.23,634.49 508.74,634.49 508.74,634.30 509.26,634.30 509.26,634.30 509.77,634.30 509.77,636.33 510.29,636.33 510.29,636.04 510.80,636.04 510.80,638.30" fill="#1414f0"/>
<polygon points="574.20,638.30 574.20,636.63 574.71,636.63 574.71,636.08 575.23,636.08 575.23,634.83 575.74,634.83 575.74,634.30 576.26,634.30 576.26,634.97 576.77,634.97 576.77,636.30 577.29,636.30 577.29,636.32 577.80,636.32 577.80,638.30" fill="#1414f0"/>
<polygon points="575.60,638.30 575.60,637.23 576.13,637.23 576.13,634.87 576.67,634.87 576.67,635.03 577.20,635.03 577.20,633.28 577.73,633.28 577.73,632.30 578.27,632.30 578.27,633.14 578.80,633.14 578.80,636.03 579.33,636.03 579.33,636.57 579.87,636.57 579.87,637.54 580.40,637.54 580.40,638.30" fill="#1414f0"/>
<polygon points="606.70,638.30 606.70,636.75 607.21,636.75 607.21,636.80 607.73,636.80 607.73,634.55 608.24,634.55 608.24,634.30 608.76,634.30 608.76,634.37 609.27,634.37 609.27,636.02 609.79,636.02 609.79,636.87 610.30,636.87 610.30,638.30" fill="#1414f0"/>
<polygon points="609.70,638.30 609.70,636.11 610.21,636.11 610.21,636.86 610.73,636.86 610.73,634.91 611.24,634.91 611.24,634.30 611.76,634.30 611.76,635.08 612.27,635.08 612.27,636.58 612.79,636.58 612.79,636.78 613.30,636.78 613.30,638.30" fill="#1414f0"/>
<polygon points="612.20,638.30 612.20,636.76 612.71,636.76 612.71,636.72 613.23,636.72 613.23,634.98 613.74,634.98 613.74,634.30 614.26,634.30 614.26,635.01 614.77,635.01 614.77,636.40 615.29,636.40 615.29,636.55 615.80,636.55 615.80,638.30" fill="#1414f0"/>
<polygon points="682.20,638.30 682.20,636.52 682.71,636.52 682.71,636.70 683.23,636.70 683.23,635.79 683.74,635.79 683.74,635.30 684.26,635.30 684.26,635.87 684.77,635.87 684.77,636.94 685.29,636.94 685.29,636.98 685.80,636.98 685.80,638.30" fill="#1414f0"/>
<rect x="77.0" y="569.3" width="2.3" height="0.3" fill="#f08c1e" fill-opacity="0.55"/>
<rect x="83.3" y="569.3" width="2.0" height="0.8" fill="#f08c1e" fill-opacity="0.55"/>
<rect x="89.7" y="569.3" width="2.7" height="1.2" fill="#f08c1e" fill-opacity="0.55"/>
<rect x="96.3" y="569.3" width="1.5" height="0.7" fill="#f08c1e" fill-opacity="0.55"/>
<rect x="101.4" y="569.3" width="1.7" height="1.2" fill="#f08c1e" fill-opacity="0.55"/>
<rect x="106.3" y="569.3" width="1.1" height="0.7" fill="#f08c1e" fill-opacity="0.55"/>
<rect x="114.3" y="569.3" width="2.1" height="0.3" fill="#f08c1e" fill-opacity="0.55"/>
<rect x="122.0" y="569.3" width="2.1" height="0.5" fill="#f08c1e" fill-opacity="0.55"/>
<rect x="126.8" y="569.3" width="1.2" height="0.5" fill="#f08c1e" fill-opacity="0.55"/>
<rect x="130.4" y="569.3" width="2.5" height="1.1" fill="#f08c1e" fill-opacity="0.55"/>
<rect x="138.0" y="569.3" width="2.3" height="0.3" fill="#f08c1e" fill-opacity="0.55"/>
<rect x="142.6" y="569.3" width="2.0" height="0.9" fill="#f08c1e" fill-opacity="0.55"/>
<rect x="147.2" y="569.3" width="0.8" height="1.2" fill="#f08c1e" fill-opacity="0.55"/>
<rect x="153.9" y="569.3" width="1.9" height="1.1" fill="#f08c1e" fill-opacity="0.55"/>
<rect x="159.9" y="569.3" width="1.3" height="1.2" fill="#f08c1e" fill-opacity="0.55"/>
<rect x="166.0" y="569.3" width="1.6" height="1.0" fill="#f08c1e" fill-opacity="0.55"/>
<rect x="172.6" y="569.3" width="2.0" height="0.7" fill="#f08c1e" fill-opacity="0.55"/>
<rect x="178.6" y="569.3" width="1.5" height="0.9" fill="#f08c1e" fill-opacity="0.55"/>
<rect x="184.8" y="569.3" width="1.3" height="0.8" fill="#f08c1e" fill-opacity="0.55"/>
<rect x="190.8" y="569.3" width="2.8" height="0.5" fill="#f08c1e" fill-opacity="0.55"/>
<rect x="196.2" y="569.3" width="1.9" height="0.9" fill="#f08c1e" fill-opacity="0.55"/>
<rect x="201.6" y="569.3" width="1.1" height="0.5" fill="#f08c1e" fill-opacity="0.55"/>
<rect x="209.2" y="569.3" width="2.0" height="0.8" fill="#f08c1e" fill-opacity="0.55"/>
<rect x="214.9" y="569.3" width="1.3" height="1.0" fill="#f08c1e" fill-opacity="0.55"/>
<rect x="218.7" y="569.3" width="1.8" height="1.0" fill="#f08c1e" fill-opacity="0.55"/>
<rect x="224.9" y="569.3" width="2.8" height="1.0" fill="#f08c1e" fill-opacity="0.55"/>
<rect x="232.3" y="569.3" width="1.6" height="0.3" fill="#f08c1e" fill-opacity="0.55"/>
<rect x="239.4" y="569.3" width="1.1" height="1.0" fill="#f08c1e" fill-opacity="0.55"/>
<rect x="243.2" y="569.3" width="1.0" height="0.5" fill="#f08c1e" fill-opacity="0.55"/>
<rect x="248.0" y="569.3" width="1.9" height="1.0" fill="#f08c1e" fill-opacity="0.55"/>
<rect x="253.2" y="569.3" width="1.7" height="0.4" fill="#f08c1e" fill-opacity="0.55"/>
<rect x="261.2" y="569.3" width="1.8" height="0.9" fill="#f08c1e" fill-opacity="0.55"/>
<rect x="266.6" y="569.3" width="2.5" height="1.0" fill="#f08c1e" fill-opacity="0.55"/>
<rect x="270.4" y="569.3" width="1.6" height="0.9" fill="#f08c1e" fill-opacity="0.55"/>
<rect x="276.0" y="569.3" width="1.6" height="0.5" fill="#f08c1e" fill-opacity="0.55"/>
<rect x="280.7" y="569.3" width="0.8" height="0.6" fill="#f08c1e" fill-opacity="0.55"/>
<rect x="284.7" y="569.3" width="0.9" height="0.8" fill="#f08c1e" fill-opacity="0.55"/>
<rect x="288.6" y="569.3" width="1.4" height="0.9" fill="#f08c1e" fill-opacity="0.55"/>
<rect x="293.2" y="569.3" width="2.6" height="0.5" fill="#f08c1e" fill-opacity="0.55"/>
<rect x="296.6" y="569.3" width="2.7" height="0.9" fill="#f08c1e" fill-opacity="0.55"/>
<rect x="300.6" y="569.3" width="2.5" height="0.7" fill="#f08c1e" fill-opacity="0.55"/>
<rect x="306.7" y="569.3" width="0.9" height="0.6" fill="#f08c1e" fill-opacity="0.55"/>
<rect x="311.9" y="569.3" width="2.4" height="0.6" fill="#f08c1e" fill-opacity="0.55"/>
<rect x="316.4" y="569.3" width="2.2" height="0.7" fill="#f08c1e" fill-opacity="0.55"/>
<rect x="323.5" y="569.3" width="1.6" height="0.6" fill="#f08c1e" fill-opacity="0.55"/>
<rect x="329.4" y="569.3" width="1.2" height="1.1" fill="#f08c1e" fill-opacity="0.55"/>
<rect x="337.2" y="569.3" width="1.6" height="0.9" fill="#f08c1e" fill-opacity="0.55"/>
<rect x="343.6" y="569.3" width="1.0" height="0.6" fill="#f08c1e" fill-opacity="0.55"/>
<rect x="350.3" y="569.3" width="2.0" height="0.6" fill="#f08c1e" fill-opacity="0.55"/>
<rect x="355.8" y="569.3" width="2.5" height="1.1" fill="#f08c1e" fill-opacity="0.55"/>
<rect x="358.9" y="569.3" width="1.8" height="0.8" fill="#f08c1e" fill-opacity="0.55"/>
<rect x="364.3" y="569.3" width="1.7" height="1.1" fill="#f08c1e" fill-opacity="0.55"/>
<rect x="369.6" y="569.3" width="1.8" height="1.1" fill="#f08c1e" fill-opacity="0.55"/>
<rect x="375.1" y="569.3" width="2.6" height="0.8" fill="#f08c1e" fill-opacity="0.55"/>
<rect x="381.4" y="569.3" width="1.7" height="1.0" fill="#f08c1e" fill-opacity="0.55"/>
<rect x="384.6" y="569.3" width="2.0" height="0.9" fill="#f08c1e" fill-opacity="0.55"/>
<rect x="391.5" y="569.3" width="1.1" height="1.0" fill="#f08c1e" fill-opacity="0.55"/>
<rect x="395.6" y="569.3" width="2.6" height="0.4" fill="#f08c1e" fill-opacity="0.55"/>
<rect x="399.1" y="569.3" width="2.5" height="0.4" fill="#f08c1e" fill-opacity="0.55"/>
<rect x="404.9" y="569.3" width="2.3" height="0.3" fill="#f08c1e" fill-opacity="0.55"/>
<rect x="411.5" y="569.3" width="0.9" height="0.7" fill="#f08c1e" fill-opacity="0.55"/>
<rect x="417.9" y="569.3" width="2.1" height="0.7" fill="#f08c1e" fill-opacity="0.55"/>
<rect x="425.9" y="569.3" width="2.7" height="1.0" fill="#f08c1e" fill-opacity="0.55"/>
<rect x="429.6" y="569.3" width="1.9" height="0.6" fill="#f08c1e" fill-opacity="0.55"/>
<rect x="432.7" y="569.3" width="1.4" height="1.2" fill="#f08c1e" fill-opacity="0.55"/>
<rect x="437.0" y="569.3" width="1.4" height="0.6" fill="#f08c1e" fill-opacity="0.55"/>
<rect x="444.3" y="569.3" width="1.9" height="0.8" fill="#f08c1e" fill-opacity="0.55"/>
<rect x="449.4" y="569.3" width="1.5" height="0.3" fill="#f08c1e" fill-opacity="0.55"/>
<rect x="456.7" y="569.3" width="2.7" height="1.0" fill="#f08c1e" fill-opacity="0.55"/>
<rect x="461.0" y="569.3" width="0.9" height="0.5" fill="#f08c1e" fill-opacity="0.55"/>
<rect x="466.7" y="569.3" width="1.8" height="0.6" fill="#f08c1e" fill-opacity="0.55"/>
<rect x="472.1" y="569.3" width="1.6" height="0.8" fill="#f08c1e" fill-opacity="0.55"/>
<rect x="479.1" y="569.3" width="2.8" height="0.5" fill="#f08c1e" fill-opacity="0.55"/>
<rect x="484.9" y="569.3" width="1.5" height="0.3" fill="#f08c1e" fill-opacity="0.55"/>
<rect x="490.6" y="569.3" width="2.0" height="0.7" fill="#f08c1e" fill-opacity="0.55"/>
<rect x="495.2" y="569.3" width="2.6" height="0.5" fill="#f08c1e" fill-opacity="0.55"/>
<rect x="499.7" y="569.3" width="2.6" height="0.9" fill="#f08c1e" fill-opacity="0.55"/>
<rect x="505.6" y="569.3" width="2.9" height="0.7" fill="#f08c1e" fill-opacity="0.55"/>
<rect x="510.8" y="569.3" width="0.9" height="1.1" fill="#f08c1e" fill-opacity="0.55"/>
<rect x="516.0" y="569.3" width="0.9" height="0.9" fill="#f08c1e" fill-opacity="0.55"/>
<rect x="523.3" y="569.3" width="2.1" height="0.4" fill="#f08c1e" fill-opacity="0.55"/>
<rect x="527.2" y="569.3" width="2.0" height="1.1" fill="#f08c1e" fill-opacity="0.55"/>
<rect x="534.2" y="569.3" width="2.3" height="0.7" fill="#f08c1e" fill-opacity="0.55"/>
<rect x="540.6" y="569.3" width="1.3" height="0.6" fill="#f08c1e" fill-opacity="0.55"/>
<rect x="547.8" y="569.3" width="2.8" height="0.4" fill="#f08c1e" fill-opacity="0.55"/>
<rect x="551.8" y="569.3" width="1.0" height="0.4" fill="#f08c1e" fill-opacity="0.55"/>
<rect x="558.8" y="569.3" width="1.7" height="1.2" fill="#f08c1e" fill-opacity="0.55"/>
<rect x="565.1" y="569.3" width="2.8" height="0.5" fill="#f08c1e" fill-opacity="0.55"/>
<rect x="571.5" y="569.3" width="0.9" height="0.4" fill="#f08c1e" fill-opacity="0.55"/>
<rect x="578.0" y="569.3" width="2.6" height="0.3" fill="#f08c1e" fill-opacity="0.55"/>
<rect x="582.4" y="569.3" width="2.1" height="0.5" fill="#f08c1e" fill-opacity="0.55"/>
<rect x="587.0" y="569.3" width="1.1" height="0.8" fill="#f08c1e" fill-opacity="0.55"/>
<rect x="594.6" y="569.3" width="2.7" height="0.6" fill="#f08c1e" fill-opacity="0.55"/>
<rect x="598.3" y="569.3" width="3.0" height="1.0" fill="#f08c1e" fill-opacity="0.55"/>
<rect x="603.3" y="569.3" width="1.6" height="0.3" fill="#f08c1e" fill-opacity="0.55"/>
<rect x="609.5" y="569.3" width="2.0" height="0.5" fill="#f08c1e" fill-opacity="0.55"/>
<rect x="613.0" y="569.3" width="2.4" height="0.7" fill="#f08c1e" fill-opacity="0.55"/>
<rect x="618.1" y="569.3" width="1.1" height="0.9" fill="#f08c1e" fill-opacity="0.55"/>
<rect x="625.3" y="569.3" width="2.8" height="0.4" fill="#f08c1e" fill-opacity="0.55"/>
<rect x="633.2" y="569.3" width="2.0" height="1.1" fill="#f08c1e" fill-opacity="0.55"/>
<rect x="637.7" y="569.3" width="2.5" height="0.6" fill="#f08c1e" fill-opacity="0.55"/>
<rect x="643.2" y="569.3" width="1.0" height="1.1" fill="#f08c1e" fill-opacity="0.55"/>
<rect x="648.6" y="569.3" width="2.1" height="1.1" fill="#f08c1e" fill-opacity="0.55"/>
<rect x="654.3" y="569.3" width="1.1" height="0.4" fill="#f08c1e" fill-opacity="0.55"/>
<rect x="658.7" y="569.3" width="2.7" height="1.1" fill="#f08c1e" fill-opacity="0.55"/>
<rect x="662.8" y="569.3" width="0.9" height="1.1" fill="#f08c1e" fill-opacity="0.55"/>
<rect x="668.8" y="569.3" width="1.6" height="1.2" fill="#f08c1e" fill-opacity="0.55"/>
<rect x="676.5" y="569.3" width="0.9" height="0.9" fill="#f08c1e" fill-opacity="0.55"/>
<rect x="681.2" y="569.3" width="1.3" height="0.7" fill="#f08c1e" fill-opacity="0.55"/>
<rect x="687.9" y="569.3" width="2.5" height="0.5" fill="#f08c1e" fill-opacity="0.55"/>
<rect x="692.4" y="569.3" width="2.0" height="0.4" fill="#f08c1e" fill-opacity="0.55"/>
<rect x="695.9" y="569.3" width="2.5" height="0.8" fill="#f08c1e" fill-opacity="0.55"/>
<rect x="701.8" y="569.3" width="0.9" height="0.7" fill="#f08c1e" fill-opacity="0.55"/>
<rect x="707.4" y="569.3" width="2.2" height="0.4" fill="#f08c1e" fill-opacity="0.55"/>
<rect x="711.1" y="569.3" width="1.6" height="0.8" fill="#f08c1e" fill-opacity="0.55"/>
<rect x="715.9" y="569.3" width="1.2" height="0.9" fill="#f08c1e" fill-opacity="0.55"/>
<rect x="719.8" y="569.3" width="1.5" height="1.1" fill="#f08c1e" fill-opacity="0.55"/>
<rect x="78.0" y="567.6" width="1.6" height="0.9" fill="#3a3af0" fill-opacity="0.35"/>
<rect x="84.3" y="568.1" width="2.3" height="0.4" fill="#3a3af0" fill-opacity="0.35"/>
<rect x="90.4" y="567.9" width="1.7" height="0.6" fill="#3a3af0" fill-opacity="0.35"/>
<rect x="96.5" y="567.9" width="1.1" height="0.6" fill="#3a3af0" fill-opacity="0.35"/>
<rect x="106.3" y="567.8" width="1.4" height="0.7" fill="#3a3af0" fill-opacity="0.35"/>
<rect x="113.1" y="567.9" width="1.1" height="0.6" fill="#3a3af0" fill-opacity="0.35"/>
<rect x="119.2" y="568.0" width="2.3" height="0.5" fill="#3a3af0" fill-opacity="0.35"/>
<rect x="128.7" y="567.6" width="0.8" height="0.9" fill="#3a3af0" fill-opacity="0.35"/>
<rect x="142.2" y="567.9" width="2.1" height="0.6" fill="#3a3af0" fill-opacity="0.35"/>
<rect x="152.3" y="567.7" width="1.2" height="0.8" fill="#3a3af0" fill-opacity="0.35"/>
<rect x="164.1" y="568.1" width="1.2" height="0.4" fill="#3a3af0" fill-opacity="0.35"/>
<rect x="169.4" y="567.9" width="1.7" height="0.6" fill="#3a3af0" fill-opacity="0.35"/>
<rect x="177.0" y="567.6" width="0.9" height="0.9" fill="#3a3af0" fill-opacity="0.35"/>
<rect x="187.2" y="568.0" width="1.8" height="0.5" fill="#3a3af0" fill-opacity="0.35"/>
<rect x="199.3" y="567.7" width="0.9" height="0.8" fill="#3a3af0" fill-opacity="0.35"/>
<rect x="206.5" y="567.8" width="2.5" height="0.7" fill="#3a3af0" fill-opacity="0.35"/>
<rect x="211.8" y="567.8" width="2.0" height="0.7" fill="#3a3af0" fill-opacity="0.35"/>
<rect x="224.2" y="568.0" width="2.2" height="0.5" fill="#3a3af0" fill-opacity="0.35"/>
<rect x="233.3" y="567.6" width="0.8" height="0.9" fill="#3a3af0" fill-opacity="0.35"/>
<rect x="246.8" y="567.9" width="1.5" height="0.6" fill="#3a3af0" fill-opacity="0.35"/>
<rect x="252.6" y="568.0" width="2.0" height="0.5" fill="#3a3af0" fill-opacity="0.35"/>
<rect x="263.7" y="568.1" width="1.4" height="0.4" fill="#3a3af0" fill-opacity="0.35"/>
<rect x="270.0" y="568.1" width="1.2" height="0.4" fill="#3a3af0" fill-opacity="0.35"/>
<rect x="277.9" y="567.5" width="2.5" height="1.0" fill="#3a3af0" fill-opacity="0.35"/>
<rect x="290.1" y="567.9" width="1.6" height="0.6" fill="#3a3af0" fill-opacity="0.35"/>
<rect x="302.1" y="567.6" width="2.1" height="0.9" fill="#3a3af0" fill-opacity="0.35"/>
<rect x="312.8" y="568.1" width="1.9" height="0.4" fill="#3a3af0" fill-opacity="0.35"/>
<rect x="325.4" y="567.6" width="1.0" height="0.9" fill="#3a3af0" fill-opacity="0.35"/>
<rect x="336.9" y="568.0" width="1.1" height="0.5" fill="#3a3af0" fill-opacity="0.35"/>
<rect x="350.6" y="567.7" width="2.1" height="0.8" fill="#3a3af0" fill-opacity="0.35"/>
<rect x="356.8" y="567.6" width="2.4" height="0.9" fill="#3a3af0" fill-opacity="0.35"/>
<rect x="369.9" y="567.7" width="2.2" height="0.8" fill="#3a3af0" fill-opacity="0.35"/>
<rect x="382.1" y="567.8" width="1.5" height="0.7" fill="#3a3af0" fill-opacity="0.35"/>
<rect x="394.6" y="567.7" width="2.3" height="0.8" fill="#3a3af0" fill-opacity="0.35"/>
<rect x="402.3" y="567.5" width="1.7" height="1.0" fill="#3a3af0" fill-opacity="0.35"/>
<rect x="415.8" y="568.1" width="2.4" height="0.4" fill="#3a3af0" fill-opacity="0.35"/>
<rect x="427.9" y="568.0" width="2.2" height="0.5" fill="#3a3af0" fill-opacity="0.35"/>
<rect x="434.9" y="568.1" width="1.6" height="0.4" fill="#3a3af0" fill-opacity="0.35"/>
<rect x="442.1" y="567.9" width="2.3" height="0.6" fill="#3a3af0" fill-opacity="0.35"/>
<rect x="453.2" y="567.7" width="1.5" height="0.8" fill="#3a3af0" fill-opacity="0.35"/>
<rect x="465.3" y="567.6" width="2.0" height="0.9" fill="#3a3af0" fill-opacity="0.35"/>
<rect x="478.8" y="567.6" width="1.5" height="0.9" fill="#3a3af0" fill-opacity="0.35"/>
<rect x="484.6" y="567.7" width="2.2" height="0.8" fill="#3a3af0" fill-opacity="0.35"/>
<rect x="492.6" y="567.8" width="2.2" height="0.7" fill="#3a3af0" fill-opacity="0.35"/>
<rect x="504.7" y="568.2" width="1.6" height="0.3" fill="#3a3af0" fill-opacity="0.35"/>
<rect x="509.9" y="568.1" width="2.2" height="0.4" fill="#3a3af0" fill-opacity="0.35"/>
<rect x="518.7" y="567.8" width="1.6" height="0.7" fill="#3a3af0" fill-opacity="0.35"/>
<rect x="526.7" y="568.1" width="1.4" height="0.4" fill="#3a3af0" fill-opacity="0.35"/>
<rect x="539.3" y="567.8" width="1.3" height="0.7" fill="#3a3af0" fill-opacity="0.35"/>
<rect x="545.1" y="568.0" width="2.0" height="0.5" fill="#3a3af0" fill-opacity="0.35"/>
<rect x="554.1" y="567.7" width="2.2" height="0.8" fill="#3a3af0" fill-opacity="0.35"/>
<rect x="560.1" y="567.7" width="0.9" height="0.8" fill="#3a3af0" fill-opacity="0.35"/>
<rect x="572.5" y="568.1" width="1.3" height="0.4" fill="#3a3af0" fill-opacity="0.35"/>
<rect x="586.2" y="567.9" width="1.2" height="0.6" fill="#3a3af0" fill-opacity="0.35"/>
<rect x="599.2" y="567.8" width="2.3" height="0.7" fill="#3a3af0" fill-opacity="0.35"/>
<rect x="607.7" y="567.9" width="2.4" height="0.6" fill="#3a3af0" fill-opacity="0.35"/>
<rect x="617.3" y="567.5" width="1.1" height="1.0" fill="#3a3af0" fill-opacity="0.35"/>
<rect x="629.8" y="568.1" width="1.7" height="0.4" fill="#3a3af0" fill-opacity="0.35"/>
<rect x="634.8" y="568.1" width="2.4" height="0.4" fill="#3a3af0" fill-opacity="0.35"/>
<rect x="643.9" y="567.6" width="1.2" height="0.9" fill="#3a3af0" fill-opacity="0.35"/>
<rect x="652.0" y="568.1" width="1.7" height="0.4" fill="#3a3af0" fill-opacity="0.35"/>
<rect x="664.8" y="567.8" width="1.4" height="0.7" fill="#3a3af0" fill-opacity="0.35"/>
<rect x="678.1" y="567.6" width="1.9" height="0.9" fill="#3a3af0" fill-opacity="0.35"/>
<rect x="683.8" y="567.8" width="1.6" height="0.7" fill="#3a3af0" fill-opacity="0.35"/>
<rect x="697.4" y="567.9" width="1.9" height="0.6" fill="#3a3af0" fill-opacity="0.35"/>
<rect x="708.1" y="567.9" width="1.7" height="0.6" fill="#3a3af0" fill-opacity="0.35"/>
<rect x="719.2" y="567.6" width="1.6" height="0.9" fill="#3a3af0" fill-opacity="0.35"/>
<rect x="77.0" y="592.8" width="0.9" height="1.2" fill="#f08c1e" fill-opacity="0.55"/>
<rect x="84.2" y="592.8" width="2.0" height="0.9" fill="#f08c1e" fill-opacity="0.55"/>
<rect x="89.4" y="592.8" width="2.8" height="1.0" fill="#f08c1e" fill-opacity="0.55"/>
<rect x="96.1" y="592.8" width="0.9" height="1.0" fill="#f08c1e" fill-opacity="0.55"/>
<rect x="100.7" y="592.8" width="2.9" height="0.4" fill="#f08c1e" fill-opacity="0.55"/>
<rect x="108.1" y="592.8" width="2.1" height="0.4" fill="#f08c1e" fill-opacity="0.55"/>
<rect x="114.0" y="592.8" width="1.7" height="0.3" fill="#f08c1e" fill-opacity="0.55"/>
<rect x="120.8" y="592.8" width="1.4" height="0.9" fill="#f08c1e" fill-opacity="0.55"/>
<rect x="127.6" y="592.8" width="2.0" height="0.6" fill="#f08c1e" fill-opacity="0.55"/>
<rect x="132.7" y="592.8" width="2.2" height="1.2" fill="#f08c1e" fill-opacity="0.55"/>
<rect x="139.7" y="592.8" width="1.6" height="0.9" fill="#f08c1e" fill-opacity="0.55"/>
<rect x="147.5" y="592.8" width="2.3" height="0.9" fill="#f08c1e" fill-opacity="0.55"/>
<rect x="151.9" y="592.8" width="2.1" height="0.4" fill="#f08c1e" fill-opacity="0.55"/>
<rect x="159.0" y="592.8" width="1.6" height="1.0" fill="#f08c1e" fill-opacity="0.55"/>
<rect x="162.7" y="592.8" width="2.7" height="0.8" fill="#f08c1e" fill-opacity="0.55"/>
<rect x="166.5" y="592.8" width="1.2" height="1.0" fill="#f08c1e" fill-opacity="0.55"/>
<rect x="171.1" y="592.8" width="1.5" height="0.3" fill="#f08c1e" fill-opacity="0.55"/>
<rect x="176.0" y="592.8" width="2.9" height="1.2" fill="#f08c1e" fill-opacity="0.55"/>
<rect x="180.0" y="592.8" width="2.9" height="0.6" fill="#f08c1e" fill-opacity="0.55"/>
<rect x="183.9" y="592.8" width="1.8" height="0.6" fill="#f08c1e" fill-opacity="0.55"/>
<rect x="187.5" y="592.8" width="1.7" height="0.5" fill="#f08c1e" fill-opacity="0.55"/>
<rect x="192.4" y="592.8" width="1.4" height="1.2" fill="#f08c1e" fill-opacity="0.55"/>
<rect x="196.4" y="592.8" width="1.8" height="1.1" fill="#f08c1e" fill-opacity="0.55"/>
<rect x="203.6" y="592.8" width="2.5" height="0.9" fill="#f08c1e" fill-opacity="0.55"/>
<rect x="208.2" y="592.8" width="2.5" height="0.4" fill="#f08c1e" fill-opacity="0.55"/>
<rect x="213.5" y="592.8" width="2.3" height="0.8" fill="#f08c1e" fill-opacity="0.55"/>
<rect x="220.3" y="592.8" width="1.6" height="0.5" fill="#f08c1e" fill-opacity="0.55"/>
<rect x="227.9" y="592.8" width="1.4" height="0.8" fill="#f08c1e" fill-opacity="0.55"/>
<rect x="234.0" y="592.8" width="2.5" height="0.5" fill="#f08c1e" fill-opacity="0.55"/>
<rect x="237.2" y="592.8" width="2.0" height="1.0" fill="#f08c1e" fill-opacity="0.55"/>
<rect x="242.0" y="592.8" width="1.4" height="1.1" fill="#f08c1e" fill-opacity="0.55"/>
<rect x="246.2" y="592.8" width="2.0" height="0.4" fill="#f08c1e" fill-opacity="0.55"/>
<rect x="253.0" y="592.8" width="1.7" height="0.9" fill="#f08c1e" fill-opacity="0.55"/>
<rect x="260.0" y="592.8" width="1.5" height="0.4" fill="#f08c1e" fill-opacity="0.55"/>
<rect x="266.3" y="592.8" width="2.2" height="1.2" fill="#f08c1e" fill-opacity="0.55"/>
<rect x="272.7" y="592.8" width="1.7" height="1.0" fill="#f08c1e" fill-opacity="0.55"/>
<rect x="280.4" y="592.8" width="1.6" height="1.0" fill="#f08c1e" fill-opacity="0.55"/>
<rect x="285.4" y="592.8" width="1.6" height="1.0" fill="#f08c1e" fill-opacity="0.55"/>
<rect x="289.3" y="592.8" width="2.0" height="1.1" fill="#f08c1e" fill-opacity="0.55"/>
<rect x="294.9" y="592.8" width="2.8" height="0.9" fill="#f08c1e" fill-opacity="0.55"/>
<rect x="298.6" y="592.8" width="0.9" height="0.6" fill="#f08c1e" fill-opacity="0.55"/>
<rect x="303.7" y="592.8" width="2.7" height="0.8" fill="#f08c1e" fill-opacity="0.55"/>
<rect x="310.0" y="592.8" width="1.7" height="0.8" fill="#f08c1e" fill-opacity="0.55"/>
<rect x="315.9" y="592.8" width="2.7" height="0.5" fill="#f08c1e" fill-opacity="0.55"/>
<rect x="322.8" y="592.8" width="1.1" height="1.1" fill="#f08c1e" fill-opacity="0.55"/>
<rect x="329.2" y="592.8" width="1.9" height="1.0" fill="#f08c1e" fill-opacity="0.55"/>
<rect x="336.7" y="592.8" width="2.4" height="1.1" fill="#f08c1e" fill-opacity="0.55"/>
<rect x="343.8" y="592.8" width="2.7" height="0.9" fill="#f08c1e" fill-opacity="0.55"/>
<rect x="347.4" y="592.8" width="2.3" height="0.9" fill="#f08c1e" fill-opacity="0.55"/>
<rect x="353.5" y="592.8" width="0.9" height="0.5" fill="#f08c1e" fill-opacity="0.55"/>
<rect x="359.5" y="592.8" width="1.4" height="1.0" fill="#f08c1e" fill-opacity="0.55"/>
<rect x="363.6" y="592.8" width="1.0" height="0.5" fill="#f08c1e" fill-opacity="0.55"/>
<rect x="369.9" y="592.8" width="2.6" height="1.2" fill="#f08c1e" fill-opacity="0.55"/>
<rect x="374.7" y="592.8" width="1.0" height="0.9" fill="#f08c1e" fill-opacity="0.55"/>
<rect x="381.9" y="592.8" width="0.8" height="0.6" fill="#f08c1e" fill-opacity="0.55"/>
<rect x="388.1" y="592.8" width="1.4" height="0.4" fill="#f08c1e" fill-opacity="0.55"/>
<rect x="391.4" y="592.8" width="2.0" height="0.7" fill="#f08c1e" fill-opacity="0.55"/>
<rect x="398.4" y="592.8" width="2.6" height="0.3" fill="#f08c1e" fill-opacity="0.55"/>
<rect x="402.0" y="592.8" width="2.2" height="0.5" fill="#f08c1e" fill-opacity="0.55"/>
<rect x="406.7" y="592.8" width="2.1" height="0.6" fill="#f08c1e" fill-opacity="0.55"/>
<rect x="410.8" y="592.8" width="1.3" height="1.0" fill="#f08c1e" fill-opacity="0.55"/>
<rect x="418.0" y="592.8" width="2.0" height="1.0" fill="#f08c1e" fill-opacity="0.55"/>
<rect x="421.1" y="592.8" width="0.9" height="1.0" fill="#f08c1e" fill-opacity="0.55"/>
<rect x="426.6" y="592.8" width="0.9" height="0.7" fill="#f08c1e" fill-opacity="0.55"/>
<rect x="432.8" y="592.8" width="2.1" height="1.0" fill="#f08c1e" fill-opacity="0.55"/>
<rect x="437.8" y="592.8" width="2.1" height="0.8" fill="#f08c1e" fill-opacity="0.55"/>
<rect x="441.9" y="592.8" width="3.0" height="1.1" fill="#f08c1e" fill-opacity="0.55"/>
<rect x="448.9" y="592.8" width="1.5" height="1.2" fill="#f08c1e" fill-opacity="0.55"/>
<rect x="456.9" y="592.8" width="1.9" height="0.4" fill="#f08c1e" fill-opacity="0.55"/>
<rect x="460.5" y="592.8" width="2.3" height="0.7" fill="#f08c1e" fill-opacity="0.55"/>
<rect x="467.1" y="592.8" width="1.6" height="0.7" fill="#f08c1e" fill-opacity="0.55"/>
<rect x="471.0" y="592.8" width="1.4" height="0.7" fill="#f08c1e" fill-opacity="0.55"/>
<rect x="475.0" y="592.8" width="1.9" height="1.0" fill="#f08c1e" fill-opacity="0.55"/>
<rect x="480.2" y="592.8" width="2.3" height="0.5" fill="#f08c1e" fill-opacity="0.55"/>
<rect x="484.2" y="592.8" width="2.0" height="0.5" fill="#f08c1e" fill-opacity="0.55"/>
<rect x="490.7" y="592.8" width="2.4" height="1.2" fill="#f08c1e" fill-opacity="0.55"/>
<rect x="498.4" y="592.8" width="2.4" height="1.1" fill="#f08c1e" fill-opacity="0.55"/>
<rect x="505.0" y="592.8" width="1.3" height="0.4" fill="#f08c1e" fill-opacity="0.55"/>
<rect x="508.1" y="592.8" width="2.4" height="1.1" fill="#f08c1e" fill-opacity="0.55"/>
<rect x="514.2" y="592.8" width="1.6" height="0.5" fill="#f08c1e" fill-opacity="0.55"/>
<rect x="518.1" y="592.8" width="3.0" height="0.9" fill="#f08c1e" fill-opacity="0.55"/>
<rect x="522.6" y="592.8" width="1.2" height="0.3" fill="#f08c1e" fill-opacity="0.55"/>
<rect x="527.4" y="592.8" width="2.6" height="1.1" fill="#f08c1e" fill-opacity="0.55"/>
<rect x="532.6" y="592.8" width="1.0" height="0.4" fill="#f08c1e" fill-opacity="0.55"/>
<rect x="536.4" y="592.8" width="1.8" height="1.0" fill="#f08c1e" fill-opacity="0.55"/>
<rect x="544.4" y="592.8" width="2.5" height="1.1" fill="#f08c1e" fill-opacity="0.55"/>
<rect x="549.7" y="592.8" width="1.1" height="1.0" fill="#f08c1e" fill-opacity="0.55"/>
<rect x="553.3" y="592.8" width="1.9" height="0.8" fill="#f08c1e" fill-opacity="0.55"/>
<rect x="557.3" y="592.8" width="0.8" height="0.5" fill="#f08c1e" fill-opacity="0.55"/>
<rect x="564.9" y="592.8" width="2.9" height="0.9" fill="#f08c1e" fill-opacity="0.55"/>
<rect x="572.8" y="592.8" width="2.4" height="0.7" fill="#f08c1e" fill-opacity="0.55"/>
<rect x="577.7" y="592.8" width="2.7" height="1.0" fill="#f08c1e" fill-opacity="0.55"/>
<rect x="581.4" y="592.8" width="1.3" height="0.3" fill="#f08c1e" fill-opacity="0.55"/>
<rect x="587.3" y="592.8" width="0.8" height="0.6" fill="#f08c1e" fill-opacity="0.55"/>
<rect x="594.4" y="592.8" width="1.8" height="1.0" fill="#f08c1e" fill-opacity="0.55"/>
<rect x="597.7" y="592.8" width="2.0" height="1.1" fill="#f08c1e" fill-opacity="0.55"/>
<rect x="601.0" y="592.8" width="2.2" height="0.6" fill="#f08c1e" fill-opacity="0.55"/>
<rect x="608.4" y="592.8" width="2.2" height="0.7" fill="#f08c1e" fill-opacity="0.55"/>
<rect x="612.5" y="592.8" width="2.8" height="0.5" fill="#f08c1e" fill-opacity="0.55"/>
<rect x="617.4" y="592.8" width="2.1" height="0.4" fill="#f08c1e" fill-opacity="0.55"/>
<rect x="621.0" y="592.8" width="1.8" height="0.5" fill="#f08c1e" fill-opacity="0.55"/>
<rect x="626.9" y="592.8" width="2.4" height="0.9" fill="#f08c1e" fill-opacity="0.55"/>
<rect x="632.1" y="592.8" width="2.4" height="0.4" fill="#f08c1e" fill-opacity="0.55"/>
<rect x="635.4" y="592.8" width="1.7" height="0.7" fill="#f08c1e" fill-opacity="0.55"/>
<rect x="641.8" y="592.8" width="1.3" height="0.9" fill="#f08c1e" fill-opacity="0.55"/>
<rect x="648.0" y="592.8" width="1.8" height="0.9" fill="#f08c1e" fill-opacity="0.55"/>
<rect x="651.7" y="592.8" width="2.1" height="1.1" fill="#f08c1e" fill-opacity="0.55"/>
<rect x="655.0" y="592.8" width="3.0" height="0.5" fill="#f08c1e" fill-opacity="0.55"/>
<rect x="659.2" y="592.8" width="2.5" height="0.7" fill="#f08c1e" fill-opacity="0.55"/>
<rect x="666.3" y="592.8" width="2.4" height="0.9" fill="#f08c1e" fill-opacity="0.55"/>
<rect x="669.5" y="592.8" width="2.9" height="0.4" fill="#f08c1e" fill-opacity="0.55"/>
<rect x="676.5" y="592.8" width="0.9" height="0.3" fill="#f08c1e" fill-opacity="0.55"/>
<rect x="680.7" y="592.8" width="1.3" height="1.1" fill="#f08c1e" fill-opacity="0.55"/>
<rect x="687.1" y="592.8" width="2.2" height="1.1" fill="#f08c1e" fill-opacity="0.55"/>
<rect x="694.7" y="592.8" width="1.1" height="0.5" fill="#f08c1e" fill-opacity="0.55"/>
<rect x="697.8" y="592.8" width="1.0" height="1.0" fill="#f08c1e" fill-opacity="0.55"/>
<rect x="705.6" y="592.8" width="1.2" height="0.9" fill="#f08c1e" fill-opacity="0.55"/>
<rect x="712.7" y="592.8" width="1.9" height="0.4" fill="#f08c1e" fill-opacity="0.55"/>
<rect x="716.2" y="592.8" width="2.8" height="1.0" fill="#f08c1e" fill-opacity="0.55"/>
<rect x="78.0" y="591.7" width="2.2" height="0.3" fill="#3a3af0" fill-opacity="0.35"/>
<rect x="88.0" y="591.1" width="1.7" height="0.9" fill="#3a3af0" fill-opacity="0.35"/>
<rect x="98.6" y="591.3" width="2.2" height="0.7" fill="#3a3af0" fill-opacity="0.35"/>
<rect x="104.3" y="591.7" width="1.7" height="0.3" fill="#3a3af0" fill-opacity="0.35"/>
<rect x="111.9" y="591.4" width="0.8" height="0.6" fill="#3a3af0" fill-opacity="0.35"/>
<rect x="123.6" y="591.7" width="2.2" height="0.3" fill="#3a3af0" fill-opacity="0.35"/>
<rect x="135.9" y="591.4" width="1.0" height="0.6" fill="#3a3af0" fill-opacity="0.35"/>
<rect x="146.8" y="591.6" width="1.5" height="0.4" fill="#3a3af0" fill-opacity="0.35"/>
<rect x="152.8" y="591.0" width="1.7" height="1.0" fill="#3a3af0" fill-opacity="0.35"/>
<rect x="160.9" y="591.6" width="2.0" height="0.4" fill="#3a3af0" fill-opacity="0.35"/>
<rect x="173.6" y="591.1" width="1.0" height="0.9" fill="#3a3af0" fill-opacity="0.35"/>
<rect x="181.9" y="591.5" width="2.1" height="0.5" fill="#3a3af0" fill-opacity="0.35"/>
<rect x="188.2" y="591.3" width="2.5" height="0.7" fill="#3a3af0" fill-opacity="0.35"/>
<rect x="200.1" y="591.7" width="0.9" height="0.3" fill="#3a3af0" fill-opacity="0.35"/>
<rect x="206.2" y="591.2" width="1.8" height="0.8" fill="#3a3af0" fill-opacity="0.35"/>
<rect x="215.8" y="591.4" width="1.5" height="0.6" fill="#3a3af0" fill-opacity="0.35"/>
<rect x="226.3" y="591.2" width="2.4" height="0.8" fill="#3a3af0" fill-opacity="0.35"/>
<rect x="237.9" y="591.1" width="2.4" height="0.9" fill="#3a3af0" fill-opacity="0.35"/>
<rect x="250.5" y="591.2" width="0.9" height="0.8" fill="#3a3af0" fill-opacity="0.35"/>
<rect x="261.6" y="591.1" width="1.5" height="0.9" fill="#3a3af0" fill-opacity="0.35"/>
<rect x="274.5" y="591.6" width="2.4" height="0.4" fill="#3a3af0" fill-opacity="0.35"/>
<rect x="283.5" y="591.2" width="1.2" height="0.8" fill="#3a3af0" fill-opacity="0.35"/>
<rect x="291.2" y="591.5" width="1.4" height="0.5" fill="#3a3af0" fill-opacity="0.35"/>
<rect x="297.0" y="591.4" width="2.5" height="0.6" fill="#3a3af0" fill-opacity="0.35"/>
<rect x="307.9" y="591.0" width="2.1" height="1.0" fill="#3a3af0" fill-opacity="0.35"/>
<rect x="320.4" y="591.0" width="2.1" height="1.0" fill="#3a3af0" fill-opacity="0.35"/>
<rect x="327.9" y="591.5" width="1.5" height="0.5" fill="#3a3af0" fill-opacity="0.35"/>
<rect x="333.1" y="591.5" width="2.3" height="0.5" fill="#3a3af0" fill-opacity="0.35"/>
<rect x="346.4" y="591.5" width="2.1" height="0.5" fill="#3a3af0" fill-opacity="0.35"/>
<rect x="358.4" y="591.1" width="2.2" height="0.9" fill="#3a3af0" fill-opacity="0.35"/>
<rect x="368.2" y="591.6" width="2.2" height="0.4" fill="#3a3af0" fill-opacity="0.35"/>
<rect x="376.0" y="591.3" width="1.4" height="0.7" fill="#3a3af0" fill-opacity="0.35"/>
<rect x="385.8" y="591.0" width="1.1" height="1.0" fill="#3a3af0" fill-opacity="0.35"/>
<rect x="395.6" y="591.2" width="1.7" height="0.8" fill="#3a3af0" fill-opacity="0.35"/>
<rect x="409.0" y="591.4" width="2.4" height="0.6" fill="#3a3af0" fill-opacity="0.35"/>
<rect x="420.2" y="591.0" width="1.0" height="1.0" fill="#3a3af0" fill-opacity="0.35"/>
<rect x="427.1" y="591.5" width="2.3" height="0.5" fill="#3a3af0" fill-opacity="0.35"/>
<rect x="432.3" y="591.5" width="2.0" height="0.5" fill="#3a3af0" fill-opacity="0.35"/>
<rect x="446.2" y="591.6" width="1.5" height="0.4" fill="#3a3af0" fill-opacity="0.35"/>
<rect x="457.4" y="591.2" width="2.1" height="0.8" fill="#3a3af0" fill-opacity="0.35"/>
<rect x="469.1" y="591.5" width="1.2" height="0.5" fill="#3a3af0" fill-opacity="0.35"/>
<rect x="474.4" y="591.2" width="1.2" height="0.8" fill="#3a3af0" fill-opacity="0.35"/>
<rect x="481.7" y="591.0" width="1.9" height="1.0" fill="#3a3af0" fill-opacity="0.35"/>
<rect x="492.0" y="591.2" width="1.8" height="0.8" fill="#3a3af0" fill-opacity="0.35"/>
<rect x="503.3" y="591.5" width="0.9" height="0.5" fill="#3a3af0" fill-opacity="0.35"/>
<rect x="508.9" y="591.7" width="1.4" height="0.3" fill="#3a3af0" fill-opacity="0.35"/>
<rect x="515.2" y="591.6" width="1.6" height="0.4" fill="#3a3af0" fill-opacity="0.35"/>
<rect x="528.9" y="591.2" width="1.3" height="0.8" fill="#3a3af0" fill-opacity="0.35"/>
<rect x="540.8" y="591.6" width="1.0" height="0.4" fill="#3a3af0" fill-opacity="0.35"/>
<rect x="548.6" y="591.4" width="2.0" height="0.6" fill="#3a3af0" fill-opacity="0.35"/>
<rect x="557.6" y="591.2" width="1.0" height="0.8" fill="#3a3af0" fill-opacity="0.35"/>
<rect x="571.0" y="591.5" width="2.2" height="0.5" fill="#3a3af0" fill-opacity="0.35"/>
<rect x="576.2" y="591.1" width="1.2" height="0.9" fill="#3a3af0" fill-opacity="0.35"/>
<rect x="588.9" y="591.1" width="1.9" height="0.9" fill="#3a3af0" fill-opacity="0.35"/>
<rect x="596.4" y="591.7" width="1.1" height="0.3" fill="#3a3af0" fill-opacity="0.35"/>
<rect x="609.6" y="591.6" width="1.9" height="0.4" fill="#3a3af0" fill-opacity="0.35"/>
<rect x="619.9" y="591.2" width="1.1" height="0.8" fill="#3a3af0" fill-opacity="0.35"/>
<rect x="626.1" y="591.6" width="2.5" height="0.4" fill="#3a3af0" fill-opacity="0.35"/>
<rect x="634.6" y="591.2" width="1.8" height="0.8" fill="#3a3af0" fill-opacity="0.35"/>
<rect x="641.6" y="591.7" width="0.8" height="0.3" fill="#3a3af0" fill-opacity="0.35"/>
<rect x="654.3" y="591.6" width="2.4" height="0.4" fill="#3a3af0" fill-opacity="0.35"/>
<rect x="662.5" y="591.2" width="1.0" height="0.8" fill="#3a3af0" fill-opacity="0.35"/>
<rect x="674.6" y="591.5" width="1.4" height="0.5" fill="#3a3af0" fill-opacity="0.35"/>
<rect x="684.3" y="591.6" width="1.2" height="0.4" fill="#3a3af0" fill-opacity="0.35"/>
<rect x="696.5" y="591.5" width="1.4" height="0.5" fill="#3a3af0" fill-opacity="0.35"/>
<rect x="708.4" y="591.5" width="1.1" height="0.5" fill="#3a3af0" fill-opacity="0.35"/>
<rect x="715.4" y="591.4" width="1.4" height="0.6" fill="#3a3af0" fill-opacity="0.35"/>
<rect x="77.0" y="617.6" width="2.7" height="0.7" fill="#f08c1e" fill-opacity="0.55"/>
<rect x="80.3" y="617.6" width="2.6" height="0.9" fill="#f08c1e" fill-opacity="0.55"/>
<rect x="84.4" y="617.6" width="1.8" height="0.3" fill="#f08c1e" fill-opacity="0.55"/>
<rect x="88.0" y="617.6" width="2.4" height="0.7" fill="#f08c1e" fill-opacity="0.55"/>
<rect x="91.5" y="617.6" width="1.9" height="0.4" fill="#f08c1e" fill-opacity="0.55"/>
<rect x="95.3" y="617.6" width="1.8" height="0.5" fill="#f08c1e" fill-opacity="0.55"/>
<rect x="98.9" y="617.6" width="1.6" height="0.4" fill="#f08c1e" fill-opacity="0.55"/>
<rect x="104.3" y="617.6" width="2.0" height="1.1" fill="#f08c1e" fill-opacity="0.55"/>
<rect x="107.6" y="617.6" width="2.4" height="0.5" fill="#f08c1e" fill-opacity="0.55"/>
<rect x="113.5" y="617.6" width="2.9" height="1.1" fill="#f08c1e" fill-opacity="0.55"/>
<rect x="120.7" y="617.6" width="2.9" height="0.4" fill="#f08c1e" fill-opacity="0.55"/>
<rect x="126.4" y="617.6" width="1.2" height="0.5" fill="#f08c1e" fill-opacity="0.55"/>
<rect x="133.7" y="617.6" width="1.0" height="0.5" fill="#f08c1e" fill-opacity="0.55"/>
<rect x="138.0" y="617.6" width="1.8" height="1.1" fill="#f08c1e" fill-opacity="0.55"/>
<rect x="144.7" y="617.6" width="1.8" height="0.4" fill="#f08c1e" fill-opacity="0.55"/>
<rect x="149.3" y="617.6" width="2.3" height="0.5" fill="#f08c1e" fill-opacity="0.55"/>
<rect x="154.1" y="617.6" width="3.0" height="0.4" fill="#f08c1e" fill-opacity="0.55"/>
<rect x="159.5" y="617.6" width="0.8" height="0.5" fill="#f08c1e" fill-opacity="0.55"/>
<rect x="165.7" y="617.6" width="0.9" height="0.8" fill="#f08c1e" fill-opacity="0.55"/>
<rect x="171.1" y="617.6" width="2.0" height="1.0" fill="#f08c1e" fill-opacity="0.55"/>
<rect x="175.3" y="617.6" width="2.1" height="0.7" fill="#f08c1e" fill-opacity="0.55"/>
<rect x="181.5" y="617.6" width="2.6" height="0.4" fill="#f08c1e" fill-opacity="0.55"/>
<rect x="189.2" y="617.6" width="2.7" height="1.0" fill="#f08c1e" fill-opacity="0.55"/>
<rect x="194.1" y="617.6" width="1.2" height="1.1" fill="#f08c1e" fill-opacity="0.55"/>
<rect x="198.2" y="617.6" width="2.8" height="0.8" fill="#f08c1e" fill-opacity="0.55"/>
<rect x="201.6" y="617.6" width="0.9" height="0.5" fill="#f08c1e" fill-opacity="0.55"/>
<rect x="206.8" y="617.6" width="1.2" height="0.4" fill="#f08c1e" fill-opacity="0.55"/>
<rect x="213.6" y="617.6" width="2.9" height="0.8" fill="#f08c1e" fill-opacity="0.55"/>
<rect x="218.6" y="617.6" width="0.8" height="0.9" fill="#f08c1e" fill-opacity="0.55"/>
<rect x="226.3" y="617.6" width="1.8" height="0.5" fill="#f08c1e" fill-opacity="0.55"/>
<rect x="231.9" y="617.6" width="1.9" height="1.2" fill="#f08c1e" fill-opacity="0.55"/>
<rect x="239.8" y="617.6" width="1.3" height="0.9" fill="#f08c1e" fill-opacity="0.55"/>
<rect x="247.0" y="617.6" width="3.0" height="0.5" fill="#f08c1e" fill-opacity="0.55"/>
<rect x="252.3" y="617.6" width="2.9" height="0.5" fill="#f08c1e" fill-opacity="0.55"/>
<rect x="256.9" y="617.6" width="1.6" height="0.7" fill="#f08c1e" fill-opacity="0.55"/>
<rect x="263.2" y="617.6" width="1.6" height="0.3" fill="#f08c1e" fill-opacity="0.55"/>
<rect x="267.1" y="617.6" width="0.8" height="1.0" fill="#f08c1e" fill-opacity="0.55"/>
<rect x="273.1" y="617.6" width="1.8" height="0.5" fill="#f08c1e" fill-opacity="0.55"/>
<rect x="278.9" y="617.6" width="1.1" height="0.9" fill="#f08c1e" fill-opacity="0.55"/>
<rect x="283.1" y="617.6" width="2.9" height="0.4" fill="#f08c1e" fill-opacity="0.55"/>
<rect x="286.8" y="617.6" width="1.9" height="0.4" fill="#f08c1e" fill-opacity="0.55"/>
<rect x="292.8" y="617.6" width="0.9" height="1.1" fill="#f08c1e" fill-opacity="0.55"/>
<rect x="296.9" y="617.6" width="2.1" height="0.5" fill="#f08c1e" fill-opacity="0.55"/>
<rect x="302.2" y="617.6" width="2.8" height="0.7" fill="#f08c1e" fill-opacity="0.55"/>
<rect x="308.5" y="617.6" width="2.9" height="1.1" fill="#f08c1e" fill-opacity="0.55"/>
<rect x="312.8" y="617.6" width="1.7" height="1.1" fill="#f08c1e" fill-opacity="0.55"/>
<rect x="316.1" y="617.6" width="1.0" height="1.1" fill="#f08c1e" fill-opacity="0.55"/>
<rect x="319.2" y="617.6" width="1.4" height="0.6" fill="#f08c1e" fill-opacity="0.55"/>
<rect x="327.0" y="617.6" width="1.7" height="1.1" fill="#f08c1e" fill-opacity="0.55"/>
<rect x="332.7" y="617.6" width="2.6" height="1.1" fill="#f08c1e" fill-opacity="0.55"/>
<rect x="338.9" y="617.6" width="1.1" height="0.8" fill="#f08c1e" fill-opacity="0.55"/>
<rect x="343.2" y="617.6" width="2.1" height="0.9" fill="#f08c1e" fill-opacity="0.55"/>
<rect x="350.2" y="617.6" width="2.9" height="1.1" fill="#f08c1e" fill-opacity="0.55"/>
<rect x="354.1" y="617.6" width="2.8" height="0.4" fill="#f08c1e" fill-opacity="0.55"/>
<rect x="360.0" y="617.6" width="2.3" height="0.5" fill="#f08c1e" fill-opacity="0.55"/>
<rect x="364.3" y="617.6" width="1.6" height="0.5" fill="#f08c1e" fill-opacity="0.55"/>
<rect x="369.9" y="617.6" width="1.0" height="0.9" fill="#f08c1e" fill-opacity="0.55"/>
<rect x="376.6" y="617.6" width="1.8" height="0.9" fill="#f08c1e" fill-opacity="0.55"/>
<rect x="382.9" y="617.6" width="0.8" height="1.0" fill="#f08c1e" fill-opacity="0.55"/>
<rect x="388.3" y="617.6" width="2.4" height="0.9" fill="#f08c1e" fill-opacity="0.55"/>
<rect x="394.6" y="617.6" width="2.9" height="0.5" fill="#f08c1e" fill-opacity="0.55"/>
<rect x="401.5" y="617.6" width="1.7" height="0.5" fill="#f08c1e" fill-opacity="0.55"/>
<rect x="409.3" y="617.6" width="1.7" height="0.5" fill="#f08c1e" fill-opacity="0.55"/>
<rect x="417.1" y="617.6" width="1.3" height="1.1" fill="#f08c1e" fill-opacity="0.55"/>
<rect x="423.8" y="617.6" width="2.3" height="0.6" fill="#f08c1e" fill-opacity="0.55"/>
<rect x="430.6" y="617.6" width="1.3" height="0.4" fill="#f08c1e" fill-opacity="0.55"/>
<rect x="434.7" y="617.6" width="0.9" height="0.5" fill="#f08c1e" fill-opacity="0.55"/>
<rect x="438.3" y="617.6" width="1.7" height="0.7" fill="#f08c1e" fill-opacity="0.55"/>
<rect x="441.7" y="617.6" width="2.9" height="0.8" fill="#f08c1e" fill-opacity="0.55"/>
<rect x="447.6" y="617.6" width="2.3" height="0.6" fill="#f08c1e" fill-opacity="0.55"/>
<rect x="452.8" y="617.6" width="1.9" height="0.5" fill="#f08c1e" fill-opacity="0.55"/>
<rect x="455.9" y="617.6" width="1.2" height="0.9" fill="#f08c1e" fill-opacity="0.55"/>
<rect x="460.7" y="617.6" width="2.5" height="1.2" fill="#f08c1e" fill-opacity="0.55"/>
<rect x="467.9" y="617.6" width="2.2" height="0.9" fill="#f08c1e" fill-opacity="0.55"/>
<rect x="474.4" y="617.6" width="1.2" height="1.2" fill="#f08c1e" fill-opacity="0.55"/>
<rect x="481.3" y="617.6" width="1.4" height="0.6" fill="#f08c1e" fill-opacity="0.55"/>
<rect x="488.4" y="617.6" width="2.7" height="0.8" fill="#f08c1e" fill-opacity="0.55"/>
<rect x="495.8" y="617.6" width="1.2" height="0.8" fill="#f08c1e" fill-opacity="0.55"/>
<rect x="498.8" y="617.6" width="2.4" height="0.8" fill="#f08c1e" fill-opacity="0.55"/>
<rect x="503.2" y="617.6" width="0.8" height="0.4" fill="#f08c1e" fill-opacity="0.55"/>
<rect x="507.1" y="617.6" width="0.8" height="0.9" fill="#f08c1e" fill-opacity="0.55"/>
<rect x="511.2" y="617.6" width="2.4" height="0.5" fill="#f08c1e" fill-opacity="0.55"/>
<rect x="519.1" y="617.6" width="1.1" height="0.3" fill="#f08c1e" fill-opacity="0.55"/>
<rect x="526.8" y="617.6" width="1.1" height="1.2" fill="#f08c1e" fill-opacity="0.55"/>
<rect x="531.5" y="617.6" width="1.5" height="0.8" fill="#f08c1e" fill-opacity="0.55"/>
<rect x="536.6" y="617.6" width="1.4" height="0.7" fill="#f08c1e" fill-opacity="0.55"/>
<rect x="539.9" y="617.6" width="1.2" height="0.4" fill="#f08c1e" fill-opacity="0.55"/>
<rect x="543.3" y="617.6" width="2.3" height="0.9" fill="#f08c1e" fill-opacity="0.55"/>
<rect x="547.6" y="617.6" width="2.4" height="1.0" fill="#f08c1e" fill-opacity="0.55"/>
<rect x="552.3" y="617.6" width="1.2" height="0.7" fill="#f08c1e" fill-opacity="0.55"/>
<rect x="560.0" y="617.6" width="0.9" height="0.8" fill="#f08c1e" fill-opacity="0.55"/>
<rect x="563.8" y="617.6" width="1.6" height="0.9" fill="#f08c1e" fill-opacity="0.55"/>
<rect x="570.3" y="617.6" width="2.6" height="0.5" fill="#f08c1e" fill-opacity="0.55"/>
<rect x="577.4" y="617.6" width="2.1" height="0.4" fill="#f08c1e" fill-opacity="0.55"/>
<rect x="581.3" y="617.6" width="2.6" height="0.9" fill="#f08c1e" fill-opacity="0.55"/>
<rect x="588.3" y="617.6" width="1.0" height="0.5" fill="#f08c1e" fill-opacity="0.55"/>
<rect x="594.6" y="617.6" width="1.1" height="0.8" fill="#f08c1e" fill-opacity="0.55"/>
<rect x="598.5" y="617.6" width="1.0" height="0.8" fill="#f08c1e" fill-opacity="0.55"/>
<rect x="604.7" y="617.6" width="1.4" height="0.5" fill="#f08c1e" fill-opacity="0.55"/>
<rect x="609.8" y="617.6" width="2.4" height="0.8" fill="#f08c1e" fill-opacity="0.55"/>
<rect x="613.0" y="617.6" width="1.3" height="1.0" fill="#f08c1e" fill-opacity="0.55"/>
<rect x="617.4" y="617.6" width="2.3" height="0.9" fill="#f08c1e" fill-opacity="0.55"/>
<rect x="623.5" y="617.6" width="1.3" height="1.1" fill="#f08c1e" fill-opacity="0.55"/>
<rect x="628.1" y="617.6" width="1.4" height="0.9" fill="#f08c1e" fill-opacity="0.55"/>
<rect x="631.9" y="617.6" width="2.5" height="0.5" fill="#f08c1e" fill-opacity="0.55"/>
<rect x="639.0" y="617.6" width="2.9" height="0.9" fill="#f08c1e" fill-opacity="0.55"/>
<rect x="646.0" y="617.6" width="1.5" height="0.6" fill="#f08c1e" fill-opacity="0.55"/>
<rect x="652.6" y="617.6" width="2.1" height="0.4" fill="#f08c1e" fill-opacity="0.55"/>
<rect x="656.0" y="617.6" width="1.9" height="0.3" fill="#f08c1e" fill-opacity="0.55"/>
<rect x="659.8" y="617.6" width="2.7" height="1.1" fill="#f08c1e" fill-opacity="0.55"/>
<rect x="665.1" y="617.6" width="1.1" height="0.5" fill="#f08c1e" fill-opacity="0.55"/>
<rect x="670.6" y="617.6" width="1.6" height="0.8" fill="#f08c1e" fill-opacity="0.55"/>
<rect x="677.2" y="617.6" width="2.5" height="0.8" fill="#f08c1e" fill-opacity="0.55"/>
<rect x="680.7" y="617.6" width="1.7" height="0.4" fill="#f08c1e" fill-opacity="0.55"/>
<rect x="686.1" y="617.6" width="2.3" height="0.5" fill="#f08c1e" fill-opacity="0.55"/>
<rect x="690.3" y="617.6" width="1.8" height="0.6" fill="#f08c1e" fill-opacity="0.55"/>
<rect x="696.8" y="617.6" width="1.6" height="1.0" fill="#f08c1e" fill-opacity="0.55"/>
<rect x="702.0" y="617.6" width="2.9" height="1.1" fill="#f08c1e" fill-opacity="0.55"/>
<rect x="708.1" y="617.6" width="1.8" height="0.4" fill="#f08c1e" fill-opacity="0.55"/>
<rect x="714.3" y="617.6" width="0.9" height="0.6" fill="#f08c1e" fill-opacity="0.55"/>
<rect x="78.0" y="615.9" width="1.0" height="0.9" fill="#3a3af0" fill-opacity="0.35"/>
<rect x="87.2" y="616.1" width="1.3" height="0.7" fill="#3a3af0" fill-opacity="0.35"/>
<rect x="92.8" y="616.0" width="2.1" height="0.8" fill="#3a3af0" fill-opacity="0.35"/>
<rect x="101.7" y="616.4" width="1.5" height="0.4" fill="#3a3af0" fill-opacity="0.35"/>
<rect x="107.6" y="615.8" width="0.9" height="1.0" fill="#3a3af0" fill-opacity="0.35"/>
<rect x="115.2" y="616.0" width="1.0" height="0.8" fill="#3a3af0" fill-opacity="0.35"/>
<rect x="121.1" y="616.5" width="1.1" height="0.3" fill="#3a3af0" fill-opacity="0.35"/>
<rect x="130.9" y="615.9" width="1.1" height="0.9" fill="#3a3af0" fill-opacity="0.35"/>
<rect x="137.5" y="616.0" width="1.5" height="0.8" fill="#3a3af0" fill-opacity="0.35"/>
<rect x="145.5" y="616.4" width="1.2" height="0.4" fill="#3a3af0" fill-opacity="0.35"/>
<rect x="159.3" y="616.4" width="1.2" height="0.4" fill="#3a3af0" fill-opacity="0.35"/>
<rect x="170.9" y="615.9" width="2.3" height="0.9" fill="#3a3af0" fill-opacity="0.35"/>
<rect x="180.2" y="615.8" width="1.8" height="1.0" fill="#3a3af0" fill-opacity="0.35"/>
<rect x="187.8" y="616.2" width="2.0" height="0.6" fill="#3a3af0" fill-opacity="0.35"/>
<rect x="199.4" y="616.4" width="1.1" height="0.4" fill="#3a3af0" fill-opacity="0.35"/>
<rect x="213.0" y="616.4" width="2.2" height="0.4" fill="#3a3af0" fill-opacity="0.35"/>
<rect x="221.1" y="616.3" width="1.2" height="0.5" fill="#3a3af0" fill-opacity="0.35"/>
<rect x="230.3" y="615.8" width="1.1" height="1.0" fill="#3a3af0" fill-opacity="0.35"/>
<rect x="243.0" y="616.3" width="1.1" height="0.5" fill="#3a3af0" fill-opacity="0.35"/>
<rect x="254.7" y="616.3" width="1.1" height="0.5" fill="#3a3af0" fill-opacity="0.35"/>
<rect x="263.5" y="615.9" width="2.3" height="0.9" fill="#3a3af0" fill-opacity="0.35"/>
<rect x="273.6" y="616.5" width="2.1" height="0.3" fill="#3a3af0" fill-opacity="0.35"/>
<rect x="284.1" y="615.9" width="2.4" height="0.9" fill="#3a3af0" fill-opacity="0.35"/>
<rect x="292.0" y="615.9" width="2.2" height="0.9" fill="#3a3af0" fill-opacity="0.35"/>
<rect x="299.4" y="616.2" width="1.4" height="0.6" fill="#3a3af0" fill-opacity="0.35"/>
<rect x="307.6" y="616.2" width="1.0" height="0.6" fill="#3a3af0" fill-opacity="0.35"/>
<rect x="314.7" y="615.9" width="1.5" height="0.9" fill="#3a3af0" fill-opacity="0.35"/>
<rect x="325.4" y="615.9" width="2.1" height="0.9" fill="#3a3af0" fill-opacity="0.35"/>
<rect x="332.6" y="615.9" width="2.2" height="0.9" fill="#3a3af0" fill-opacity="0.35"/>
<rect x="346.5" y="616.0" width="2.1" height="0.8" fill="#3a3af0" fill-opacity="0.35"/>
<rect x="358.8" y="616.3" width="1.9" height="0.5" fill="#3a3af0" fill-opacity="0.35"/>
<rect x="367.2" y="615.9" width="1.0" height="0.9" fill="#3a3af0" fill-opacity="0.35"/>
<rect x="377.1" y="616.3" width="2.2" height="0.5" fill="#3a3af0" fill-opacity="0.35"/>
<rect x="385.2" y="615.9" width="2.2" height="0.9" fill="#3a3af0" fill-opacity="0.35"/>
<rect x="398.1" y="616.4" width="2.4" height="0.4" fill="#3a3af0" fill-opacity="0.35"/>
<rect x="409.8" y="616.0" width="1.9" height="0.8" fill="#3a3af0" fill-opacity="0.35"/>
<rect x="415.2" y="615.9" width="1.7" height="0.9" fill="#3a3af0" fill-opacity="0.35"/>
<rect x="424.3" y="616.3" width="2.1" height="0.5" fill="#3a3af0" fill-opacity="0.35"/>
<rect x="436.4" y="615.9" width="1.2" height="0.9" fill="#3a3af0" fill-opacity="0.35"/>
<rect x="444.4" y="616.3" width="1.0" height="0.5" fill="#3a3af0" fill-opacity="0.35"/>
<rect x="452.4" y="616.5" width="2.2" height="0.3" fill="#3a3af0" fill-opacity="0.35"/>
<rect x="459.4" y="616.5" width="0.9" height="0.3" fill="#3a3af0" fill-opacity="0.35"/>
<rect x="471.1" y="616.4" width="1.6" height="0.4" fill="#3a3af0" fill-opacity="0.35"/>
<rect x="479.7" y="615.9" width="2.4" height="0.9" fill="#3a3af0" fill-opacity="0.35"/>
<rect x="487.5" y="616.1" width="2.3" height="0.7" fill="#3a3af0" fill-opacity="0.35"/>
<rect x="496.7" y="615.9" width="2.0" height="0.9" fill="#3a3af0" fill-opacity="0.35"/>
<rect x="504.5" y="615.9" width="1.8" height="0.9" fill="#3a3af0" fill-opacity="0.35"/>
<rect x="510.5" y="616.1" width="2.2" height="0.7" fill="#3a3af0" fill-opacity="0.35"/>
<rect x="520.2" y="616.2" width="1.5" height="0.6" fill="#3a3af0" fill-opacity="0.35"/>
<rect x="533.1" y="616.0" width="1.2" height="0.8" fill="#3a3af0" fill-opacity="0.35"/>
<rect x="541.3" y="616.2" width="2.4" height="0.6" fill="#3a3af0" fill-opacity="0.35"/>
<rect x="552.6" y="616.4" width="2.4" height="0.4" fill="#3a3af0" fill-opacity="0.35"/>
<rect x="557.9" y="616.1" width="1.5" height="0.7" fill="#3a3af0" fill-opacity="0.35"/>
<rect x="569.4" y="616.2" width="1.0" height="0.6" fill="#3a3af0" fill-opacity="0.35"/>
<rect x="579.1" y="615.9" width="2.1" height="0.9" fill="#3a3af0" fill-opacity="0.35"/>
<rect x="587.3" y="616.3" width="2.1" height="0.5" fill="#3a3af0" fill-opacity="0.35"/>
<rect x="599.5" y="616.3" width="2.3" height="0.5" fill="#3a3af0" fill-opacity="0.35"/>
<rect x="613.4" y="616.2" width="1.4" height="0.6" fill="#3a3af0" fill-opacity="0.35"/>
<rect x="624.8" y="615.8" width="1.1" height="1.0" fill="#3a3af0" fill-opacity="0.35"/>
<rect x="632.6" y="616.3" width="2.0" height="0.5" fill="#3a3af0" fill-opacity="0.35"/>
<rect x="639.2" y="616.1" width="1.7" height="0.7" fill="#3a3af0" fill-opacity="0.35"/>
<rect x="650.3" y="616.4" width="2.4" height="0.4" fill="#3a3af0" fill-opacity="0.35"/>
<rect x="664.3" y="616.1" width="2.2" height="0.7" fill="#3a3af0" fill-opacity="0.35"/>
<rect x="670.9" y="615.9" width="1.7" height="0.9" fill="#3a3af0" fill-opacity="0.35"/>
<rect x="682.7" y="615.9" width="1.4" height="0.9" fill="#3a3af0" fill-opacity="0.35"/>
<rect x="696.1" y="616.4" width="0.8" height="0.4" fill="#3a3af0" fill-opacity="0.35"/>
<rect x="705.6" y="615.9" width="2.3" height="0.9" fill="#3a3af0" fill-opacity="0.35"/>
<rect x="719.2" y="616.1" width="2.4" height="0.7" fill="#3a3af0" fill-opacity="0.35"/>
<rect x="77.0" y="638.7" width="2.2" height="0.4" fill="#f08c1e" fill-opacity="0.55"/>
<rect x="84.0" y="638.7" width="2.1" height="0.7" fill="#f08c1e" fill-opacity="0.55"/>
<rect x="88.3" y="638.7" width="1.7" height="0.5" fill="#f08c1e" fill-opacity="0.55"/>
<rect x="93.9" y="638.7" width="1.0" height="0.7" fill="#f08c1e" fill-opacity="0.55"/>
<rect x="96.9" y="638.7" width="2.4" height="0.6" fill="#f08c1e" fill-opacity="0.55"/>
<rect x="103.6" y="638.7" width="1.4" height="0.5" fill="#f08c1e" fill-opacity="0.55"/>
<rect x="109.2" y="638.7" width="2.1" height="0.5" fill="#f08c1e" fill-opacity="0.55"/>
<rect x="116.8" y="638.7" width="2.1" height="0.5" fill="#f08c1e" fill-opacity="0.55"/>
<rect x="123.4" y="638.7" width="2.4" height="1.0" fill="#f08c1e" fill-opacity="0.55"/>
<rect x="129.9" y="638.7" width="2.6" height="0.5" fill="#f08c1e" fill-opacity="0.55"/>
<rect x="137.5" y="638.7" width="2.9" height="0.3" fill="#f08c1e" fill-opacity="0.55"/>
<rect x="142.7" y="638.7" width="1.0" height="0.4" fill="#f08c1e" fill-opacity="0.55"/>
<rect x="149.7" y="638.7" width="1.1" height="0.9" fill="#f08c1e" fill-opacity="0.55"/>
<rect x="155.0" y="638.7" width="3.0" height="0.9" fill="#f08c1e" fill-opacity="0.55"/>
<rect x="159.7" y="638.7" width="1.3" height="1.0" fill="#f08c1e" fill-opacity="0.55"/>
<rect x="163.7" y="638.7" width="1.7" height="0.4" fill="#f08c1e" fill-opacity="0.55"/>
<rect x="169.8" y="638.7" width="1.2" height="0.6" fill="#f08c1e" fill-opacity="0.55"/>
<rect x="173.9" y="638.7" width="1.2" height="0.4" fill="#f08c1e" fill-opacity="0.55"/>
<rect x="178.5" y="638.7" width="1.2" height="0.8" fill="#f08c1e" fill-opacity="0.55"/>
<rect x="183.9" y="638.7" width="2.9" height="0.7" fill="#f08c1e" fill-opacity="0.55"/>
<rect x="189.3" y="638.7" width="1.8" height="1.2" fill="#f08c1e" fill-opacity="0.55"/>
<rect x="193.3" y="638.7" width="1.1" height="0.8" fill="#f08c1e" fill-opacity="0.55"/>
<rect x="197.1" y="638.7" width="2.3" height="0.4" fill="#f08c1e" fill-opacity="0.55"/>
<rect x="205.0" y="638.7" width="1.6" height="0.7" fill="#f08c1e" fill-opacity="0.55"/>
<rect x="210.1" y="638.7" width="2.3" height="0.6" fill="#f08c1e" fill-opacity="0.55"/>
<rect x="215.1" y="638.7" width="2.7" height="0.4" fill="#f08c1e" fill-opacity="0.55"/>
<rect x="220.9" y="638.7" width="2.7" height="0.3" fill="#f08c1e" fill-opacity="0.55"/>
<rect x="227.6" y="638.7" width="2.2" height="0.6" fill="#f08c1e" fill-opacity="0.55"/>
<rect x="235.2" y="638.7" width="1.8" height="0.7" fill="#f08c1e" fill-opacity="0.55"/>
<rect x="239.7" y="638.7" width="2.3" height="0.8" fill="#f08c1e" fill-opacity="0.55"/>
<rect x="246.3" y="638.7" width="1.1" height="1.2" fill="#f08c1e" fill-opacity="0.55"/>
<rect x="251.2" y="638.7" width="2.5" height="1.1" fill="#f08c1e" fill-opacity="0.55"/>
<rect x="257.1" y="638.7" width="1.5" height="0.9" fill="#f08c1e" fill-opacity="0.55"/>
<rect x="264.8" y="638.7" width="1.7" height="0.8" fill="#f08c1e" fill-opacity="0.55"/>
<rect x="268.7" y="638.7" width="2.8" height="0.4" fill="#f08c1e" fill-opacity="0.55"/>
<rect x="275.7" y="638.7" width="1.5" height="0.3" fill="#f08c1e" fill-opacity="0.55"/>
<rect x="281.1" y="638.7" width="1.6" height="0.7" fill="#f08c1e" fill-opacity="0.55"/>
<rect x="288.6" y="638.7" width="2.0" height="0.6" fill="#f08c1e" fill-opacity="0.55"/>
<rect x="296.3" y="638.7" width="1.8" height="0.9" fill="#f08c1e" fill-opacity="0.55"/>
<rect x="300.9" y="638.7" width="2.1" height="0.6" fill="#f08c1e" fill-opacity="0.55"/>
<rect x="307.9" y="638.7" width="1.6" height="0.5" fill="#f08c1e" fill-opacity="0.55"/>
<rect x="312.8" y="638.7" width="2.8" height="0.6" fill="#f08c1e" fill-opacity="0.55"/>
<rect x="318.5" y="638.7" width="1.5" height="0.5" fill="#f08c1e" fill-opacity="0.55"/>
<rect x="325.6" y="638.7" width="2.3" height="0.4" fill="#f08c1e" fill-opacity="0.55"/>
<rect x="328.7" y="638.7" width="0.9" height="0.5" fill="#f08c1e" fill-opacity="0.55"/>
<rect x="335.7" y="638.7" width="1.3" height="0.4" fill="#f08c1e" fill-opacity="0.55"/>
<rect x="339.0" y="638.7" width="2.4" height="0.5" fill="#f08c1e" fill-opacity="0.55"/>
<rect x="345.6" y="638.7" width="2.9" height="1.1" fill="#f08c1e" fill-opacity="0.55"/>
<rect x="351.4" y="638.7" width="1.0" height="1.1" fill="#f08c1e" fill-opacity="0.55"/>
<rect x="359.0" y="638.7" width="1.2" height="0.7" fill="#f08c1e" fill-opacity="0.55"/>
<rect x="365.7" y="638.7" width="1.6" height="1.1" fill="#f08c1e" fill-opacity="0.55"/>
<rect x="369.2" y="638.7" width="2.5" height="1.1" fill="#f08c1e" fill-opacity="0.55"/>
<rect x="375.2" y="638.7" width="0.9" height="1.2" fill="#f08c1e" fill-opacity="0.55"/>
<rect x="378.5" y="638.7" width="0.8" height="0.4" fill="#f08c1e" fill-opacity="0.55"/>
<rect x="385.0" y="638.7" width="1.0" height="0.9" fill="#f08c1e" fill-opacity="0.55"/>
<rect x="388.8" y="638.7" width="2.1" height="0.5" fill="#f08c1e" fill-opacity="0.55"/>
<rect x="395.2" y="638.7" width="1.6" height="1.2" fill="#f08c1e" fill-opacity="0.55"/>
<rect x="403.1" y="638.7" width="1.7" height="0.7" fill="#f08c1e" fill-opacity="0.55"/>
<rect x="407.4" y="638.7" width="2.9" height="0.5" fill="#f08c1e" fill-opacity="0.55"/>
<rect x="415.3" y="638.7" width="1.2" height="0.9" fill="#f08c1e" fill-opacity="0.55"/>
<rect x="419.2" y="638.7" width="1.6" height="0.4" fill="#f08c1e" fill-opacity="0.55"/>
<rect x="425.9" y="638.7" width="2.0" height="0.4" fill="#f08c1e" fill-opacity="0.55"/>
<rect x="432.3" y="638.7" width="1.8" height="0.3" fill="#f08c1e" fill-opacity="0.55"/>
<rect x="439.3" y="638.7" width="1.8" height="0.8" fill="#f08c1e" fill-opacity="0.55"/>
<rect x="446.7" y="638.7" width="1.5" height="0.8" fill="#f08c1e" fill-opacity="0.55"/>
<rect x="451.7" y="638.7" width="2.7" height="1.1" fill="#f08c1e" fill-opacity="0.55"/>
<rect x="459.2" y="638.7" width="1.1" height="0.8" fill="#f08c1e" fill-opacity="0.55"/>
<rect x="463.1" y="638.7" width="2.3" height="0.6" fill="#f08c1e" fill-opacity="0.55"/>
<rect x="466.1" y="638.7" width="2.5" height="1.0" fill="#f08c1e" fill-opacity="0.55"/>
<rect x="471.7" y="638.7" width="2.6" height="0.3" fill="#f08c1e" fill-opacity="0.55"/>
<rect x="476.8" y="638.7" width="2.1" height="0.9" fill="#f08c1e" fill-opacity="0.55"/>
<rect x="483.4" y="638.7" width="2.9" height="0.7" fill="#f08c1e" fill-opacity="0.55"/>
<rect x="491.2" y="638.7" width="2.2" height="1.1" fill="#f08c1e" fill-opacity="0.55"/>
<rect x="495.8" y="638.7" width="1.4" height="0.6" fill="#f08c1e" fill-opacity="0.55"/>
<rect x="503.3" y="638.7" width="2.5" height="1.0" fill="#f08c1e" fill-opacity="0.55"/>
<rect x="510.4" y="638.7" width="2.3" height="1.2" fill="#f08c1e" fill-opacity="0.55"/>
<rect x="515.0" y="638.7" width="1.4" height="1.0" fill="#f08c1e" fill-opacity="0.55"/>
<rect x="521.0" y="638.7" width="2.7" height="0.4" fill="#f08c1e" fill-opacity="0.55"/>
<rect x="526.5" y="638.7" width="2.8" height="0.5" fill="#f08c1e" fill-opacity="0.55"/>
<rect x="529.9" y="638.7" width="2.5" height="1.1" fill="#f08c1e" fill-opacity="0.55"/>
<rect x="533.7" y="638.7" width="2.1" height="1.0" fill="#f08c1e" fill-opacity="0.55"/>
<rect x="541.2" y="638.7" width="1.7" height="0.8" fill="#f08c1e" fill-opacity="0.55"/>
<rect x="548.9" y="638.7" width="2.5" height="0.4" fill="#f08c1e" fill-opacity="0.55"/>
<rect x="552.4" y="638.7" width="1.1" height="0.5" fill="#f08c1e" fill-opacity="0.55"/>
<rect x="559.7" y="638.7" width="2.4" height="0.7" fill="#f08c1e" fill-opacity="0.55"/>
<rect x="564.0" y="638.7" width="2.2" height="1.0" fill="#f08c1e" fill-opacity="0.55"/>
<rect x="567.5" y="638.7" width="2.4" height="0.7" fill="#f08c1e" fill-opacity="0.55"/>
<rect x="571.6" y="638.7" width="1.4" height="0.9" fill="#f08c1e" fill-opacity="0.55"/>
<rect x="576.4" y="638.7" width="2.9" height="1.1" fill="#f08c1e" fill-opacity="0.55"/>
<rect x="584.4" y="638.7" width="2.1" height="0.7" fill="#f08c1e" fill-opacity="0.55"/>
<rect x="591.5" y="638.7" width="1.8" height="1.0" fill="#f08c1e" fill-opacity="0.55"/>
<rect x="598.8" y="638.7" width="2.9" height="0.7" fill="#f08c1e" fill-opacity="0.55"/>
<rect x="604.1" y="638.7" width="2.4" height="0.4" fill="#f08c1e" fill-opacity="0.55"/>
<rect x="607.9" y="638.7" width="0.9" height="0.9" fill="#f08c1e" fill-opacity="0.55"/>
<rect x="615.8" y="638.7" width="2.4" height="0.8" fill="#f08c1e" fill-opacity="0.55"/>
<rect x="619.5" y="638.7" width="1.6" height="0.9" fill="#f08c1e" fill-opacity="0.55"/>
<rect x="623.7" y="638.7" width="0.9" height="1.0" fill="#f08c1e" fill-opacity="0.55"/>
<rect x="629.1" y="638.7" width="2.7" height="0.4" fill="#f08c1e" fill-opacity="0.55"/>
<rect x="636.6" y="638.7" width="1.8" height="0.3" fill="#f08c1e" fill-opacity="0.55"/>
<rect x="641.9" y="638.7" width="2.4" height="0.9" fill="#f08c1e" fill-opacity="0.55"/>
<rect x="646.6" y="638.7" width="1.2" height="1.1" fill="#f08c1e" fill-opacity="0.55"/>
<rect x="650.3" y="638.7" width="1.1" height="1.0" fill="#f08c1e" fill-opacity="0.55"/>
<rect x="654.2" y="638.7" width="1.5" height="0.8" fill="#f08c1e" fill-opacity="0.55"/>
<rect x="658.0" y="638.7" width="1.8" height="1.1" fill="#f08c1e" fill-opacity="0.55"/>
<rect x="665.0" y="638.7" width="2.8" height="0.5" fill="#f08c1e" fill-opacity="0.55"/>
<rect x="669.1" y="638.7" width="2.1" height="1.1" fill="#f08c1e" fill-opacity="0.55"/>
<rect x="676.9" y="638.7" width="2.2" height="1.0" fill="#f08c1e" fill-opacity="0.55"/>
<rect x="682.6" y="638.7" width="1.8" height="1.1" fill="#f08c1e" fill-opacity="0.55"/>
<rect x="686.1" y="638.7" width="2.6" height="1.1" fill="#f08c1e" fill-opacity="0.55"/>
<rect x="692.5" y="638.7" width="1.3" height="1.0" fill="#f08c1e" fill-opacity="0.55"/>
<rect x="697.8" y="638.7" width="2.9" height="1.0" fill="#f08c1e" fill-opacity="0.55"/>
<rect x="705.4" y="638.7" width="2.3" height="0.4" fill="#f08c1e" fill-opacity="0.55"/>
<rect x="711.2" y="638.7" width="1.2" height="0.7" fill="#f08c1e" fill-opacity="0.55"/>
<rect x="714.9" y="638.7" width="1.9" height="0.7" fill="#f08c1e" fill-opacity="0.55"/>
<rect x="719.2" y="638.7" width="2.0" height="0.6" fill="#f08c1e" fill-opacity="0.55"/>
<rect x="78.0" y="637.2" width="1.1" height="0.7" fill="#3a3af0" fill-opacity="0.35"/>
<rect x="91.0" y="637.3" width="2.4" height="0.6" fill="#3a3af0" fill-opacity="0.35"/>
<rect x="104.8" y="637.5" width="1.8" height="0.4" fill="#3a3af0" fill-opacity="0.35"/>
<rect x="118.5" y="637.3" width="1.7" height="0.6" fill="#3a3af0" fill-opacity="0.35"/>
<rect x="126.3" y="637.6" width="1.1" height="0.3" fill="#3a3af0" fill-opacity="0.35"/>
<rect x="132.5" y="637.4" width="1.9" height="0.5" fill="#3a3af0" fill-opacity="0.35"/>
<rect x="142.5" y="636.9" width="2.0" height="1.0" fill="#3a3af0" fill-opacity="0.35"/>
<rect x="150.8" y="636.9" width="1.9" height="1.0" fill="#3a3af0" fill-opacity="0.35"/>
<rect x="160.7" y="637.0" width="1.9" height="0.9" fill="#3a3af0" fill-opacity="0.35"/>
<rect x="168.9" y="637.2" width="1.3" height="0.7" fill="#3a3af0" fill-opacity="0.35"/>
<rect x="182.6" y="637.4" width="2.5" height="0.5" fill="#3a3af0" fill-opacity="0.35"/>
<rect x="188.2" y="637.6" width="1.7" height="0.3" fill="#3a3af0" fill-opacity="0.35"/>
<rect x="195.1" y="637.2" width="1.0" height="0.7" fill="#3a3af0" fill-opacity="0.35"/>
<rect x="207.6" y="637.1" width="2.0" height="0.8" fill="#3a3af0" fill-opacity="0.35"/>
<rect x="220.9" y="636.9" width="2.0" height="1.0" fill="#3a3af0" fill-opacity="0.35"/>
<rect x="232.4" y="637.6" width="0.9" height="0.3" fill="#3a3af0" fill-opacity="0.35"/>
<rect x="241.2" y="636.9" width="1.3" height="1.0" fill="#3a3af0" fill-opacity="0.35"/>
<rect x="251.3" y="637.6" width="1.5" height="0.3" fill="#3a3af0" fill-opacity="0.35"/>
<rect x="264.4" y="637.2" width="2.2" height="0.7" fill="#3a3af0" fill-opacity="0.35"/>
<rect x="269.6" y="637.5" width="1.1" height="0.4" fill="#3a3af0" fill-opacity="0.35"/>
<rect x="282.0" y="637.5" width="2.4" height="0.4" fill="#3a3af0" fill-opacity="0.35"/>
<rect x="289.4" y="637.0" width="1.7" height="0.9" fill="#3a3af0" fill-opacity="0.35"/>
<rect x="297.4" y="636.9" width="1.5" height="1.0" fill="#3a3af0" fill-opacity="0.35"/>
<rect x="308.6" y="637.6" width="2.2" height="0.3" fill="#3a3af0" fill-opacity="0.35"/>
<rect x="322.5" y="637.5" width="2.1" height="0.4" fill="#3a3af0" fill-opacity="0.35"/>
<rect x="329.9" y="637.5" width="1.4" height="0.4" fill="#3a3af0" fill-opacity="0.35"/>
<rect x="340.9" y="636.9" width="2.5" height="1.0" fill="#3a3af0" fill-opacity="0.35"/>
<rect x="354.8" y="637.2" width="1.9" height="0.7" fill="#3a3af0" fill-opacity="0.35"/>
<rect x="361.3" y="637.1" width="1.7" height="0.8" fill="#3a3af0" fill-opacity="0.35"/>
<rect x="369.5" y="637.0" width="1.2" height="0.9" fill="#3a3af0" fill-opacity="0.35"/>
<rect x="375.8" y="637.5" width="1.1" height="0.4" fill="#3a3af0" fill-opacity="0.35"/>
<rect x="386.1" y="637.0" width="1.1" height="0.9" fill="#3a3af0" fill-opacity="0.35"/>
<rect x="395.6" y="637.2" width="1.8" height="0.7" fill="#3a3af0" fill-opacity="0.35"/>
<rect x="404.3" y="637.2" width="0.8" height="0.7" fill="#3a3af0" fill-opacity="0.35"/>
<rect x="409.8" y="637.3" width="1.2" height="0.6" fill="#3a3af0" fill-opacity="0.35"/>
<rect x="421.6" y="637.4" width="2.2" height="0.5" fill="#3a3af0" fill-opacity="0.35"/>
<rect x="428.8" y="637.5" width="1.6" height="0.4" fill="#3a3af0" fill-opacity="0.35"/>
<rect x="437.3" y="637.4" width="2.1" height="0.5" fill="#3a3af0" fill-opacity="0.35"/>
<rect x="444.3" y="637.1" width="2.2" height="0.8" fill="#3a3af0" fill-opacity="0.35"/>
<rect x="453.4" y="637.2" width="2.4" height="0.7" fill="#3a3af0" fill-opacity="0.35"/>
<rect x="463.8" y="637.5" width="0.9" height="0.4" fill="#3a3af0" fill-opacity="0.35"/>
<rect x="469.5" y="637.4" width="1.0" height="0.5" fill="#3a3af0" fill-opacity="0.35"/>
<rect x="480.4" y="637.3" width="1.3" height="0.6" fill="#3a3af0" fill-opacity="0.35"/>
<rect x="490.0" y="636.9" width="1.2" height="1.0" fill="#3a3af0" fill-opacity="0.35"/>
<rect x="496.4" y="637.4" width="1.4" height="0.5" fill="#3a3af0" fill-opacity="0.35"/>
<rect x="509.6" y="637.1" width="1.5" height="0.8" fill="#3a3af0" fill-opacity="0.35"/>
<rect x="516.1" y="637.6" width="1.0" height="0.3" fill="#3a3af0" fill-opacity="0.35"/>
<rect x="528.7" y="637.1" width="1.1" height="0.8" fill="#3a3af0" fill-opacity="0.35"/>
<rect x="539.3" y="637.6" width="1.7" height="0.3" fill="#3a3af0" fill-opacity="0.35"/>
<rect x="547.3" y="637.5" width="2.1" height="0.4" fill="#3a3af0" fill-opacity="0.35"/>
<rect x="558.8" y="637.2" width="1.1" height="0.7" fill="#3a3af0" fill-opacity="0.35"/>
<rect x="569.8" y="637.3" width="1.9" height="0.6" fill="#3a3af0" fill-opacity="0.35"/>
<rect x="575.6" y="637.0" width="0.8" height="0.9" fill="#3a3af0" fill-opacity="0.35"/>
<rect x="582.6" y="637.3" width="1.1" height="0.6" fill="#3a3af0" fill-opacity="0.35"/>
<rect x="588.4" y="637.1" width="2.5" height="0.8" fill="#3a3af0" fill-opacity="0.35"/>
<rect x="596.4" y="637.4" width="1.9" height="0.5" fill="#3a3af0" fill-opacity="0.35"/>
<rect x="603.4" y="637.3" width="2.0" height="0.6" fill="#3a3af0" fill-opacity="0.35"/>
<rect x="612.3" y="637.5" width="0.9" height="0.4" fill="#3a3af0" fill-opacity="0.35"/>
<rect x="622.2" y="636.9" width="2.4" height="1.0" fill="#3a3af0" fill-opacity="0.35"/>
<rect x="628.1" y="637.2" width="1.6" height="0.7" fill="#3a3af0" fill-opacity="0.35"/>
<rect x="634.9" y="637.1" width="1.6" height="0.8" fill="#3a3af0" fill-opacity="0.35"/>
<rect x="647.1" y="637.4" width="2.4" height="0.5" fill="#3a3af0" fill-opacity="0.35"/>
<rect x="659.5" y="637.3" width="1.0" height="0.6" fill="#3a3af0" fill-opacity="0.35"/>
<rect x="668.8" y="637.5" width="2.0" height="0.4" fill="#3a3af0" fill-opacity="0.35"/>
<rect x="680.1" y="637.2" width="2.5" height="0.7" fill="#3a3af0" fill-opacity="0.35"/>
<rect x="685.5" y="637.1" width="2.2" height="0.8" fill="#3a3af0" fill-opacity="0.35"/>
<rect x="691.5" y="637.4" width="0.9" height="0.5" fill="#3a3af0" fill-opacity="0.35"/>
<rect x="701.8" y="637.1" width="1.4" height="0.8" fill="#3a3af0" fill-opacity="0.35"/>
<rect x="713.0" y="637.3" width="2.0" height="0.6" fill="#3a3af0" fill-opacity="0.35"/>
<text x="38.5" y="667.0" font-size="6.2" text-anchor="start" font-weight="normal" font-style="normal" fill="#111" >C666-1</text>
<text x="70.4" y="659.6" font-size="6.2" text-anchor="end" font-weight="normal" font-style="normal" fill="#111" >202</text>
<text x="70.4" y="674.2" font-size="6.2" text-anchor="end" font-weight="normal" font-style="normal" fill="#111" >-202</text>
<polyline points="72.2,656.1 74.8,656.1 74.8,673.9 72.2,673.9" fill="none" stroke="#666" stroke-width="0.9"/>
<line x1="75.5" y1="665.1" x2="722" y2="665.1" stroke="#f8b070" stroke-opacity="0.45" stroke-width="1" stroke-dasharray="3 0.6"/>
<polygon points="224.40,665.10 224.40,663.60 224.94,663.60 224.94,663.41 225.48,663.41 225.48,663.19 226.02,663.19 226.02,662.40 226.55,662.40 226.55,660.17 227.09,660.17 227.09,657.87 227.63,657.87 227.63,656.40 228.17,656.40 228.17,657.94 228.71,657.94 228.71,660.59 229.25,660.59 229.25,662.50 229.78,662.50 229.78,663.16 230.32,663.16 230.32,663.47 230.86,663.47 230.86,663.65 231.40,663.65 231.40,665.10" fill="#1414f0"/>
<polygon points="325.80,665.10 325.80,663.08 326.31,663.08 326.31,662.53 326.83,662.53 326.83,660.79 327.34,660.79 327.34,660.40 327.86,660.40 327.86,660.45 328.37,660.45 328.37,663.22 328.89,663.22 328.89,662.89 329.40,662.89 329.40,665.10" fill="#1414f0"/>
<polygon points="494.90,665.10 494.90,663.55 495.41,663.55 495.41,663.36 495.93,663.36 495.93,662.11 496.44,662.11 496.44,661.60 496.96,661.60 496.96,662.01 497.47,662.01 497.47,663.71 497.99,663.71 497.99,663.63 498.50,663.63 498.50,665.10" fill="#1414f0"/>
<polygon points="573.40,665.10 573.40,663.97 573.94,663.97 573.94,663.60 574.48,663.60 574.48,663.01 575.02,663.01 575.02,662.51 575.55,662.51 575.55,661.03 576.09,661.03 576.09,658.97 576.63,658.97 576.63,658.10 577.17,658.10 577.17,658.51 577.71,658.51 577.71,661.18 578.25,661.18 578.25,662.30 578.78,662.30 578.78,663.41 579.32,663.41 579.32,663.73 579.86,663.73 579.86,664.13 580.40,664.13 580.40,665.10" fill="#1414f0"/>
<polygon points="682.70,665.10 682.70,664.75 683.28,664.75 683.28,664.55 683.86,664.55 683.86,663.82 684.43,663.82 684.43,663.07 685.01,663.07 685.01,662.70 685.59,662.70 685.59,662.86 686.17,662.86 686.17,663.84 686.74,663.84 686.74,664.57 687.32,664.57 687.32,664.79 687.90,664.79 687.90,665.10" fill="#1414f0"/>
<text x="38.5" y="692.2" font-size="6.2" text-anchor="start" font-weight="normal" font-style="normal" fill="#111" >HK1 EBV+</text>
<text x="70.4" y="683.2" font-size="6.2" text-anchor="end" font-weight="normal" font-style="normal" fill="#111" >200</text>
<text x="70.4" y="699.8" font-size="6.2" text-anchor="end" font-weight="normal" font-style="normal" fill="#111" >-200</text>
<polyline points="72.2,679.7 74.8,679.7 74.8,699.5 72.2,699.5" fill="none" stroke="#666" stroke-width="0.9"/>
<line x1="75.5" y1="689.3" x2="722" y2="689.3" stroke="#f8b070" stroke-opacity="0.45" stroke-width="1" stroke-dasharray="3 0.6"/>
<polygon points="224.70,689.30 224.70,688.00 225.23,688.00 225.23,687.72 225.77,687.72 225.77,686.15 226.30,686.15 226.30,684.49 226.83,684.49 226.83,680.36 227.37,680.36 227.37,680.00 227.90,680.00 227.90,680.00 228.43,680.00 228.43,680.38 228.97,680.38 228.97,684.91 229.50,684.91 229.50,686.75 230.03,686.75 230.03,687.55 230.57,687.55 230.57,687.93 231.10,687.93 231.10,689.30" fill="#1414f0"/>
<rect x="152.3" y="687.8" width="1.4" height="1.5" fill="#1414f0"/>
<polygon points="325.80,689.30 325.80,686.60 326.31,686.60 326.31,686.64 326.83,686.64 326.83,685.14 327.34,685.14 327.34,684.60 327.86,684.60 327.86,685.37 328.37,685.37 328.37,687.32 328.89,687.32 328.89,686.65 329.40,686.65 329.40,689.30" fill="#1414f0"/>
<polygon points="494.90,689.30 494.90,687.61 495.41,687.61 495.41,687.93 495.93,687.93 495.93,686.44 496.44,686.44 496.44,686.30 496.96,686.30 496.96,686.36 497.47,686.36 497.47,687.95 497.99,687.95 497.99,688.06 498.50,688.06 498.50,689.30" fill="#1414f0"/>
<polygon points="575.10,689.30 575.10,686.84 575.61,686.84 575.61,687.36 576.13,687.36 576.13,684.06 576.64,684.06 576.64,683.80 577.16,683.80 577.16,684.21 577.67,684.21 577.67,687.35 578.19,687.35 578.19,686.53 578.70,686.53 578.70,689.30" fill="#1414f0"/>
<polygon points="683.50,689.30 683.50,688.10 684.01,688.10 684.01,687.57 684.53,687.57 684.53,686.55 685.04,686.55 685.04,686.30 685.56,686.30 685.56,686.88 686.07,686.88 686.07,687.77 686.59,687.77 686.59,687.87 687.10,687.87 687.10,689.30" fill="#1414f0"/>
<text x="38.5" y="716.7" font-size="6.2" text-anchor="start" font-weight="normal" font-style="normal" fill="#111" >HK1</text>
<text x="70.4" y="709.1" font-size="6.2" text-anchor="end" font-weight="normal" font-style="normal" fill="#111" >200</text>
<text x="70.4" y="725.4" font-size="6.2" text-anchor="end" font-weight="normal" font-style="normal" fill="#111" >-200</text>
<polyline points="72.2,705.6 74.8,705.6 74.8,725.1 72.2,725.1" fill="none" stroke="#666" stroke-width="0.9"/>
<line x1="75.5" y1="715.1" x2="722" y2="715.1" stroke="#f8b070" stroke-opacity="0.45" stroke-width="1" stroke-dasharray="3 0.6"/>
<polygon points="224.40,715.10 224.40,714.64 224.94,714.64 224.94,714.45 225.48,714.45 225.48,714.17 226.02,714.17 226.02,713.78 226.55,713.78 226.55,712.97 227.09,712.97 227.09,711.41 227.63,711.41 227.63,711.40 228.17,711.40 228.17,711.96 228.71,711.96 228.71,713.19 229.25,713.19 229.25,713.98 229.78,713.98 229.78,713.99 230.32,713.99 230.32,714.28 230.86,714.28 230.86,714.61 231.40,714.61 231.40,715.10" fill="#1414f0"/>
<polygon points="325.10,715.10 325.10,714.70 325.66,714.70 325.66,714.54 326.21,714.54 326.21,714.06 326.77,714.06 326.77,713.16 327.32,713.16 327.32,712.80 327.88,712.80 327.88,712.87 328.43,712.87 328.43,714.07 328.99,714.07 328.99,714.48 329.54,714.48 329.54,714.79 330.10,714.79 330.10,715.10" fill="#1414f0"/>
<polygon points="494.90,715.10 494.90,713.75 495.41,713.75 495.41,713.60 495.93,713.60 495.93,712.87 496.44,712.87 496.44,712.60 496.96,712.60 496.96,713.05 497.47,713.05 497.47,713.99 497.99,713.99 497.99,713.91 498.50,713.91 498.50,715.10" fill="#1414f0"/>
<polygon points="575.10,715.10 575.10,713.26 575.61,713.26 575.61,713.02 576.13,713.02 576.13,711.94 576.64,711.94 576.64,711.60 577.16,711.60 577.16,711.70 577.67,711.70 577.67,713.11 578.19,713.11 578.19,713.58 578.70,713.58 578.70,715.10" fill="#1414f0"/>
<rect x="684.6" y="714.1" width="1.4" height="1.0" fill="#1414f0"/>
<text x="38.5" y="739.3" font-size="6.2" text-anchor="start" font-weight="normal" font-style="normal" fill="#111" >NP69</text>
<text x="70.4" y="733.3" font-size="6.2" text-anchor="end" font-weight="normal" font-style="normal" fill="#111" >565</text>
<text x="70.4" y="747.4" font-size="6.2" text-anchor="end" font-weight="normal" font-style="normal" fill="#111" >-565</text>
<polyline points="72.2,729.8 74.8,729.8 74.8,747.1 72.2,747.1" fill="none" stroke="#666" stroke-width="0.9"/>
<line x1="75.5" y1="738.4" x2="722" y2="738.4" stroke="#f8b070" stroke-opacity="0.45" stroke-width="1" stroke-dasharray="3 0.6"/>
<polygon points="224.90,738.40 224.90,737.08 225.45,737.08 225.45,736.54 225.99,736.54 225.99,736.00 226.54,736.00 226.54,733.45 227.08,733.45 227.08,731.49 227.63,731.49 227.63,730.00 228.17,730.00 228.17,731.13 228.72,731.13 228.72,733.69 229.26,733.69 229.26,735.95 229.81,735.95 229.81,736.64 230.35,736.64 230.35,736.92 230.90,736.92 230.90,738.40" fill="#1414f0"/>
<polygon points="325.80,738.40 325.80,735.97 326.31,735.97 326.31,735.62 326.83,735.62 326.83,733.60 327.34,733.60 327.34,733.00 327.86,733.00 327.86,733.23 328.37,733.23 328.37,735.39 328.89,735.39 328.89,735.52 329.40,735.52 329.40,738.40" fill="#1414f0"/>
<polygon points="495.50,738.40 495.50,736.71 496.10,736.71 496.10,736.40 496.70,736.40 496.70,736.40 497.30,736.40 497.30,736.60 497.90,736.60 497.90,738.40" fill="#1414f0"/>
<polygon points="575.10,738.40 575.10,736.20 575.61,736.20 575.61,735.59 576.13,735.59 576.13,733.72 576.64,733.72 576.64,732.90 577.16,732.90 577.16,733.33 577.67,733.33 577.67,735.77 578.19,735.77 578.19,735.72 578.70,735.72 578.70,738.40" fill="#1414f0"/>
<polygon points="684.10,738.40 684.10,736.61 684.70,736.61 684.70,736.40 685.30,736.40 685.30,736.40 685.90,736.40 685.90,736.53 686.50,736.53 686.50,738.40" fill="#1414f0"/>
<text x="38.8" y="766.9" font-size="6.2" text-anchor="start" font-weight="normal" font-style="normal" fill="#111" >C666-1</text>
<text x="70.4" y="759.6" font-size="6.2" text-anchor="end" font-weight="normal" font-style="normal" fill="#111" >81</text>
<text x="70.4" y="773.7" font-size="6.2" text-anchor="end" font-weight="normal" font-style="normal" fill="#111" >-81</text>
<polyline points="72.2,756.1 74.8,756.1 74.8,773.4 72.2,773.4" fill="none" stroke="#666" stroke-width="0.9"/>
<line x1="75.5" y1="764.1" x2="722" y2="764.1" stroke="#f6b26b" stroke-opacity="0.55" stroke-width="1" stroke-dasharray="1.5 1.5"/>
<polygon points="224.20,764.10 224.20,763.41 224.73,763.41 224.73,763.11 225.27,763.11 225.27,762.63 225.80,762.63 225.80,762.20 226.33,762.20 226.33,759.66 226.87,759.66 226.87,759.50 227.40,759.50 227.40,759.50 227.93,759.50 227.93,760.01 228.47,760.01 228.47,761.54 229.00,761.54 229.00,762.70 229.53,762.70 229.53,763.29 230.07,763.29 230.07,763.39 230.60,763.39 230.60,764.10" fill="#1414f0"/>
<polygon points="326.30,764.10 326.30,762.06 326.81,762.06 326.81,762.24 327.33,762.24 327.33,760.71 327.84,760.71 327.84,760.60 328.36,760.60 328.36,760.94 328.87,760.94 328.87,762.10 329.39,762.10 329.39,762.15 329.90,762.15 329.90,764.10" fill="#1414f0"/>
<rect x="337.9" y="763.1" width="1.4" height="1.0" fill="#1414f0"/>
<polygon points="494.90,764.10 494.90,762.89 495.41,762.89 495.41,763.10 495.93,763.10 495.93,761.93 496.44,761.93 496.44,761.60 496.96,761.60 496.96,762.07 497.47,762.07 497.47,762.83 497.99,762.83 497.99,763.13 498.50,763.13 498.50,764.10" fill="#1414f0"/>
<rect x="505.6" y="762.6" width="1.4" height="1.5" fill="#1414f0"/>
<polygon points="574.10,764.10 574.10,763.02 574.64,763.02 574.64,762.64 575.18,762.64 575.18,761.60 575.72,761.60 575.72,760.71 576.25,760.71 576.25,759.32 576.79,759.32 576.79,756.43 577.33,756.43 577.33,756.10 577.87,756.10 577.87,756.40 578.41,756.40 578.41,759.75 578.95,759.75 578.95,761.61 579.48,761.61 579.48,761.59 580.02,761.59 580.02,762.48 580.56,762.48 580.56,762.88 581.10,762.88 581.10,764.10" fill="#1414f0"/>
<polygon points="588.20,764.10 588.20,763.39 588.73,763.39 588.73,763.35 589.27,763.35 589.27,762.80 589.80,762.80 589.80,761.80 590.33,761.80 590.33,760.57 590.87,760.57 590.87,759.90 591.40,759.90 591.40,759.90 591.93,759.90 591.93,760.04 592.47,760.04 592.47,761.90 593.00,761.90 593.00,762.94 593.53,762.94 593.53,763.32 594.07,763.32 594.07,763.55 594.60,763.55 594.60,764.10" fill="#1414f0"/>
<polygon points="633.80,764.10 633.80,762.61 634.40,762.61 634.40,762.40 635.00,762.40 635.00,762.40 635.60,762.40 635.60,762.48 636.20,762.48 636.20,764.10" fill="#1414f0"/>
<polygon points="682.70,764.10 682.70,763.69 683.28,763.69 683.28,763.43 683.86,763.43 683.86,763.13 684.43,763.13 684.43,761.83 685.01,761.83 685.01,761.70 685.59,761.70 685.59,761.93 686.17,761.93 686.17,762.71 686.74,762.71 686.74,763.52 687.32,763.52 687.32,763.72 687.90,763.72 687.90,764.10" fill="#1414f0"/>
<text x="40.0" y="788.4" font-size="6.2" text-anchor="start" font-weight="normal" font-style="normal" fill="#111" >HK1 EBV+</text>
<text x="70.4" y="779.3" font-size="6.2" text-anchor="end" font-weight="normal" font-style="normal" fill="#111" >42</text>
<text x="70.4" y="795.6" font-size="6.2" text-anchor="end" font-weight="normal" font-style="normal" fill="#111" >-42</text>
<polyline points="72.2,775.8 74.8,775.8 74.8,795.3 72.2,795.3" fill="none" stroke="#666" stroke-width="0.9"/>
<line x1="75.5" y1="785.7" x2="722" y2="785.7" stroke="#f6b26b" stroke-opacity="0.55" stroke-width="1" stroke-dasharray="1.5 1.5"/>
<polygon points="224.20,785.70 224.20,784.06 224.73,784.06 224.73,783.87 225.27,783.87 225.27,782.58 225.80,782.58 225.80,780.17 226.33,780.17 226.33,777.15 226.87,777.15 226.87,775.70 227.40,775.70 227.40,775.70 227.93,775.70 227.93,776.54 228.47,776.54 228.47,781.11 229.00,781.11 229.00,783.36 229.53,783.36 229.53,783.40 230.07,783.40 230.07,784.36 230.60,784.36 230.60,785.70" fill="#1414f0"/>
<rect x="165.2" y="784.2" width="1.4" height="1.5" fill="#1414f0"/>
<polygon points="326.30,785.70 326.30,784.24 326.81,784.24 326.81,784.18 327.33,784.18 327.33,782.83 327.84,782.83 327.84,782.70 328.36,782.70 328.36,782.83 328.87,782.83 328.87,784.04 329.39,784.04 329.39,784.14 329.90,784.14 329.90,785.70" fill="#1414f0"/>
<rect x="337.9" y="784.7" width="1.4" height="1.0" fill="#1414f0"/>
<rect x="355.4" y="784.7" width="1.4" height="1.0" fill="#1414f0"/>
<rect x="397.5" y="784.7" width="1.4" height="1.0" fill="#1414f0"/>
<polygon points="494.40,785.70 494.40,784.71 494.91,784.71 494.91,784.57 495.43,784.57 495.43,783.63 495.94,783.63 495.94,783.20 496.46,783.20 496.46,783.51 496.97,783.51 496.97,784.71 497.49,784.71 497.49,784.71 498.00,784.71 498.00,785.70" fill="#1414f0"/>
<rect x="508.3" y="784.7" width="1.4" height="1.0" fill="#1414f0"/>
<polygon points="575.10,785.70 575.10,784.00 575.61,784.00 575.61,784.03 576.13,784.03 576.13,782.89 576.64,782.89 576.64,782.20 577.16,782.20 577.16,782.87 577.67,782.87 577.67,783.98 578.19,783.98 578.19,784.28 578.70,784.28 578.70,785.70" fill="#1414f0"/>
<rect x="612.9" y="784.2" width="1.4" height="1.5" fill="#1414f0"/>
<polygon points="683.50,785.70 683.50,783.99 684.01,783.99 684.01,784.07 684.53,784.07 684.53,781.98 685.04,781.98 685.04,781.70 685.56,781.70 685.56,782.45 686.07,782.45 686.07,783.61 686.59,783.61 686.59,783.75 687.10,783.75 687.10,785.70" fill="#1414f0"/>
<text x="40.0" y="811.4" font-size="6.2" text-anchor="start" font-weight="normal" font-style="normal" fill="#111" >HK1</text>
<text x="70.4" y="803.9" font-size="6.2" text-anchor="end" font-weight="normal" font-style="normal" fill="#111" >42</text>
<text x="70.4" y="820.4" font-size="6.2" text-anchor="end" font-weight="normal" font-style="normal" fill="#111" >-42</text>
<polyline points="72.2,800.4 74.8,800.4 74.8,820.1 72.2,820.1" fill="none" stroke="#666" stroke-width="0.9"/>
<line x1="75.5" y1="810.1" x2="722" y2="810.1" stroke="#f6b26b" stroke-opacity="0.55" stroke-width="1" stroke-dasharray="1.5 1.5"/>
<polygon points="223.90,810.10 223.90,809.81 224.44,809.81 224.44,809.80 224.98,809.80 224.98,809.55 225.52,809.55 225.52,809.35 226.05,809.35 226.05,809.35 226.59,809.35 226.59,808.57 227.13,808.57 227.13,808.30 227.67,808.30 227.67,808.57 228.21,808.57 228.21,809.26 228.75,809.26 228.75,809.47 229.28,809.47 229.28,809.56 229.82,809.56 229.82,809.71 230.36,809.71 230.36,809.88 230.90,809.88 230.90,810.10" fill="#1414f0"/>
<rect x="327.4" y="809.1" width="1.4" height="1.0" fill="#1414f0"/>
<rect x="496.3" y="809.1" width="1.4" height="1.0" fill="#1414f0"/>
<rect x="576.3" y="808.6" width="1.4" height="1.5" fill="#1414f0"/>
<rect x="684.6" y="809.1" width="1.4" height="1.0" fill="#1414f0"/>
<text x="38.8" y="831.2" font-size="6.2" text-anchor="start" font-weight="normal" font-style="normal" fill="#111" >NP69</text>
<text x="70.4" y="825.8" font-size="6.2" text-anchor="end" font-weight="normal" font-style="normal" fill="#111" >67</text>
<text x="70.4" y="839.3" font-size="6.2" text-anchor="end" font-weight="normal" font-style="normal" fill="#111" >-67</text>
<polyline points="72.2,822.3 74.8,822.3 74.8,839.0 72.2,839.0" fill="none" stroke="#666" stroke-width="0.9"/>
<line x1="75.5" y1="830.2" x2="722" y2="830.2" stroke="#f6b26b" stroke-opacity="0.55" stroke-width="1" stroke-dasharray="1.5 1.5"/>
<polygon points="224.20,830.20 224.20,829.11 224.73,829.11 224.73,828.82 225.27,828.82 225.27,827.99 225.80,827.99 225.80,825.90 226.33,825.90 226.33,822.01 226.87,822.01 226.87,822.00 227.40,822.00 227.40,822.00 227.93,822.00 227.93,822.96 228.47,822.96 228.47,826.37 229.00,826.37 229.00,828.01 229.53,828.01 229.53,828.78 230.07,828.78 230.07,828.78 230.60,828.78 230.60,830.20" fill="#1414f0"/>
<polygon points="326.30,830.20 326.30,828.36 326.81,828.36 326.81,828.03 327.33,828.03 327.33,826.62 327.84,826.62 327.84,826.20 328.36,826.20 328.36,826.29 328.87,826.29 328.87,828.14 329.39,828.14 329.39,828.34 329.90,828.34 329.90,830.20" fill="#1414f0"/>
<polygon points="494.40,830.20 494.40,828.97 494.91,828.97 494.91,828.50 495.43,828.50 495.43,827.58 495.94,827.58 495.94,827.20 496.46,827.20 496.46,827.79 496.97,827.79 496.97,828.68 497.49,828.68 497.49,828.80 498.00,828.80 498.00,830.20" fill="#1414f0"/>
<polygon points="575.20,830.20 575.20,828.29 575.71,828.29 575.71,827.81 576.23,827.81 576.23,826.02 576.74,826.02 576.74,825.70 577.26,825.70 577.26,826.58 577.77,826.58 577.77,828.26 578.29,828.26 578.29,828.25 578.80,828.25 578.80,830.20" fill="#1414f0"/>
<rect x="612.5" y="829.2" width="1.4" height="1.0" fill="#1414f0"/>
<polygon points="683.50,830.20 683.50,827.87 684.01,827.87 684.01,827.74 684.53,827.74 684.53,826.11 685.04,826.11 685.04,825.70 685.56,825.70 685.56,825.94 686.07,825.94 686.07,827.57 686.59,827.57 686.59,827.81 687.10,827.81 687.10,830.20" fill="#1414f0"/>
<line x1="76.5" y1="764.1" x2="722" y2="764.1" stroke="#6060f0" stroke-opacity="0.35" stroke-width="0.9" stroke-dasharray="1.2 4.3"/>
<line x1="76.5" y1="785.7" x2="722" y2="785.7" stroke="#6060f0" stroke-opacity="0.35" stroke-width="0.9" stroke-dasharray="1.2 4.3"/>
<line x1="76.5" y1="810.1" x2="722" y2="810.1" stroke="#6060f0" stroke-opacity="0.35" stroke-width="0.9" stroke-dasharray="1.2 4.3"/>
<line x1="76.5" y1="830.2" x2="722" y2="830.2" stroke="#6060f0" stroke-opacity="0.35" stroke-width="0.9" stroke-dasharray="1.2 4.3"/>
<line x1="575.0" y1="403.7" x2="575.0" y2="408.3" stroke="#f0384c" stroke-width="1"/>
<text x="568.2" y="408.7" font-size="7.5" text-anchor="end" font-weight="normal" font-style="normal" fill="#111" >rs13302470</text>
<line x1="575.8" y1="411.2" x2="575.8" y2="415.8" stroke="#f0384c" stroke-width="1"/>
<text x="567.9" y="416.2" font-size="7.5" text-anchor="end" font-weight="normal" font-style="normal" fill="#111" >rs1867277</text>
<line x1="576.1" y1="418.6" x2="576.1" y2="423.2" stroke="#f0384c" stroke-width="1"/>
<text x="567.9" y="423.6" font-size="7.5" text-anchor="end" font-weight="normal" font-style="normal" fill="#111" >rs1867278</text>
<line x1="576.4" y1="426.3" x2="576.4" y2="430.9" stroke="#f0384c" stroke-width="1"/>
<text x="568.4" y="431.3" font-size="7.5" text-anchor="end" font-weight="normal" font-style="normal" fill="#111" >rs1867280</text>
<line x1="577.8" y1="434.0" x2="577.8" y2="438.6" stroke="#f0384c" stroke-width="1"/>
<text x="571.2" y="439.0" font-size="7.5" text-anchor="end" font-weight="normal" font-style="normal" fill="#111" >rs3021526</text>
<line x1="578.3" y1="441.1" x2="578.3" y2="445.7" stroke="#f0384c" stroke-width="1"/>
<text x="571.2" y="446.1" font-size="7.5" text-anchor="end" font-weight="normal" font-style="normal" fill="#111" >rs1443434</text>
<line x1="578.3" y1="448.8" x2="578.3" y2="453.4" stroke="#f0384c" stroke-width="1"/>
<text x="571.7" y="453.8" font-size="7.5" text-anchor="end" font-weight="normal" font-style="normal" fill="#111" >rs1443435</text>
<path d="M 134.3 115.3 C 349.6 297.0 568.8 233.6 676.8 115.8" fill="none" stroke="#d24fb8" stroke-width="1.7"/>
<path d="M 649.1 115.3 Q 664.8 129.5 677.1 115.6" fill="none" stroke="#b8169a" stroke-width="1.3"/>
<path d="M 657.3 115.3 Q 667.2 126.3 677.1 115.6" fill="none" stroke="#b8169a" stroke-width="1.3"/>
<path d="M 677.1 115.6 Q 681.3 121 685.4 115.3" fill="none" stroke="#b8169a" stroke-width="1.3"/>
<path d="M 227.9 842.3 C 379.7 974.9 528.5 897.2 576.7 842.5" fill="none" stroke="#b4128e" stroke-width="1.6"/>
<path d="M 327.0 842.3 C 359.7 875.9 448.3 939.8 576.7 842.5" fill="none" stroke="#b4128e" stroke-width="1.6"/>
<path d="M 576.7 842.5 Q 631 885.9 685.3 842.5" fill="none" stroke="#b4128e" stroke-width="1.6"/>
</svg></body></html>
